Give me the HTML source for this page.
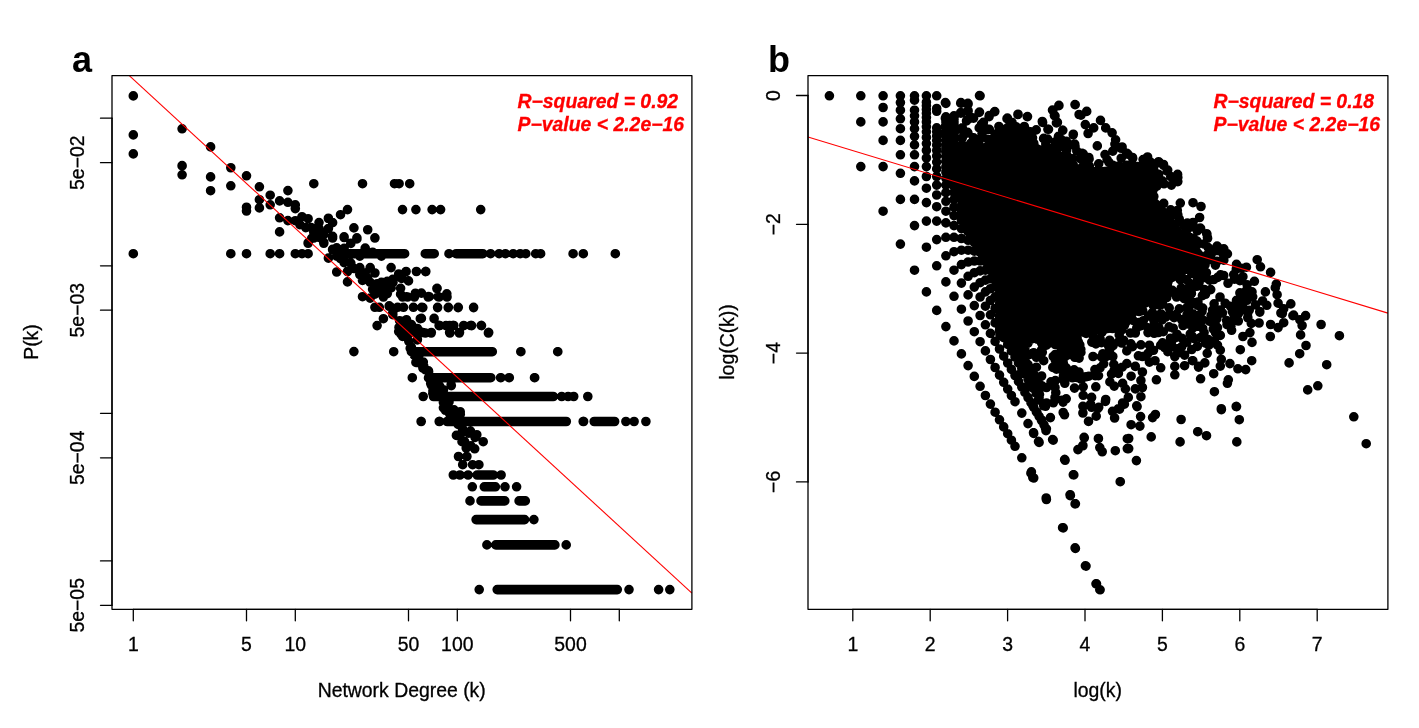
<!DOCTYPE html>
<html lang="en"><head><meta charset="utf-8"><title>Figure</title>
<style>
html,body{margin:0;padding:0;background:#fff;}
body{width:1419px;height:728px;overflow:hidden;}
svg{display:block;font-family:"Liberation Sans",sans-serif;}
.ax{stroke:#000;stroke-width:1.3;fill:none;stroke-linecap:round}
.fr{stroke:#000;stroke-width:1.3;fill:none;stroke-linejoin:round}
.lb{font-size:19.4px;fill:#000;stroke:#000;stroke-width:0.3px}
.tt{font-size:36px;font-weight:bold;fill:#000}
.st{font-size:19.4px;font-weight:bold;font-style:italic;fill:#f00;stroke:#f00;stroke-width:0.3px}
.pt{stroke:#000;stroke-width:9.6;stroke-linecap:round;fill:none}
.rl{stroke:#f00;stroke-width:1.1;fill:none}
</style></head><body>
<svg width="1419" height="728" viewBox="0 0 1419 728">
<rect width="1419" height="728" fill="#fff"/>

<g id="panel-a">
<path class="pt" d="M133.3 95.9h.01M133.3 134.9h.01M133.3 153.9h.01M182.1 128.8h.01M210.6 146.9h.01M182.1 165.6h.01M230.8 167.7h.01M182.1 165.9h.01M182.1 174.8h.01M210.6 176.9h.01M210.6 190.7h.01M230.8 167.8h.01M230.8 185.8h.01M246.5 175.8h.01M246.5 207.2h.01M246.5 211.0h.01M259.4 186.8h.01M259.4 199.7h.01M259.4 207.9h.01M270.2 195.2h.01M270.2 204.8h.01M279.6 200.9h.01M279.6 217.8h.01M279.6 231.9h.01M287.9 190.6h.01M287.9 202.3h.01M287.9 220.6h.01M295.3 208.6h.01M133.3 253.7h.01M230.8 253.7h.01M246.5 253.7h.01M270.2 253.7h.01M279.6 253.7h.01M295.3 253.7h.01M302.0 253.7h.01M308.1 253.7h.01M313.8 183.7h.01M362.5 183.7h.01M394.5 183.7h.01M399.1 183.7h.01M409.7 183.7h.01M402.5 209.6h.01M415.9 209.6h.01M432.1 209.6h.01M440.6 209.6h.01M347.5 209.6h.01M340.5 214.7h.01M328.4 218.5h.01M332.6 222.7h.01M353.9 227.9h.01M367.7 229.8h.01M374.9 237.8h.01M344.1 236.8h.01M356.9 237.8h.01M350.8 243.2h.01M365.2 248.1h.01M308.1 243.2h.01M323.8 242.5h.01M295.3 204.9h.01M302.0 216.7h.01M308.1 218.7h.01M295.3 220.7h.01M299.9 224.6h.01M305.8 227.6h.01M311.2 227.6h.01M319.0 222.6h.01M328.4 218.2h.01M332.6 222.6h.01M319.0 228.5h.01M313.8 232.5h.01M323.8 234.5h.01M328.4 228.5h.01M332.6 236.4h.01M319.0 237.4h.01M323.8 243.3h.01M308.1 243.3h.01M311.7 238.4h.01M347.5 209.6h.01M340.5 214.7h.01M353.9 227.8h.01M367.7 229.7h.01M374.9 237.9h.01M344.1 236.9h.01M356.9 237.9h.01M350.8 243.3h.01M332.6 249.3h.01M336.7 248.3h.01M340.5 250.3h.01M344.1 248.3h.01M365.2 248.3h.01M359.8 256.2h.01M381.4 256.2h.01M372.6 252.2h.01M336.7 256.2h.01M344.1 260.1h.01M350.8 263.1h.01M328.4 258.1h.01M308.1 242.9h.01M323.8 242.9h.01M313.8 238.0h.01M332.6 238.0h.01M344.1 237.5h.01M356.9 238.9h.01M350.8 243.4h.01M374.9 238.0h.01M365.2 248.8h.01M381.4 255.7h.01M359.8 255.7h.01M332.6 249.8h.01M336.7 247.8h.01M344.1 250.8h.01M338.5 254.7h.01M328.4 258.2h.01M340.5 258.7h.01M344.1 262.6h.01M350.8 263.6h.01M336.7 272.0h.01M347.5 271.5h.01M353.9 268.5h.01M359.8 267.6h.01M370.2 267.6h.01M374.9 273.0h.01M359.8 274.5h.01M347.5 281.9h.01M362.5 280.4h.01M370.2 282.4h.01M374.9 284.3h.01M381.4 282.4h.01M387.3 281.4h.01M392.8 279.4h.01M381.4 288.3h.01M387.3 290.3h.01M383.4 295.2h.01M374.9 294.2h.01M362.5 296.7h.01M370.2 298.1h.01M391.1 267.6h.01M398.7 274.0h.01M406.1 271.5h.01M416.4 271.5h.01M425.8 271.5h.01M408.5 280.9h.01M401.6 278.4h.01M400.6 288.3h.01M400.6 294.2h.01M406.6 296.7h.01M415.4 293.2h.01M421.4 293.2h.01M429.2 296.7h.01M437.1 288.3h.01M438.1 296.7h.01M302.0 253.7h.01M308.1 253.7h.01M374.9 307.3h.01M379.3 307.3h.01M391.1 307.3h.01M397.6 307.3h.01M403.5 307.3h.01M413.4 307.3h.01M421.8 307.3h.01M437.6 307.3h.01M448.4 307.3h.01M458.3 307.3h.01M473.6 307.3h.01M377.1 325.6h.01M439.1 325.6h.01M446.0 325.6h.01M452.9 325.6h.01M463.7 325.6h.01M471.6 325.6h.01M481.5 325.6h.01M420.3 318.7h.01M434.1 318.7h.01M383.4 318.7h.01M449.9 333.0h.01M459.3 333.0h.01M488.4 333.0h.01M425.3 333.0h.01M431.2 333.0h.01M393.7 351.7h.01M383.4 297.0h.01M402.6 297.0h.01M407.5 297.0h.01M414.4 297.0h.01M428.2 297.0h.01M439.1 297.0h.01M447.0 297.0h.01M389.2 305.9h.01M383.4 318.7h.01M392.8 314.7h.01M399.6 320.7h.01M406.5 319.7h.01M411.4 324.6h.01M399.6 327.6h.01M404.5 332.5h.01M409.5 332.5h.01M417.4 328.5h.01M417.4 334.5h.01M402.6 336.4h.01M417.4 339.4h.01M425.3 333.0h.01M431.2 333.0h.01M411.4 347.3h.01M417.4 362.1h.01M423.3 362.1h.01M412.3 377.7h.01M500.6 377.7h.01M509.0 377.7h.01M534.7 377.7h.01M423.2 396.5h.01M421.2 421.5h.01M439.5 421.5h.01M417.8 361.9h.01M423.7 365.9h.01M428.6 371.8h.01M429.6 377.7h.01M433.5 384.6h.01M437.5 389.5h.01M451.3 385.6h.01M439.5 396.4h.01M443.4 402.4h.01M446.4 408.3h.01M451.3 414.2h.01M460.2 412.2h.01M455.3 420.1h.01M432.1 209.6h.01M440.6 209.6h.01M480.7 209.6h.01M434.2 253.7h.01M449.0 253.7h.01M490.6 253.7h.01M499.1 253.7h.01M505.4 253.7h.01M513.2 253.7h.01M520.2 253.7h.01M525.8 253.7h.01M535.7 253.7h.01M540.6 253.7h.01M573.1 253.7h.01M583.3 253.7h.01M615.3 253.7h.01M488.7 332.6h.01M520.9 351.7h.01M557.8 351.7h.01M500.9 377.7h.01M509.3 377.7h.01M534.5 377.7h.01M561.7 396.5h.01M568.1 396.5h.01M573.7 396.5h.01M587.8 396.5h.01M583.6 421.5h.01M625.9 421.5h.01M634.1 421.5h.01M645.9 421.5h.01M421.1 421.5h.01M439.2 421.5h.01M583.2 421.5h.01M453.6 414.2h.01M459.2 424.1h.01M456.4 435.4h.01M462.0 432.6h.01M470.5 431.1h.01M476.8 434.7h.01M462.0 441.7h.01M483.2 441.7h.01M466.2 448.1h.01M474.7 448.8h.01M458.5 456.5h.01M466.9 456.5h.01M462.7 464.7h.01M472.6 464.7h.01M478.9 464.7h.01M453.3 475.0h.01M459.9 475.0h.01M468.1 475.0h.01M501.1 475.0h.01M472.3 486.8h.01M505.0 486.8h.01M516.6 486.8h.01M470.0 500.9h.01M533.9 519.6h.01M486.9 544.9h.01M566.2 544.9h.01M479.2 589.6h.01M629.0 589.6h.01M658.6 589.6h.01M669.8 589.6h.01M425.6 271.6h.01M436.9 288.5h.01M446.8 293.8h.01M428.5 296.6h.01M438.3 296.9h.01M421.4 293.1h.01M434.1 318.4h.01M421.4 318.4h.01M422.8 307.6h.01M437.6 307.6h.01M448.2 307.6h.01M458.1 307.6h.01M473.6 307.6h.01M439.7 325.5h.01M449.6 325.5h.01M453.8 325.5h.01M463.7 325.5h.01M470.7 325.5h.01M481.3 325.5h.01M422.8 332.5h.01M431.3 332.5h.01M449.6 332.5h.01M459.5 332.5h.01M488.6 332.5h.01M520.8 351.7h.01M557.7 351.7h.01M353.9 351.6h.01M401.0 334.2h.01M410.2 348.3h.01M417.3 362.4h.01M428.5 377.9h.01M432.8 393.4h.01M445.4 410.3h.01M453.9 420.2h.01M417.3 339.9h.01M418.7 356.8h.01M428.5 370.9h.01M451.1 385.0h.01M449.0 401.9h.01M460.2 411.7h.01M458.1 424.4h.01M408.8 341.3h.01M414.4 355.4h.01M422.9 368.1h.01M431.3 385.0h.01M439.8 386.4h.01M441.2 397.7h.01M446.8 406.1h.01M452.5 414.6h.01M365.2 273.0h.01M367.7 278.4h.01M415.9 362.4h.01M422.3 365.5h.01M425.5 369.8h.01M430.7 383.5h.01M437.1 386.7h.01M443.4 389.9h.01M432.9 390.9h.01M447.7 405.7h.01M454.0 409.9h.01M460.3 414.2h.01M449.8 414.2h.01M443.4 407.8h.01M462.5 429.0h.01M468.8 433.2h.01M475.1 437.4h.01M458.2 435.3h.01M464.6 441.6h.01M470.9 445.9h.01M403.3 331.7h.01M399.0 327.5h.01M407.5 335.9h.01M401.1 321.1h.01M392.8 312.7h.01M389.2 306.3h.01M411.7 325.4h.01M418.1 329.6h.01M377.1 283.7h.01M381.4 286.5h.01M379.3 290.7h.01M385.4 282.3h.01M372.6 289.3h.01M387.3 293.6h.01M393.0 282.3h.01M391.1 287.9h.01M401.5 324.6h.01M407.1 327.4h.01M398.7 331.6h.01M404.3 335.8h.01M409.9 333.0h.01M415.6 330.2h.01M391.1 282.3h.01M370.2 282.3h.01M348.3 253.7H404.6M425.3 253.7H433.7M411.4 351.7H492.3M428.6 377.7H490.8M433.5 396.5H540.0M450.3 421.5H540.0M456.1 253.7H482.9M480.0 351.7H492.0M480.0 377.7H490.6M480.0 396.5H553.3M480.0 421.5H566.3M594.2 421.5H614.6M447.2 421.5H566.3M477.2 475.0H493.3M484.3 486.8H495.4M481.0 500.9H504.8M519.1 500.9H525.3M476.1 519.6H524.6M495.8 544.9H554.9M497.2 589.6H617.3M500.0 589.6H616.6"/>
<path class="rl" d="M129.3 75.6L691.9 593.1"/>
<rect class="fr" x="112.0" y="75.6" width="579.9" height="533.7"/>
<path class="ax" d="M133.3 609.3H619.3"/>
<path class="ax" d="M133.3 609.3v11.5"/>
<path class="ax" d="M246.5 609.3v11.5"/>
<path class="ax" d="M295.3 609.3v11.5"/>
<path class="ax" d="M408.5 609.3v11.5"/>
<path class="ax" d="M457.3 609.3v11.5"/>
<path class="ax" d="M570.5 609.3v11.5"/>
<path class="ax" d="M619.3 609.3v11.5"/>
<text class="lb" x="133.3" y="650.9" text-anchor="middle">1</text>
<text class="lb" x="246.5" y="650.9" text-anchor="middle">5</text>
<text class="lb" x="295.3" y="650.9" text-anchor="middle">10</text>
<text class="lb" x="408.5" y="650.9" text-anchor="middle">50</text>
<text class="lb" x="457.3" y="650.9" text-anchor="middle">100</text>
<text class="lb" x="570.5" y="650.9" text-anchor="middle">500</text>
<path class="ax" d="M112.0 118.2V605.3"/>
<path class="ax" d="M112.0 118.2h-11.5"/>
<path class="ax" d="M112.0 162.7h-11.5"/>
<path class="ax" d="M112.0 265.8h-11.5"/>
<path class="ax" d="M112.0 310.2h-11.5"/>
<path class="ax" d="M112.0 413.3h-11.5"/>
<path class="ax" d="M112.0 457.8h-11.5"/>
<path class="ax" d="M112.0 560.9h-11.5"/>
<path class="ax" d="M112.0 605.3h-11.5"/>
<text class="lb" transform="translate(83.8 162.7) rotate(-90)" text-anchor="middle">5e−02</text>
<text class="lb" transform="translate(83.8 310.2) rotate(-90)" text-anchor="middle">5e−03</text>
<text class="lb" transform="translate(83.8 457.8) rotate(-90)" text-anchor="middle">5e−04</text>
<text class="lb" transform="translate(83.8 605.3) rotate(-90)" text-anchor="middle">5e−05</text>
<text class="lb" x="401.7" y="696.5" text-anchor="middle">Network Degree (k)</text>
<text class="lb" transform="translate(37.9 342) rotate(-90)" text-anchor="middle">P(k)</text>
<text class="tt" x="72" y="71.7">a</text>
<text class="st" x="517.5" y="108">R−squared = 0.92</text>
<text class="st" x="517.5" y="131">P−value &lt; 2.2e−16</text>
</g>
<g id="panel-b">
<path class="pt" d="M829.4 95.8h.01M860.8 166.6h.01M860.8 121.9h.01M860.8 95.8h.01M883.1 211.2h.01M883.1 166.6h.01M883.1 140.4h.01M883.1 121.9h.01M883.1 107.5h.01M883.1 95.8h.01M900.4 244.1h.01M900.4 199.4h.01M900.4 173.3h.01M900.4 154.8h.01M900.4 140.4h.01M900.4 128.7h.01M900.4 118.8h.01M900.4 110.2h.01M900.4 102.6h.01M900.4 95.8h.01M914.5 270.2h.01M914.5 225.6h.01M914.5 199.4h.01M914.5 180.9h.01M914.5 166.6h.01M914.5 154.8h.01M914.5 144.9h.01M914.5 136.3h.01M914.5 128.7h.01M914.5 121.9h.01M914.5 115.8h.01M914.5 110.2h.01M914.5 100.2h.01M914.5 95.8h.01M926.4 291.9h.01M926.4 247.2h.01M926.4 221.1h.01M926.4 202.6h.01M926.4 188.2h.01M926.4 176.5h.01M926.4 166.6h.01M926.4 158.0h.01M926.4 150.4h.01M926.4 143.6h.01M926.4 137.4h.01M926.4 131.8h.01M926.4 126.7h.01M926.4 121.9h.01M926.4 117.5h.01M926.4 113.3h.01M926.4 109.4h.01M926.4 105.7h.01M926.4 102.2h.01M926.4 95.8h.01M936.7 310.4h.01M936.7 265.8h.01M936.7 239.6h.01M936.7 221.1h.01M936.7 206.7h.01M936.7 195.0h.01M936.7 185.1h.01M936.7 176.5h.01M936.7 168.9h.01M936.7 162.1h.01M936.7 156.0h.01M936.7 150.4h.01M936.7 145.2h.01M936.7 140.4h.01M936.7 136.0h.01M936.7 131.8h.01M936.7 127.9h.01M945.9 326.6h.01M945.9 281.9h.01M945.9 255.8h.01M945.9 237.3h.01M945.9 222.9h.01M945.9 211.2h.01M945.9 201.3h.01M945.9 192.7h.01M945.9 185.1h.01M945.9 178.3h.01M945.9 172.2h.01M945.9 166.6h.01M945.9 161.4h.01M945.9 156.6h.01M945.9 152.2h.01M945.9 148.0h.01M945.9 144.1h.01M945.9 140.4h.01M945.9 137.0h.01M945.9 133.7h.01M945.9 130.5h.01M945.9 127.5h.01M945.9 124.7h.01M945.9 121.9h.01M945.9 119.3h.01M945.9 116.8h.01M954.0 340.9h.01M954.0 296.3h.01M954.0 270.2h.01M954.0 251.7h.01M954.0 237.3h.01M954.0 225.6h.01M954.0 215.6h.01M954.0 207.0h.01M954.0 199.4h.01M954.0 192.7h.01M954.0 186.5h.01M954.0 180.9h.01M954.0 175.8h.01M954.0 171.0h.01M954.0 166.6h.01M954.0 162.4h.01M954.0 158.5h.01M954.0 154.8h.01M954.0 151.3h.01M954.0 148.0h.01M954.0 144.9h.01M954.0 141.9h.01M954.0 139.0h.01M954.0 136.3h.01M954.0 133.7h.01M954.0 131.1h.01M954.0 128.7h.01M954.0 126.4h.01M954.0 124.1h.01M954.0 121.9h.01M954.0 119.8h.01M954.0 117.8h.01M954.0 115.8h.01M961.4 353.9h.01M961.4 309.2h.01M961.4 283.1h.01M961.4 264.6h.01M961.4 250.2h.01M961.4 238.5h.01M961.4 228.6h.01M961.4 220.0h.01M961.4 212.4h.01M961.4 205.6h.01M961.4 199.4h.01M961.4 193.8h.01M961.4 188.7h.01M961.4 183.9h.01M961.4 179.5h.01M961.4 175.3h.01M961.4 171.4h.01M961.4 167.7h.01M961.4 164.3h.01M961.4 160.9h.01M961.4 157.8h.01M961.4 154.8h.01M961.4 151.9h.01M961.4 149.2h.01M961.4 146.6h.01M968.1 365.6h.01M968.1 321.0h.01M968.1 294.9h.01M968.1 276.3h.01M968.1 262.0h.01M968.1 250.2h.01M968.1 240.3h.01M968.1 231.7h.01M968.1 224.1h.01M968.1 217.3h.01M968.1 211.2h.01M968.1 205.6h.01M968.1 200.4h.01M968.1 195.7h.01M968.1 191.2h.01M968.1 187.1h.01M968.1 183.2h.01M968.1 179.5h.01M968.1 176.0h.01M968.1 172.7h.01M968.1 169.5h.01M968.1 166.6h.01M968.1 163.7h.01M968.1 160.9h.01M968.1 158.3h.01M968.1 155.8h.01M968.1 153.4h.01M968.1 151.0h.01M968.1 148.8h.01M974.3 376.4h.01M974.3 331.7h.01M974.3 305.6h.01M974.3 287.1h.01M974.3 272.7h.01M974.3 261.0h.01M974.3 251.1h.01M974.3 242.5h.01M974.3 234.9h.01M974.3 228.1h.01M974.3 221.9h.01M974.3 216.3h.01M974.3 211.2h.01M974.3 206.4h.01M974.3 202.0h.01M974.3 197.8h.01M974.3 193.9h.01M974.3 190.2h.01M974.3 186.8h.01M974.3 183.4h.01M974.3 180.3h.01M974.3 177.3h.01M974.3 174.4h.01M974.3 171.7h.01M974.3 169.1h.01M974.3 166.6h.01M974.3 164.1h.01M974.3 161.8h.01M974.3 159.5h.01M974.3 157.3h.01M974.3 155.2h.01M974.3 153.2h.01M974.3 151.2h.01M974.3 149.3h.01M974.3 147.4h.01M980.1 386.3h.01M980.1 341.7h.01M980.1 315.5h.01M980.1 297.0h.01M980.1 282.7h.01M980.1 270.9h.01M980.1 261.0h.01M980.1 252.4h.01M980.1 244.8h.01M980.1 238.0h.01M980.1 231.9h.01M980.1 226.3h.01M980.1 221.1h.01M980.1 216.3h.01M980.1 211.9h.01M980.1 207.7h.01M980.1 203.8h.01M980.1 200.2h.01M980.1 196.7h.01M980.1 193.4h.01M980.1 190.2h.01M980.1 187.2h.01M980.1 184.4h.01M980.1 181.6h.01M980.1 179.0h.01M980.1 176.5h.01M980.1 174.0h.01M980.1 171.7h.01M980.1 169.4h.01M980.1 167.3h.01M980.1 165.2h.01M980.1 163.1h.01M980.1 161.1h.01M980.1 159.2h.01M980.1 157.3h.01M980.1 155.5h.01M980.1 153.8h.01M980.1 152.0h.01M980.1 150.4h.01M980.1 148.7h.01M980.1 147.1h.01M985.4 395.5h.01M985.4 350.9h.01M985.4 324.8h.01M985.4 306.2h.01M985.4 291.9h.01M985.4 280.1h.01M985.4 270.2h.01M985.4 261.6h.01M985.4 254.0h.01M985.4 247.2h.01M985.4 241.1h.01M985.4 235.5h.01M985.4 230.3h.01M985.4 225.6h.01M985.4 221.1h.01M985.4 217.0h.01M985.4 213.1h.01M985.4 209.4h.01M985.4 205.9h.01M985.4 202.6h.01M985.4 199.4h.01M985.4 196.5h.01M985.4 193.6h.01M985.4 190.8h.01M985.4 188.2h.01M985.4 185.7h.01M985.4 183.3h.01M985.4 180.9h.01M985.4 178.7h.01M985.4 176.5h.01M985.4 174.4h.01M985.4 172.3h.01M985.4 170.3h.01M985.4 168.4h.01M985.4 166.6h.01M985.4 164.7h.01M985.4 163.0h.01M985.4 161.3h.01M985.4 159.6h.01M985.4 158.0h.01M985.4 156.4h.01M985.4 154.8h.01M985.4 153.3h.01M985.4 151.8h.01M985.4 150.4h.01M985.4 149.0h.01M985.4 147.6h.01M990.4 404.1h.01M990.4 359.5h.01M990.4 333.4h.01M990.4 314.8h.01M990.4 300.5h.01M990.4 288.7h.01M990.4 278.8h.01M990.4 270.2h.01M990.4 262.6h.01M990.4 255.8h.01M990.4 249.7h.01M990.4 244.1h.01M990.4 238.9h.01M990.4 234.2h.01M990.4 229.7h.01M990.4 225.6h.01M990.4 221.7h.01M990.4 218.0h.01M990.4 214.5h.01M990.4 211.2h.01M990.4 208.0h.01M990.4 205.1h.01M990.4 202.2h.01M990.4 199.4h.01M990.4 196.8h.01M990.4 194.3h.01M990.4 191.9h.01M990.4 189.5h.01M990.4 187.3h.01M990.4 185.1h.01M990.4 183.0h.01M990.4 180.9h.01M990.4 178.9h.01M990.4 177.0h.01M990.4 175.2h.01M990.4 173.3h.01M990.4 171.6h.01M990.4 169.9h.01M990.4 168.2h.01M990.4 166.6h.01M990.4 165.0h.01M990.4 163.4h.01M990.4 161.9h.01M990.4 160.4h.01M990.4 159.0h.01M990.4 157.5h.01M990.4 156.2h.01M990.4 154.8h.01M990.4 153.5h.01M990.4 152.2h.01M990.4 150.9h.01M990.4 149.7h.01M990.4 148.4h.01M990.4 147.2h.01M990.4 146.0h.01M990.4 144.9h.01M990.4 143.7h.01M995.1 412.2h.01M995.1 367.5h.01M995.1 341.4h.01M995.1 322.9h.01M995.1 308.5h.01M995.1 296.8h.01M995.1 286.9h.01M995.1 278.3h.01M995.1 270.7h.01M995.1 263.9h.01M995.1 257.8h.01M995.1 252.1h.01M995.1 247.0h.01M995.1 242.2h.01M995.1 237.8h.01M995.1 233.6h.01M995.1 229.7h.01M995.1 226.0h.01M995.1 222.6h.01M995.1 219.2h.01M995.1 216.1h.01M995.1 213.1h.01M995.1 210.2h.01M995.1 207.5h.01M995.1 204.9h.01M995.1 202.4h.01M995.1 199.9h.01M995.1 197.6h.01M995.1 195.3h.01M995.1 193.1h.01M995.1 191.0h.01M995.1 189.0h.01M995.1 187.0h.01M995.1 185.1h.01M995.1 183.2h.01M995.1 181.4h.01M995.1 179.6h.01M995.1 177.9h.01M995.1 176.2h.01M995.1 174.6h.01M995.1 173.0h.01M995.1 171.5h.01M995.1 170.0h.01M995.1 168.5h.01M995.1 167.0h.01M995.1 165.6h.01M995.1 164.2h.01M995.1 162.9h.01M995.1 161.5h.01M995.1 160.2h.01M995.1 159.0h.01M995.1 157.7h.01M995.1 156.5h.01M995.1 155.3h.01M995.1 154.1h.01M995.1 152.9h.01M995.1 151.8h.01M995.1 150.7h.01M995.1 149.6h.01M995.1 148.5h.01M995.1 147.4h.01M995.1 146.4h.01M995.1 145.4h.01M995.1 144.3h.01M995.1 143.3h.01M995.1 142.4h.01M995.1 141.4h.01M995.1 140.4h.01M995.1 139.5h.01M995.1 138.6h.01M995.1 137.7h.01M995.1 136.8h.01M995.1 135.9h.01M995.1 135.0h.01M995.1 134.1h.01M999.5 419.8h.01M999.5 375.1h.01M999.5 349.0h.01M999.5 330.5h.01M999.5 316.1h.01M999.5 304.4h.01M999.5 294.4h.01M999.5 285.8h.01M999.5 278.3h.01M999.5 271.5h.01M999.5 265.3h.01M999.5 259.7h.01M999.5 254.6h.01M999.5 249.8h.01M999.5 245.4h.01M999.5 241.2h.01M999.5 237.3h.01M999.5 233.6h.01M999.5 230.1h.01M999.5 226.8h.01M999.5 223.7h.01M999.5 220.7h.01M999.5 217.8h.01M999.5 215.1h.01M999.5 212.5h.01M999.5 209.9h.01M999.5 207.5h.01M999.5 205.2h.01M999.5 202.9h.01M999.5 200.7h.01M999.5 198.6h.01M999.5 196.6h.01M999.5 194.6h.01M999.5 192.7h.01M999.5 190.8h.01M999.5 189.0h.01M999.5 187.2h.01M999.5 185.5h.01M999.5 183.8h.01M999.5 182.2h.01M999.5 180.6h.01M999.5 179.1h.01M999.5 177.5h.01M999.5 176.1h.01M999.5 174.6h.01M999.5 173.2h.01M999.5 171.8h.01M999.5 170.5h.01M999.5 169.1h.01M999.5 167.8h.01M999.5 166.6h.01M999.5 165.3h.01M999.5 164.1h.01M999.5 162.9h.01M999.5 161.7h.01M999.5 160.5h.01M999.5 159.4h.01M999.5 158.3h.01M999.5 157.2h.01M999.5 156.1h.01M999.5 155.0h.01M999.5 154.0h.01M999.5 152.9h.01M999.5 151.9h.01M999.5 150.9h.01M999.5 149.9h.01M999.5 149.0h.01M999.5 148.0h.01M999.5 147.1h.01M999.5 146.2h.01M999.5 145.2h.01M999.5 144.3h.01M999.5 143.5h.01M999.5 142.6h.01M999.5 141.7h.01M999.5 140.9h.01M999.5 140.0h.01M999.5 139.2h.01M999.5 138.4h.01M999.5 137.6h.01M999.5 136.8h.01M999.5 136.0h.01M999.5 135.2h.01M999.5 134.4h.01M999.5 133.7h.01M999.5 132.9h.01M1003.7 426.9h.01M1003.7 382.3h.01M1003.7 356.2h.01M1003.7 337.6h.01M1003.7 323.3h.01M1003.7 311.5h.01M1003.7 301.6h.01M1003.7 293.0h.01M1003.7 285.4h.01M1003.7 278.6h.01M1003.7 272.5h.01M1003.7 266.9h.01M1003.7 261.7h.01M1003.7 257.0h.01M1003.7 252.5h.01M1003.7 248.4h.01M1003.7 244.5h.01M1003.7 240.8h.01M1003.7 237.3h.01M1003.7 234.0h.01M1003.7 230.9h.01M1003.7 227.9h.01M1003.7 225.0h.01M1003.7 222.3h.01M1003.7 219.6h.01M1003.7 217.1h.01M1003.7 214.7h.01M1003.7 212.3h.01M1003.7 210.1h.01M1003.7 207.9h.01M1003.7 205.8h.01M1003.7 203.7h.01M1003.7 201.7h.01M1003.7 199.8h.01M1003.7 198.0h.01M1003.7 196.1h.01M1003.7 194.4h.01M1003.7 192.7h.01M1003.7 191.0h.01M1003.7 189.4h.01M1003.7 187.8h.01M1003.7 186.2h.01M1003.7 184.7h.01M1003.7 183.2h.01M1003.7 181.8h.01M1003.7 180.4h.01M1003.7 179.0h.01M1003.7 177.6h.01M1003.7 176.3h.01M1003.7 175.0h.01M1003.7 173.7h.01M1003.7 172.5h.01M1003.7 171.2h.01M1003.7 170.0h.01M1003.7 168.9h.01M1003.7 167.7h.01M1003.7 166.6h.01M1003.7 165.4h.01M1003.7 164.3h.01M1003.7 163.2h.01M1003.7 162.2h.01M1003.7 161.1h.01M1003.7 160.1h.01M1003.7 159.1h.01M1003.7 158.1h.01M1003.7 157.1h.01M1003.7 156.1h.01M1003.7 155.2h.01M1003.7 154.2h.01M1003.7 153.3h.01M1003.7 152.4h.01M1003.7 151.5h.01M1003.7 150.6h.01M1003.7 149.7h.01M1003.7 148.9h.01M1003.7 148.0h.01M1003.7 147.2h.01M1003.7 146.4h.01M1003.7 145.5h.01M1003.7 144.7h.01M1003.7 143.9h.01M1003.7 143.1h.01M1003.7 142.3h.01M1003.7 141.6h.01M1003.7 140.8h.01M1003.7 140.1h.01M1003.7 139.3h.01M1003.7 138.6h.01M1003.7 137.9h.01M1003.7 137.1h.01M1003.7 136.4h.01M1003.7 135.7h.01M1003.7 135.0h.01M1003.7 134.3h.01M1003.7 133.7h.01M1003.7 133.0h.01M1007.7 433.7h.01M1007.7 389.1h.01M1007.7 363.0h.01M1007.7 344.4h.01M1007.7 330.1h.01M1007.7 318.3h.01M1007.7 308.4h.01M1007.7 299.8h.01M1007.7 292.2h.01M1007.7 285.4h.01M1007.7 279.3h.01M1007.7 273.7h.01M1007.7 268.5h.01M1007.7 263.8h.01M1007.7 259.3h.01M1007.7 255.2h.01M1007.7 251.2h.01M1007.7 247.6h.01M1007.7 244.1h.01M1007.7 240.8h.01M1007.7 237.6h.01M1007.7 234.6h.01M1007.7 231.8h.01M1007.7 229.0h.01M1007.7 226.4h.01M1007.7 223.9h.01M1007.7 221.5h.01M1007.7 219.1h.01M1007.7 216.9h.01M1007.7 214.7h.01M1007.7 212.6h.01M1007.7 210.5h.01M1007.7 208.5h.01M1007.7 206.6h.01M1007.7 204.7h.01M1007.7 202.9h.01M1007.7 201.2h.01M1007.7 199.4h.01M1007.7 197.8h.01M1007.7 196.1h.01M1007.7 194.6h.01M1007.7 193.0h.01M1007.7 191.5h.01M1007.7 190.0h.01M1007.7 188.6h.01M1007.7 187.1h.01M1007.7 185.8h.01M1007.7 184.4h.01M1007.7 183.1h.01M1007.7 181.8h.01M1007.7 180.5h.01M1007.7 179.2h.01M1007.7 178.0h.01M1007.7 176.8h.01M1007.7 175.6h.01M1007.7 174.5h.01M1007.7 173.3h.01M1007.7 172.2h.01M1007.7 171.1h.01M1007.7 170.0h.01M1007.7 169.0h.01M1007.7 167.9h.01M1007.7 166.9h.01M1007.7 165.9h.01M1007.7 164.9h.01M1007.7 163.9h.01M1007.7 162.9h.01M1007.7 162.0h.01M1007.7 161.0h.01M1007.7 160.1h.01M1007.7 159.2h.01M1007.7 158.3h.01M1007.7 157.4h.01M1007.7 156.5h.01M1007.7 155.7h.01M1007.7 154.8h.01M1007.7 154.0h.01M1007.7 153.1h.01M1007.7 152.3h.01M1007.7 151.5h.01M1007.7 150.7h.01M1007.7 149.9h.01M1007.7 149.1h.01M1007.7 148.4h.01M1007.7 147.6h.01M1007.7 146.8h.01M1007.7 146.1h.01M1007.7 145.4h.01M1007.7 144.6h.01M1007.7 143.9h.01M1007.7 143.2h.01M1007.7 142.5h.01M1007.7 141.8h.01M1007.7 141.1h.01M1007.7 140.4h.01M1007.7 139.8h.01M1007.7 139.1h.01M1007.7 138.4h.01M1007.7 137.8h.01M1007.7 137.1h.01M1007.7 136.5h.01M1007.7 135.9h.01M1007.7 135.2h.01M1007.7 134.6h.01M1007.7 134.0h.01M1007.7 133.4h.01M1007.7 132.8h.01M1011.4 440.2h.01M1011.4 395.5h.01M1011.4 369.4h.01M1011.4 350.9h.01M1011.4 336.5h.01M1011.4 324.8h.01M1011.4 314.8h.01M1011.4 306.2h.01M1011.4 298.7h.01M1011.4 291.9h.01M1011.4 285.7h.01M1011.4 280.1h.01M1011.4 275.0h.01M1011.4 270.2h.01M1011.4 265.8h.01M1011.4 261.6h.01M1011.4 257.7h.01M1011.4 254.0h.01M1011.4 250.5h.01M1011.4 247.2h.01M1011.4 244.1h.01M1011.4 241.1h.01M1011.4 238.2h.01M1011.4 235.5h.01M1011.4 232.9h.01M1011.4 230.3h.01M1011.4 227.9h.01M1011.4 225.6h.01M1011.4 223.3h.01M1011.4 221.1h.01M1011.4 219.0h.01M1011.4 217.0h.01M1011.4 215.0h.01M1011.4 213.1h.01M1011.4 211.2h.01M1011.4 209.4h.01M1011.4 207.6h.01M1011.4 205.9h.01M1011.4 204.2h.01M1011.4 202.6h.01M1011.4 201.0h.01M1011.4 199.4h.01M1011.4 197.9h.01M1011.4 196.5h.01M1011.4 195.0h.01M1011.4 193.6h.01M1011.4 192.2h.01M1011.4 190.8h.01M1011.4 189.5h.01M1011.4 188.2h.01M1011.4 186.9h.01M1011.4 185.7h.01M1011.4 184.5h.01M1011.4 183.3h.01M1011.4 182.1h.01M1011.4 180.9h.01M1011.4 179.8h.01M1011.4 178.7h.01M1011.4 177.6h.01M1011.4 176.5h.01M1011.4 175.4h.01M1011.4 174.4h.01M1011.4 173.3h.01M1011.4 172.3h.01M1011.4 171.3h.01M1011.4 170.3h.01M1011.4 169.4h.01M1011.4 168.4h.01M1011.4 167.5h.01M1011.4 166.6h.01M1011.4 165.6h.01M1011.4 164.7h.01M1011.4 163.8h.01M1011.4 163.0h.01M1011.4 162.1h.01M1011.4 161.3h.01M1011.4 160.4h.01M1011.4 159.6h.01M1011.4 158.8h.01M1011.4 158.0h.01M1011.4 157.2h.01M1011.4 156.4h.01M1011.4 155.6h.01M1011.4 154.8h.01M1011.4 154.0h.01M1011.4 153.3h.01M1011.4 152.5h.01M1011.4 151.8h.01M1011.4 151.1h.01M1011.4 150.4h.01M1011.4 149.7h.01M1011.4 149.0h.01M1011.4 148.3h.01M1011.4 147.6h.01M1011.4 146.9h.01M1011.4 146.2h.01M1011.4 145.5h.01M1011.4 144.9h.01M1011.4 144.2h.01M1011.4 143.6h.01M1011.4 142.9h.01M1011.4 142.3h.01M1011.4 141.7h.01M1011.4 141.1h.01M1011.4 140.4h.01M1011.4 139.8h.01M1011.4 139.2h.01M1011.4 138.6h.01M1011.4 138.0h.01M1011.4 137.4h.01M1011.4 136.9h.01M1011.4 136.3h.01M1011.4 135.7h.01M1011.4 135.1h.01M1011.4 134.6h.01M1011.4 134.0h.01M1011.4 133.5h.01M1011.4 132.9h.01M1015.0 446.3h.01M1015.0 401.7h.01M1015.0 375.5h.01M1015.0 357.0h.01M1015.0 342.6h.01M1015.0 330.9h.01M1015.0 321.0h.01M1015.0 312.4h.01M1015.0 304.8h.01M1015.0 298.0h.01M1015.0 291.9h.01M1015.0 286.3h.01M1015.0 281.1h.01M1015.0 276.3h.01M1015.0 271.9h.01M1015.0 267.7h.01M1015.0 263.8h.01M1015.0 260.2h.01M1015.0 256.7h.01M1015.0 253.4h.01M1015.0 250.2h.01M1015.0 247.2h.01M1015.0 244.4h.01M1015.0 241.6h.01M1015.0 239.0h.01M1015.0 236.5h.01M1015.0 234.0h.01M1015.0 231.7h.01M1015.0 229.4h.01M1015.0 227.3h.01M1015.0 225.1h.01M1015.0 223.1h.01M1015.0 221.1h.01M1015.0 219.2h.01M1015.0 217.3h.01M1015.0 215.5h.01M1015.0 213.7h.01M1015.0 212.0h.01M1015.0 210.4h.01M1015.0 208.7h.01M1015.0 207.1h.01M1015.0 205.6h.01M1015.0 204.1h.01M1015.0 202.6h.01M1015.0 201.1h.01M1015.0 199.7h.01M1015.0 198.3h.01M1015.0 197.0h.01M1015.0 195.7h.01M1015.0 194.4h.01M1015.0 193.1h.01M1015.0 191.8h.01M1015.0 190.6h.01M1015.0 189.4h.01M1015.0 188.2h.01M1015.0 187.1h.01M1015.0 185.9h.01M1015.0 184.8h.01M1015.0 183.7h.01M1015.0 182.6h.01M1015.0 181.6h.01M1015.0 180.5h.01M1015.0 179.5h.01M1015.0 178.5h.01M1015.0 177.5h.01M1015.0 176.5h.01M1015.0 175.5h.01M1015.0 174.6h.01M1015.0 173.6h.01M1015.0 172.7h.01M1015.0 171.8h.01M1015.0 170.9h.01M1015.0 170.0h.01M1015.0 169.1h.01M1015.0 168.2h.01M1015.0 167.4h.01M1015.0 166.6h.01M1015.0 165.7h.01M1015.0 164.9h.01M1015.0 164.1h.01M1015.0 163.3h.01M1015.0 162.5h.01M1015.0 161.7h.01M1015.0 160.9h.01M1015.0 160.2h.01M1015.0 159.4h.01M1015.0 158.7h.01M1015.0 158.0h.01M1015.0 157.2h.01M1015.0 156.5h.01M1015.0 155.8h.01M1015.0 155.1h.01M1015.0 154.4h.01M1015.0 153.7h.01M1015.0 153.0h.01M1015.0 152.3h.01M1015.0 151.7h.01M1015.0 151.0h.01M1015.0 150.4h.01M1015.0 149.7h.01M1015.0 149.1h.01M1015.0 148.4h.01M1015.0 147.8h.01M1015.0 147.2h.01M1015.0 146.6h.01M1015.0 146.0h.01M1015.0 145.4h.01M1015.0 144.8h.01M1015.0 144.2h.01M1015.0 143.6h.01M1015.0 143.0h.01M1015.0 142.4h.01M1015.0 141.8h.01M1015.0 141.3h.01M1015.0 140.7h.01M1015.0 140.2h.01M1015.0 139.6h.01M1015.0 139.1h.01M1015.0 138.5h.01M1015.0 138.0h.01M1015.0 137.4h.01M1015.0 136.9h.01M1015.0 136.4h.01M1015.0 135.9h.01M1015.0 135.3h.01M1015.0 134.8h.01M1015.0 134.3h.01M1015.0 133.8h.01M936.7 95.8h.01M936.7 111.3h.01M936.7 108.5h.01M945.9 103.4h.01M961.4 103.2h.01M968.1 104.1h.01M968.1 111.2h.01M980.1 95.8h.01M1021.8 457.8h.01M1030.9 473.2h.01M1033.7 478.0h.01M1046.4 499.5h.01M1063.2 527.9h.01M1075.4 548.4h.01M1086.0 566.1h.01M1096.5 583.8h.01M1100.1 589.8h.01M1021.8 413.1h.01M1028.0 423.6h.01M1033.7 433.4h.01M1039.1 442.4h.01M1070.4 495.4h.01M1075.4 503.8h.01M1018.5 381.4h.01M1021.8 387.0h.01M1024.9 392.4h.01M1028.0 397.5h.01M1030.9 402.5h.01M1033.7 407.3h.01M1036.4 411.9h.01M1039.1 416.3h.01M1041.6 420.6h.01M1044.0 424.8h.01M1046.4 428.8h.01M1053.2 440.2h.01M1065.1 460.3h.01M1073.8 474.9h.01M1018.5 362.9h.01M1018.5 348.5h.01M1018.5 336.8h.01M1018.5 326.8h.01M1018.5 318.2h.01M1018.5 310.6h.01M1018.5 303.9h.01M1018.5 297.7h.01M1018.5 292.1h.01M1018.5 287.0h.01M1018.5 282.2h.01M1018.5 277.8h.01M1018.5 273.6h.01M1018.5 269.7h.01M1018.5 266.0h.01M1018.5 262.5h.01M1018.5 259.2h.01M1018.5 256.1h.01M1018.5 253.1h.01M1018.5 250.2h.01M1018.5 247.5h.01M1018.5 244.9h.01M1018.5 242.3h.01M1018.5 239.9h.01M1018.5 237.6h.01M1018.5 235.3h.01M1018.5 233.1h.01M1018.5 231.0h.01M1018.5 229.0h.01M1018.5 227.0h.01M1018.5 225.1h.01M1018.5 223.2h.01M1018.5 221.4h.01M1018.5 219.6h.01M1018.5 217.9h.01M1018.5 216.2h.01M1018.5 214.6h.01M1018.5 213.0h.01M1018.5 211.4h.01M1018.5 209.9h.01M1018.5 208.4h.01M1018.5 207.0h.01M1018.5 205.6h.01M1018.5 204.2h.01M1018.5 202.8h.01M1018.5 201.5h.01M1018.5 200.2h.01M1018.5 198.9h.01M1018.5 197.7h.01M1018.5 196.5h.01M1018.5 195.3h.01M1018.5 194.1h.01M1018.5 192.9h.01M1018.5 191.8h.01M1018.5 190.7h.01M1018.5 189.6h.01M1018.5 188.5h.01M1018.5 187.4h.01M1018.5 186.4h.01M1018.5 185.3h.01M1018.5 184.3h.01M1018.5 183.3h.01M1018.5 182.3h.01M1018.5 181.4h.01M1018.5 180.4h.01M1018.5 179.5h.01M1018.5 178.5h.01M1018.5 177.6h.01M1018.5 176.7h.01M1018.5 175.8h.01M1018.5 175.0h.01M1018.5 174.1h.01M1018.5 173.3h.01M1018.5 172.4h.01M1018.5 171.6h.01M1018.5 170.8h.01M1018.5 169.9h.01M1018.5 169.1h.01M1018.5 168.4h.01M1018.5 167.6h.01M1018.5 166.8h.01M1018.5 166.0h.01M1018.5 165.3h.01M1018.5 164.5h.01M1018.5 163.8h.01M1018.5 163.1h.01M1018.5 162.4h.01M1018.5 161.7h.01M1018.5 160.9h.01M1018.5 160.3h.01M1018.5 159.6h.01M1018.5 158.9h.01M1018.5 158.2h.01M1018.5 157.5h.01M1018.5 156.9h.01M1018.5 156.2h.01M1018.5 155.6h.01M1018.5 154.9h.01M1018.5 154.3h.01M1018.5 153.7h.01M1018.5 153.1h.01M1018.5 152.4h.01M1018.5 151.8h.01M1018.5 151.2h.01M1018.5 150.6h.01M1018.5 150.0h.01M1018.5 149.4h.01M1018.5 148.9h.01M1018.5 148.3h.01M1018.5 147.7h.01M1018.5 147.1h.01M1018.5 146.6h.01M1018.5 146.0h.01M1018.5 145.5h.01M1018.5 144.9h.01M1018.5 144.4h.01M1018.5 143.8h.01M1018.5 143.3h.01M1018.5 142.8h.01M1018.5 142.2h.01M1018.5 141.7h.01M1018.5 141.2h.01M1018.5 140.7h.01M1018.5 140.2h.01M1018.5 139.7h.01M1018.5 139.2h.01M1018.5 138.7h.01M1018.5 138.2h.01M1021.8 368.5h.01M1021.8 354.1h.01M1021.8 342.4h.01M1021.8 332.4h.01M1021.8 323.8h.01M1021.8 316.3h.01M1021.8 309.5h.01M1021.8 303.3h.01M1021.8 297.7h.01M1021.8 292.6h.01M1021.8 287.8h.01M1021.8 283.4h.01M1021.8 279.2h.01M1021.8 275.3h.01M1021.8 271.6h.01M1021.8 268.1h.01M1021.8 264.8h.01M1021.8 261.7h.01M1021.8 258.7h.01M1021.8 255.8h.01M1021.8 253.1h.01M1021.8 250.5h.01M1021.8 247.9h.01M1021.8 245.5h.01M1021.8 243.2h.01M1021.8 240.9h.01M1021.8 238.7h.01M1021.8 236.6h.01M1021.8 234.6h.01M1021.8 232.6h.01M1021.8 230.7h.01M1021.8 228.8h.01M1021.8 227.0h.01M1021.8 225.2h.01M1021.8 223.5h.01M1021.8 221.8h.01M1021.8 220.2h.01M1021.8 218.6h.01M1021.8 217.0h.01M1021.8 215.5h.01M1021.8 214.1h.01M1021.8 212.6h.01M1021.8 211.2h.01M1021.8 209.8h.01M1021.8 208.4h.01M1021.8 207.1h.01M1021.8 205.8h.01M1021.8 204.5h.01M1021.8 203.3h.01M1021.8 202.1h.01M1021.8 200.9h.01M1021.8 199.7h.01M1021.8 198.5h.01M1021.8 197.4h.01M1021.8 196.3h.01M1021.8 195.2h.01M1021.8 194.1h.01M1021.8 193.0h.01M1021.8 192.0h.01M1021.8 190.9h.01M1021.8 189.9h.01M1021.8 188.9h.01M1021.8 187.9h.01M1021.8 187.0h.01M1021.8 186.0h.01M1021.8 185.1h.01M1021.8 184.2h.01M1021.8 183.2h.01M1021.8 182.3h.01M1021.8 181.4h.01M1021.8 180.6h.01M1021.8 179.7h.01M1021.8 178.9h.01M1021.8 178.0h.01M1021.8 177.2h.01M1021.8 176.4h.01M1021.8 175.6h.01M1021.8 174.8h.01M1021.8 174.0h.01M1021.8 173.2h.01M1021.8 172.4h.01M1021.8 171.6h.01M1021.8 170.9h.01M1021.8 170.1h.01M1021.8 169.4h.01M1021.8 168.7h.01M1021.8 168.0h.01M1021.8 167.3h.01M1021.8 166.6h.01M1021.8 165.9h.01M1021.8 165.2h.01M1021.8 164.5h.01M1021.8 163.8h.01M1021.8 163.1h.01M1021.8 162.5h.01M1021.8 161.8h.01M1021.8 161.2h.01M1021.8 160.5h.01M1021.8 159.9h.01M1021.8 159.3h.01M1021.8 158.7h.01M1021.8 158.0h.01M1021.8 157.4h.01M1021.8 156.8h.01M1021.8 156.2h.01M1021.8 155.6h.01M1021.8 155.0h.01M1021.8 154.5h.01M1021.8 153.9h.01M1021.8 153.3h.01M1021.8 152.7h.01M1021.8 152.2h.01M1021.8 151.6h.01M1021.8 151.1h.01M1021.8 150.5h.01M1021.8 150.0h.01M1021.8 149.4h.01M1021.8 148.9h.01M1021.8 148.4h.01M1021.8 147.8h.01M1021.8 147.3h.01M1021.8 146.8h.01M1021.8 146.3h.01M1021.8 145.8h.01M1021.8 145.3h.01M1021.8 144.8h.01M1021.8 144.3h.01M1021.8 143.8h.01M1021.8 143.3h.01M1021.8 142.8h.01M1021.8 142.3h.01M1021.8 141.9h.01M1021.8 141.4h.01M1021.8 140.9h.01M1021.8 140.4h.01M1024.9 373.8h.01M1024.9 359.5h.01M1024.9 347.7h.01M1024.9 337.8h.01M1024.9 329.2h.01M1024.9 321.6h.01M1024.9 314.8h.01M1024.9 308.7h.01M1024.9 303.1h.01M1024.9 297.9h.01M1024.9 293.2h.01M1024.9 288.7h.01M1024.9 284.6h.01M1024.9 280.7h.01M1024.9 277.0h.01M1024.9 273.5h.01M1024.9 270.2h.01M1024.9 267.1h.01M1024.9 264.1h.01M1024.9 261.2h.01M1024.9 258.5h.01M1024.9 255.8h.01M1024.9 253.3h.01M1024.9 250.9h.01M1024.9 248.5h.01M1024.9 246.3h.01M1024.9 244.1h.01M1024.9 242.0h.01M1024.9 239.9h.01M1024.9 237.9h.01M1024.9 236.0h.01M1024.9 234.2h.01M1024.9 232.3h.01M1024.9 230.6h.01M1024.9 228.9h.01M1024.9 227.2h.01M1024.9 225.6h.01M1024.9 224.0h.01M1024.9 222.4h.01M1024.9 220.9h.01M1024.9 219.4h.01M1024.9 218.0h.01M1024.9 216.6h.01M1024.9 215.2h.01M1024.9 213.8h.01M1024.9 212.5h.01M1024.9 211.2h.01M1024.9 209.9h.01M1024.9 208.7h.01M1024.9 207.4h.01M1024.9 206.2h.01M1024.9 205.1h.01M1024.9 203.9h.01M1024.9 202.8h.01M1024.9 201.6h.01M1024.9 200.5h.01M1024.9 199.4h.01M1024.9 198.4h.01M1024.9 197.3h.01M1024.9 196.3h.01M1024.9 195.3h.01M1024.9 194.3h.01M1024.9 193.3h.01M1024.9 192.3h.01M1024.9 191.4h.01M1024.9 190.4h.01M1024.9 189.5h.01M1024.9 188.6h.01M1024.9 187.7h.01M1024.9 186.8h.01M1024.9 185.9h.01M1024.9 185.1h.01M1024.9 184.2h.01M1024.9 183.4h.01M1024.9 182.6h.01M1024.9 181.7h.01M1024.9 180.9h.01M1024.9 180.1h.01M1024.9 179.3h.01M1024.9 178.6h.01M1024.9 177.8h.01M1024.9 177.0h.01M1024.9 176.3h.01M1024.9 175.5h.01M1024.9 174.8h.01M1024.9 174.1h.01M1024.9 173.3h.01M1024.9 172.6h.01M1024.9 171.9h.01M1024.9 171.2h.01M1024.9 170.5h.01M1024.9 169.9h.01M1024.9 169.2h.01M1024.9 168.5h.01M1024.9 167.9h.01M1024.9 167.2h.01M1024.9 166.6h.01M1024.9 165.9h.01M1024.9 165.3h.01M1024.9 164.6h.01M1024.9 164.0h.01M1024.9 163.4h.01M1024.9 162.8h.01M1024.9 162.2h.01M1024.9 161.6h.01M1024.9 161.0h.01M1024.9 160.4h.01M1024.9 159.8h.01M1024.9 159.3h.01M1024.9 158.7h.01M1024.9 158.1h.01M1024.9 157.5h.01M1024.9 157.0h.01M1024.9 156.4h.01M1024.9 155.9h.01M1024.9 155.3h.01M1024.9 154.8h.01M1024.9 154.3h.01M1024.9 153.7h.01M1024.9 153.2h.01M1024.9 152.7h.01M1024.9 152.2h.01M1024.9 151.7h.01M1024.9 151.2h.01M1024.9 150.7h.01M1024.9 150.2h.01M1024.9 149.7h.01M1024.9 149.2h.01M1024.9 148.7h.01M1024.9 148.2h.01M1024.9 147.7h.01M1024.9 147.2h.01M1024.9 146.7h.01M1024.9 146.3h.01M1024.9 145.8h.01M1024.9 145.3h.01M1024.9 144.9h.01M1024.9 144.4h.01M1024.9 144.0h.01M1024.9 143.5h.01M1024.9 143.1h.01M1024.9 142.6h.01M1024.9 142.2h.01M1028.0 379.0h.01M1028.0 364.6h.01M1028.0 343.0h.01M1028.0 334.4h.01M1028.0 326.8h.01M1028.0 320.0h.01M1028.0 313.9h.01M1028.0 308.3h.01M1028.0 303.1h.01M1028.0 298.3h.01M1028.0 293.9h.01M1028.0 289.7h.01M1028.0 285.8h.01M1028.0 282.1h.01M1028.0 278.7h.01M1028.0 275.4h.01M1028.0 272.2h.01M1028.0 269.2h.01M1028.0 266.4h.01M1028.0 263.6h.01M1028.0 261.0h.01M1028.0 258.5h.01M1028.0 256.0h.01M1028.0 253.7h.01M1028.0 251.4h.01M1028.0 249.2h.01M1028.0 247.1h.01M1028.0 245.1h.01M1028.0 243.1h.01M1028.0 241.2h.01M1028.0 239.3h.01M1028.0 237.5h.01M1028.0 235.7h.01M1028.0 234.0h.01M1028.0 232.3h.01M1028.0 230.7h.01M1028.0 229.1h.01M1028.0 227.6h.01M1028.0 226.1h.01M1028.0 224.6h.01M1028.0 223.1h.01M1028.0 221.7h.01M1028.0 220.3h.01M1028.0 219.0h.01M1028.0 217.6h.01M1028.0 216.3h.01M1028.0 215.1h.01M1028.0 213.8h.01M1028.0 212.6h.01M1028.0 211.4h.01M1028.0 210.2h.01M1028.0 209.0h.01M1028.0 207.9h.01M1028.0 206.8h.01M1028.0 205.7h.01M1028.0 204.6h.01M1028.0 203.5h.01M1028.0 202.5h.01M1028.0 201.5h.01M1028.0 200.4h.01M1028.0 199.4h.01M1028.0 198.5h.01M1028.0 197.5h.01M1028.0 196.5h.01M1028.0 195.6h.01M1028.0 194.7h.01M1028.0 193.8h.01M1028.0 192.9h.01M1028.0 192.0h.01M1028.0 191.1h.01M1028.0 190.2h.01M1028.0 189.4h.01M1028.0 188.5h.01M1028.0 187.7h.01M1028.0 186.9h.01M1028.0 186.1h.01M1028.0 185.3h.01M1028.0 184.5h.01M1028.0 183.7h.01M1028.0 182.9h.01M1028.0 182.2h.01M1028.0 181.4h.01M1028.0 180.7h.01M1028.0 179.9h.01M1028.0 179.2h.01M1028.0 178.5h.01M1028.0 177.8h.01M1028.0 177.1h.01M1028.0 176.4h.01M1028.0 175.7h.01M1028.0 175.0h.01M1028.0 174.3h.01M1028.0 173.7h.01M1028.0 173.0h.01M1028.0 172.4h.01M1028.0 171.7h.01M1028.0 171.1h.01M1028.0 170.4h.01M1028.0 169.8h.01M1028.0 169.2h.01M1028.0 168.6h.01M1028.0 168.0h.01M1028.0 167.3h.01M1028.0 166.7h.01M1028.0 166.2h.01M1028.0 165.6h.01M1028.0 165.0h.01M1028.0 164.4h.01M1028.0 163.8h.01M1028.0 163.3h.01M1028.0 162.7h.01M1028.0 162.1h.01M1028.0 161.6h.01M1028.0 161.0h.01M1028.0 160.5h.01M1028.0 160.0h.01M1028.0 159.4h.01M1028.0 158.9h.01M1028.0 158.4h.01M1028.0 157.9h.01M1028.0 157.3h.01M1028.0 156.8h.01M1028.0 156.3h.01M1028.0 155.8h.01M1028.0 155.3h.01M1028.0 154.8h.01M1028.0 154.3h.01M1028.0 153.8h.01M1028.0 153.3h.01M1028.0 152.9h.01M1028.0 152.4h.01M1028.0 151.9h.01M1028.0 151.4h.01M1028.0 151.0h.01M1028.0 150.5h.01M1028.0 150.0h.01M1028.0 149.6h.01M1028.0 149.1h.01M1028.0 148.7h.01M1028.0 148.2h.01M1028.0 147.8h.01M1028.0 147.3h.01M1028.0 146.9h.01M1028.0 146.5h.01M1028.0 146.0h.01M1028.0 145.6h.01M1028.0 145.2h.01M1028.0 144.7h.01M1028.0 144.3h.01M1030.9 384.0h.01M1030.9 369.6h.01M1030.9 339.3h.01M1030.9 331.7h.01M1030.9 324.9h.01M1030.9 318.8h.01M1030.9 313.2h.01M1030.9 308.1h.01M1030.9 303.3h.01M1030.9 298.8h.01M1030.9 294.7h.01M1030.9 290.8h.01M1030.9 287.1h.01M1030.9 283.6h.01M1030.9 280.3h.01M1030.9 277.2h.01M1030.9 274.2h.01M1030.9 271.3h.01M1030.9 268.6h.01M1030.9 265.9h.01M1030.9 263.4h.01M1030.9 261.0h.01M1030.9 258.6h.01M1030.9 256.4h.01M1030.9 254.2h.01M1030.9 252.1h.01M1030.9 250.0h.01M1030.9 248.1h.01M1030.9 246.1h.01M1030.9 244.3h.01M1030.9 242.5h.01M1030.9 240.7h.01M1030.9 239.0h.01M1030.9 237.3h.01M1030.9 235.7h.01M1030.9 234.1h.01M1030.9 232.5h.01M1030.9 231.0h.01M1030.9 229.5h.01M1030.9 228.1h.01M1030.9 226.7h.01M1030.9 225.3h.01M1030.9 223.9h.01M1030.9 222.6h.01M1030.9 221.3h.01M1030.9 220.0h.01M1030.9 218.8h.01M1030.9 217.5h.01M1030.9 216.3h.01M1030.9 215.2h.01M1030.9 214.0h.01M1030.9 212.9h.01M1030.9 211.7h.01M1030.9 210.6h.01M1030.9 209.6h.01M1030.9 208.5h.01M1030.9 207.4h.01M1030.9 206.4h.01M1030.9 205.4h.01M1030.9 204.4h.01M1030.9 203.4h.01M1030.9 202.5h.01M1030.9 201.5h.01M1030.9 200.6h.01M1030.9 199.6h.01M1030.9 198.7h.01M1030.9 197.8h.01M1030.9 196.9h.01M1030.9 196.1h.01M1030.9 195.2h.01M1030.9 194.3h.01M1030.9 193.5h.01M1030.9 192.7h.01M1030.9 191.8h.01M1030.9 191.0h.01M1030.9 190.2h.01M1030.9 189.4h.01M1030.9 188.7h.01M1030.9 187.9h.01M1030.9 187.1h.01M1030.9 186.4h.01M1030.9 185.6h.01M1030.9 184.9h.01M1030.9 184.2h.01M1030.9 183.4h.01M1030.9 182.7h.01M1030.9 182.0h.01M1030.9 181.3h.01M1030.9 180.6h.01M1030.9 180.0h.01M1030.9 179.3h.01M1030.9 178.6h.01M1030.9 178.0h.01M1030.9 177.3h.01M1030.9 176.7h.01M1030.9 176.0h.01M1030.9 175.4h.01M1030.9 174.8h.01M1030.9 174.1h.01M1030.9 173.5h.01M1030.9 172.9h.01M1030.9 172.3h.01M1030.9 171.7h.01M1030.9 171.1h.01M1030.9 170.5h.01M1030.9 169.9h.01M1030.9 169.4h.01M1030.9 168.8h.01M1030.9 168.2h.01M1030.9 167.7h.01M1030.9 167.1h.01M1030.9 166.6h.01M1030.9 166.0h.01M1030.9 165.5h.01M1030.9 164.9h.01M1030.9 164.4h.01M1030.9 163.9h.01M1030.9 163.3h.01M1030.9 162.8h.01M1030.9 162.3h.01M1030.9 161.8h.01M1030.9 161.3h.01M1030.9 160.8h.01M1030.9 160.3h.01M1030.9 159.8h.01M1030.9 159.3h.01M1030.9 158.8h.01M1030.9 158.3h.01M1030.9 157.8h.01M1030.9 157.3h.01M1030.9 156.9h.01M1030.9 156.4h.01M1030.9 155.9h.01M1030.9 155.5h.01M1030.9 155.0h.01M1030.9 154.5h.01M1030.9 154.1h.01M1030.9 153.6h.01M1030.9 153.2h.01M1030.9 152.7h.01M1030.9 152.3h.01M1030.9 151.9h.01M1030.9 151.4h.01M1030.9 151.0h.01M1030.9 150.5h.01M1030.9 150.1h.01M1030.9 149.7h.01M1030.9 149.3h.01M1030.9 148.9h.01M1030.9 148.4h.01M1030.9 148.0h.01M1030.9 147.6h.01M1030.9 147.2h.01M1030.9 146.8h.01M1030.9 146.4h.01M1030.9 146.0h.01M1030.9 145.6h.01M1033.7 388.7h.01M1033.7 374.4h.01M1033.7 352.7h.01M1033.7 336.5h.01M1033.7 329.7h.01M1033.7 323.6h.01M1033.7 318.0h.01M1033.7 312.8h.01M1033.7 308.1h.01M1033.7 303.6h.01M1033.7 299.5h.01M1033.7 295.5h.01M1033.7 291.9h.01M1033.7 288.4h.01M1033.7 285.1h.01M1033.7 281.9h.01M1033.7 278.9h.01M1033.7 276.1h.01M1033.7 273.3h.01M1033.7 270.7h.01M1033.7 268.2h.01M1033.7 265.8h.01M1033.7 263.4h.01M1033.7 261.2h.01M1033.7 259.0h.01M1033.7 256.9h.01M1033.7 254.8h.01M1033.7 252.8h.01M1033.7 250.9h.01M1033.7 249.0h.01M1033.7 247.2h.01M1033.7 245.5h.01M1033.7 243.7h.01M1033.7 242.1h.01M1033.7 240.4h.01M1033.7 238.9h.01M1033.7 237.3h.01M1033.7 235.8h.01M1033.7 234.3h.01M1033.7 232.9h.01M1033.7 231.4h.01M1033.7 230.1h.01M1033.7 228.7h.01M1033.7 227.4h.01M1033.7 226.1h.01M1033.7 224.8h.01M1033.7 223.5h.01M1033.7 222.3h.01M1033.7 221.1h.01M1033.7 219.9h.01M1033.7 218.8h.01M1033.7 217.6h.01M1033.7 216.5h.01M1033.7 215.4h.01M1033.7 214.3h.01M1033.7 213.3h.01M1033.7 212.2h.01M1033.7 211.2h.01M1033.7 210.2h.01M1033.7 209.2h.01M1033.7 208.2h.01M1033.7 207.2h.01M1033.7 206.3h.01M1033.7 205.3h.01M1033.7 204.4h.01M1033.7 203.5h.01M1033.7 202.6h.01M1033.7 201.7h.01M1033.7 200.8h.01M1033.7 200.0h.01M1033.7 199.1h.01M1033.7 198.3h.01M1033.7 197.4h.01M1033.7 196.6h.01M1033.7 195.8h.01M1033.7 195.0h.01M1033.7 194.2h.01M1033.7 193.4h.01M1033.7 192.7h.01M1033.7 191.9h.01M1033.7 191.1h.01M1033.7 190.4h.01M1033.7 189.7h.01M1033.7 188.9h.01M1033.7 188.2h.01M1033.7 187.5h.01M1033.7 186.8h.01M1033.7 186.1h.01M1033.7 185.4h.01M1033.7 184.7h.01M1033.7 184.1h.01M1033.7 183.4h.01M1033.7 182.7h.01M1033.7 182.1h.01M1033.7 181.4h.01M1033.7 180.8h.01M1033.7 180.2h.01M1033.7 179.5h.01M1033.7 178.9h.01M1033.7 178.3h.01M1033.7 177.7h.01M1033.7 177.1h.01M1033.7 176.5h.01M1033.7 175.9h.01M1033.7 175.3h.01M1033.7 174.7h.01M1033.7 174.1h.01M1033.7 173.6h.01M1033.7 173.0h.01M1033.7 172.4h.01M1033.7 171.9h.01M1033.7 171.3h.01M1033.7 170.8h.01M1033.7 170.2h.01M1033.7 169.7h.01M1033.7 169.2h.01M1033.7 168.6h.01M1033.7 168.1h.01M1033.7 167.6h.01M1033.7 167.1h.01M1033.7 166.6h.01M1033.7 166.0h.01M1033.7 165.5h.01M1033.7 165.0h.01M1033.7 164.5h.01M1033.7 164.0h.01M1033.7 163.6h.01M1033.7 163.1h.01M1033.7 162.6h.01M1033.7 162.1h.01M1033.7 161.6h.01M1033.7 161.2h.01M1033.7 160.7h.01M1033.7 160.2h.01M1033.7 159.8h.01M1033.7 159.3h.01M1033.7 158.9h.01M1033.7 158.4h.01M1033.7 158.0h.01M1033.7 157.5h.01M1033.7 157.1h.01M1033.7 156.6h.01M1033.7 156.2h.01M1033.7 155.8h.01M1033.7 155.3h.01M1033.7 154.9h.01M1033.7 154.5h.01M1033.7 154.0h.01M1033.7 153.6h.01M1033.7 153.2h.01M1033.7 152.8h.01M1033.7 152.4h.01M1033.7 152.0h.01M1033.7 151.6h.01M1033.7 151.2h.01M1033.7 150.8h.01M1033.7 150.4h.01M1033.7 150.0h.01M1033.7 149.6h.01M1033.7 149.2h.01M1033.7 148.8h.01M1033.7 148.4h.01M1033.7 148.0h.01M1033.7 147.6h.01M1033.7 147.3h.01M1033.7 146.9h.01M1036.4 393.3h.01M1036.4 379.0h.01M1036.4 367.2h.01M1036.4 357.3h.01M1036.4 334.3h.01M1036.4 328.2h.01M1036.4 322.6h.01M1036.4 317.4h.01M1036.4 312.7h.01M1036.4 308.2h.01M1036.4 304.1h.01M1036.4 300.2h.01M1036.4 296.5h.01M1036.4 293.0h.01M1036.4 289.7h.01M1036.4 286.5h.01M1036.4 283.5h.01M1036.4 280.7h.01M1036.4 277.9h.01M1036.4 275.3h.01M1036.4 272.8h.01M1036.4 270.4h.01M1036.4 268.0h.01M1036.4 265.8h.01M1036.4 263.6h.01M1036.4 261.5h.01M1036.4 259.4h.01M1036.4 257.4h.01M1036.4 255.5h.01M1036.4 253.6h.01M1036.4 251.8h.01M1036.4 250.1h.01M1036.4 248.3h.01M1036.4 246.7h.01M1036.4 245.0h.01M1036.4 243.5h.01M1036.4 241.9h.01M1036.4 240.4h.01M1036.4 238.9h.01M1036.4 237.5h.01M1036.4 236.0h.01M1036.4 234.7h.01M1036.4 233.3h.01M1036.4 232.0h.01M1036.4 230.7h.01M1036.4 229.4h.01M1036.4 228.1h.01M1036.4 226.9h.01M1036.4 225.7h.01M1036.4 224.5h.01M1036.4 223.4h.01M1036.4 222.2h.01M1036.4 221.1h.01M1036.4 220.0h.01M1036.4 218.9h.01M1036.4 217.9h.01M1036.4 216.8h.01M1036.4 215.8h.01M1036.4 214.8h.01M1036.4 213.8h.01M1036.4 212.8h.01M1036.4 211.8h.01M1036.4 210.9h.01M1036.4 209.9h.01M1036.4 209.0h.01M1036.4 208.1h.01M1036.4 207.2h.01M1036.4 206.3h.01M1036.4 205.4h.01M1036.4 204.6h.01M1036.4 203.7h.01M1036.4 202.9h.01M1036.4 202.0h.01M1036.4 201.2h.01M1036.4 200.4h.01M1036.4 199.6h.01M1036.4 198.8h.01M1036.4 198.0h.01M1036.4 197.3h.01M1036.4 196.5h.01M1036.4 195.7h.01M1036.4 195.0h.01M1036.4 194.3h.01M1036.4 193.5h.01M1036.4 192.8h.01M1036.4 192.1h.01M1036.4 191.4h.01M1036.4 190.7h.01M1036.4 190.0h.01M1036.4 189.3h.01M1036.4 188.7h.01M1036.4 188.0h.01M1036.4 187.3h.01M1036.4 186.7h.01M1036.4 186.0h.01M1036.4 185.4h.01M1036.4 184.8h.01M1036.4 184.1h.01M1036.4 183.5h.01M1036.4 182.9h.01M1036.4 182.3h.01M1036.4 181.7h.01M1036.4 181.1h.01M1036.4 180.5h.01M1036.4 179.9h.01M1036.4 179.3h.01M1036.4 178.7h.01M1036.4 178.2h.01M1036.4 177.6h.01M1036.4 177.0h.01M1036.4 176.5h.01M1036.4 175.9h.01M1036.4 175.4h.01M1036.4 174.8h.01M1036.4 174.3h.01M1036.4 173.8h.01M1036.4 173.2h.01M1036.4 172.7h.01M1036.4 172.2h.01M1036.4 171.7h.01M1036.4 171.2h.01M1036.4 170.6h.01M1036.4 170.1h.01M1036.4 169.6h.01M1036.4 169.1h.01M1036.4 168.6h.01M1036.4 168.2h.01M1036.4 167.7h.01M1036.4 167.2h.01M1036.4 166.7h.01M1036.4 166.2h.01M1036.4 165.8h.01M1036.4 165.3h.01M1036.4 164.8h.01M1036.4 164.4h.01M1036.4 163.9h.01M1036.4 163.5h.01M1036.4 163.0h.01M1036.4 162.6h.01M1036.4 162.1h.01M1036.4 161.7h.01M1036.4 161.2h.01M1036.4 160.8h.01M1036.4 160.4h.01M1036.4 159.9h.01M1036.4 159.5h.01M1036.4 159.1h.01M1036.4 158.6h.01M1036.4 158.2h.01M1036.4 157.8h.01M1036.4 157.4h.01M1036.4 157.0h.01M1036.4 156.6h.01M1036.4 156.2h.01M1036.4 155.8h.01M1036.4 155.4h.01M1036.4 155.0h.01M1036.4 154.6h.01M1036.4 154.2h.01M1036.4 153.8h.01M1036.4 153.4h.01M1036.4 153.0h.01M1036.4 152.6h.01M1036.4 152.2h.01M1036.4 151.9h.01M1036.4 151.5h.01M1036.4 151.1h.01M1036.4 150.7h.01M1036.4 150.4h.01M1036.4 150.0h.01M1036.4 149.6h.01M1036.4 149.3h.01M1036.4 148.9h.01M1036.4 148.5h.01M1039.1 397.8h.01M1039.1 383.4h.01M1039.1 332.6h.01M1039.1 327.0h.01M1039.1 321.9h.01M1039.1 317.1h.01M1039.1 312.7h.01M1039.1 308.5h.01M1039.1 304.6h.01M1039.1 300.9h.01M1039.1 297.4h.01M1039.1 294.1h.01M1039.1 291.0h.01M1039.1 288.0h.01M1039.1 285.1h.01M1039.1 282.4h.01M1039.1 279.8h.01M1039.1 277.2h.01M1039.1 274.8h.01M1039.1 272.5h.01M1039.1 270.2h.01M1039.1 268.0h.01M1039.1 265.9h.01M1039.1 263.9h.01M1039.1 261.9h.01M1039.1 260.0h.01M1039.1 258.1h.01M1039.1 256.3h.01M1039.1 254.5h.01M1039.1 252.8h.01M1039.1 251.1h.01M1039.1 249.5h.01M1039.1 247.9h.01M1039.1 246.3h.01M1039.1 244.8h.01M1039.1 243.4h.01M1039.1 241.9h.01M1039.1 240.5h.01M1039.1 239.1h.01M1039.1 237.7h.01M1039.1 236.4h.01M1039.1 235.1h.01M1039.1 233.8h.01M1039.1 232.6h.01M1039.1 231.4h.01M1039.1 230.2h.01M1039.1 229.0h.01M1039.1 227.8h.01M1039.1 226.7h.01M1039.1 225.6h.01M1039.1 224.5h.01M1039.1 223.4h.01M1039.1 222.3h.01M1039.1 221.3h.01M1039.1 220.2h.01M1039.1 219.2h.01M1039.1 218.2h.01M1039.1 217.2h.01M1039.1 216.3h.01M1039.1 215.3h.01M1039.1 214.4h.01M1039.1 213.4h.01M1039.1 212.5h.01M1039.1 211.6h.01M1039.1 210.7h.01M1039.1 209.9h.01M1039.1 209.0h.01M1039.1 208.2h.01M1039.1 207.3h.01M1039.1 206.5h.01M1039.1 205.7h.01M1039.1 204.8h.01M1039.1 204.0h.01M1039.1 203.3h.01M1039.1 202.5h.01M1039.1 201.7h.01M1039.1 200.9h.01M1039.1 200.2h.01M1039.1 199.4h.01M1039.1 198.7h.01M1039.1 198.0h.01M1039.1 197.3h.01M1039.1 196.6h.01M1039.1 195.8h.01M1039.1 195.2h.01M1039.1 194.5h.01M1039.1 193.8h.01M1039.1 193.1h.01M1039.1 192.4h.01M1039.1 191.8h.01M1039.1 191.1h.01M1039.1 190.5h.01M1039.1 189.8h.01M1039.1 189.2h.01M1039.1 188.6h.01M1039.1 188.0h.01M1039.1 187.3h.01M1039.1 186.7h.01M1039.1 186.1h.01M1039.1 185.5h.01M1039.1 184.9h.01M1039.1 184.3h.01M1039.1 183.8h.01M1039.1 183.2h.01M1039.1 182.6h.01M1039.1 182.0h.01M1039.1 181.5h.01M1039.1 180.9h.01M1039.1 180.4h.01M1039.1 179.8h.01M1039.1 179.3h.01M1039.1 178.7h.01M1039.1 178.2h.01M1039.1 177.7h.01M1039.1 177.1h.01M1039.1 176.6h.01M1039.1 176.1h.01M1039.1 175.6h.01M1039.1 175.1h.01M1039.1 174.6h.01M1039.1 174.1h.01M1039.1 173.6h.01M1039.1 173.1h.01M1039.1 172.6h.01M1039.1 172.1h.01M1039.1 171.6h.01M1039.1 171.2h.01M1039.1 170.7h.01M1039.1 170.2h.01M1039.1 169.7h.01M1039.1 169.3h.01M1039.1 168.8h.01M1039.1 168.4h.01M1039.1 167.9h.01M1039.1 167.4h.01M1039.1 167.0h.01M1039.1 166.6h.01M1039.1 166.1h.01M1039.1 165.7h.01M1039.1 165.2h.01M1039.1 164.8h.01M1039.1 164.4h.01M1039.1 163.9h.01M1039.1 163.5h.01M1039.1 163.1h.01M1039.1 162.7h.01M1039.1 162.3h.01M1039.1 161.8h.01M1039.1 161.4h.01M1039.1 161.0h.01M1039.1 160.6h.01M1039.1 160.2h.01M1039.1 159.8h.01M1039.1 159.4h.01M1039.1 159.0h.01M1039.1 158.6h.01M1039.1 158.2h.01M1039.1 157.8h.01M1039.1 157.5h.01M1039.1 157.1h.01M1039.1 156.7h.01M1039.1 156.3h.01M1039.1 155.9h.01M1039.1 155.6h.01M1039.1 155.2h.01M1039.1 154.8h.01M1039.1 154.4h.01M1039.1 154.1h.01M1039.1 153.7h.01M1039.1 153.3h.01M1039.1 153.0h.01M1039.1 152.6h.01M1039.1 152.3h.01M1039.1 151.9h.01M1039.1 151.6h.01M1039.1 151.2h.01M1039.1 150.9h.01M1039.1 150.5h.01M1039.1 150.2h.01M1039.1 149.8h.01M1041.6 376.0h.01M1041.6 349.8h.01M1041.6 343.1h.01M1041.6 336.9h.01M1041.6 331.3h.01M1041.6 326.2h.01M1041.6 321.4h.01M1041.6 316.9h.01M1041.6 312.8h.01M1041.6 308.9h.01M1041.6 305.2h.01M1041.6 301.7h.01M1041.6 298.4h.01M1041.6 295.3h.01M1041.6 292.3h.01M1041.6 289.4h.01M1041.6 286.7h.01M1041.6 284.1h.01M1041.6 281.5h.01M1041.6 279.1h.01M1041.6 276.8h.01M1041.6 274.5h.01M1041.6 272.3h.01M1041.6 270.2h.01M1041.6 268.2h.01M1041.6 266.2h.01M1041.6 264.2h.01M1041.6 262.4h.01M1041.6 260.6h.01M1041.6 258.8h.01M1041.6 257.1h.01M1041.6 255.4h.01M1041.6 253.8h.01M1041.6 252.2h.01M1041.6 250.6h.01M1041.6 249.1h.01M1041.6 247.6h.01M1041.6 246.2h.01M1041.6 244.8h.01M1041.6 243.4h.01M1041.6 242.0h.01M1041.6 240.7h.01M1041.6 239.4h.01M1041.6 238.1h.01M1041.6 236.9h.01M1041.6 235.7h.01M1041.6 234.5h.01M1041.6 233.3h.01M1041.6 232.1h.01M1041.6 231.0h.01M1041.6 229.9h.01M1041.6 228.8h.01M1041.6 227.7h.01M1041.6 226.6h.01M1041.6 225.6h.01M1041.6 224.5h.01M1041.6 223.5h.01M1041.6 222.5h.01M1041.6 221.5h.01M1041.6 220.6h.01M1041.6 219.6h.01M1041.6 218.7h.01M1041.6 217.7h.01M1041.6 216.8h.01M1041.6 215.9h.01M1041.6 215.0h.01M1041.6 214.2h.01M1041.6 213.3h.01M1041.6 212.4h.01M1041.6 211.6h.01M1041.6 210.8h.01M1041.6 210.0h.01M1041.6 209.1h.01M1041.6 208.3h.01M1041.6 207.6h.01M1041.6 206.8h.01M1041.6 206.0h.01M1041.6 205.2h.01M1041.6 204.5h.01M1041.6 203.7h.01M1041.6 203.0h.01M1041.6 202.3h.01M1041.6 201.6h.01M1041.6 200.8h.01M1041.6 200.1h.01M1041.6 199.4h.01M1041.6 198.8h.01M1041.6 198.1h.01M1041.6 197.4h.01M1041.6 196.7h.01M1041.6 196.1h.01M1041.6 195.4h.01M1041.6 194.8h.01M1041.6 194.1h.01M1041.6 193.5h.01M1041.6 192.9h.01M1041.6 192.2h.01M1041.6 191.6h.01M1041.6 191.0h.01M1041.6 190.4h.01M1041.6 189.8h.01M1041.6 189.2h.01M1041.6 188.6h.01M1041.6 188.1h.01M1041.6 187.5h.01M1041.6 186.9h.01M1041.6 186.3h.01M1041.6 185.8h.01M1041.6 185.2h.01M1041.6 184.7h.01M1041.6 184.1h.01M1041.6 183.6h.01M1041.6 183.0h.01M1041.6 182.5h.01M1041.6 182.0h.01M1041.6 181.4h.01M1041.6 180.9h.01M1041.6 180.4h.01M1041.6 179.9h.01M1041.6 179.4h.01M1041.6 178.9h.01M1041.6 178.4h.01M1041.6 177.9h.01M1041.6 177.4h.01M1041.6 176.9h.01M1041.6 176.4h.01M1041.6 175.9h.01M1041.6 175.4h.01M1041.6 175.0h.01M1041.6 174.5h.01M1041.6 174.0h.01M1041.6 173.6h.01M1041.6 173.1h.01M1041.6 172.6h.01M1041.6 172.2h.01M1041.6 171.7h.01M1041.6 171.3h.01M1041.6 170.8h.01M1041.6 170.4h.01M1041.6 170.0h.01M1041.6 169.5h.01M1041.6 169.1h.01M1041.6 168.7h.01M1041.6 168.2h.01M1041.6 167.8h.01M1041.6 167.4h.01M1041.6 167.0h.01M1041.6 166.6h.01M1041.6 166.1h.01M1041.6 165.7h.01M1041.6 165.3h.01M1041.6 164.9h.01M1041.6 164.5h.01M1041.6 164.1h.01M1041.6 163.7h.01M1041.6 163.3h.01M1041.6 162.9h.01M1041.6 162.5h.01M1041.6 162.1h.01M1041.6 161.7h.01M1041.6 161.4h.01M1041.6 161.0h.01M1041.6 160.6h.01M1041.6 160.2h.01M1041.6 159.8h.01M1041.6 159.5h.01M1041.6 159.1h.01M1041.6 158.7h.01M1041.6 158.4h.01M1041.6 158.0h.01M1041.6 157.6h.01M1041.6 157.3h.01M1041.6 156.9h.01M1041.6 156.6h.01M1041.6 156.2h.01M1041.6 155.9h.01M1041.6 155.5h.01M1041.6 155.2h.01M1041.6 154.8h.01M1041.6 154.5h.01M1041.6 154.1h.01M1041.6 153.8h.01M1041.6 153.4h.01M1041.6 153.1h.01M1041.6 152.8h.01M1041.6 152.4h.01M1041.6 152.1h.01M1041.6 151.8h.01M1041.6 151.4h.01M1041.6 151.1h.01M1044.0 341.1h.01M1044.0 335.5h.01M1044.0 330.3h.01M1044.0 325.5h.01M1044.0 321.1h.01M1044.0 316.9h.01M1044.0 313.0h.01M1044.0 309.4h.01M1044.0 305.9h.01M1044.0 302.6h.01M1044.0 299.4h.01M1044.0 296.4h.01M1044.0 293.6h.01M1044.0 290.8h.01M1044.0 288.2h.01M1044.0 285.7h.01M1044.0 283.3h.01M1044.0 280.9h.01M1044.0 278.6h.01M1044.0 276.5h.01M1044.0 274.4h.01M1044.0 272.3h.01M1044.0 270.3h.01M1044.0 268.4h.01M1044.0 266.5h.01M1044.0 264.7h.01M1044.0 263.0h.01M1044.0 261.2h.01M1044.0 259.6h.01M1044.0 257.9h.01M1044.0 256.3h.01M1044.0 254.8h.01M1044.0 253.3h.01M1044.0 251.8h.01M1044.0 250.4h.01M1044.0 248.9h.01M1044.0 247.6h.01M1044.0 246.2h.01M1044.0 244.9h.01M1044.0 243.6h.01M1044.0 242.3h.01M1044.0 241.0h.01M1044.0 239.8h.01M1044.0 238.6h.01M1044.0 237.4h.01M1044.0 236.3h.01M1044.0 235.1h.01M1044.0 234.0h.01M1044.0 232.9h.01M1044.0 231.8h.01M1044.0 230.8h.01M1044.0 229.7h.01M1044.0 228.7h.01M1044.0 227.7h.01M1044.0 226.7h.01M1044.0 225.7h.01M1044.0 224.7h.01M1044.0 223.8h.01M1044.0 222.8h.01M1044.0 221.9h.01M1044.0 221.0h.01M1044.0 220.1h.01M1044.0 219.2h.01M1044.0 218.3h.01M1044.0 217.5h.01M1044.0 216.6h.01M1044.0 215.8h.01M1044.0 214.9h.01M1044.0 214.1h.01M1044.0 213.3h.01M1044.0 212.5h.01M1044.0 211.7h.01M1044.0 210.9h.01M1044.0 210.2h.01M1044.0 209.4h.01M1044.0 208.6h.01M1044.0 207.9h.01M1044.0 207.2h.01M1044.0 206.4h.01M1044.0 205.7h.01M1044.0 205.0h.01M1044.0 204.3h.01M1044.0 203.6h.01M1044.0 202.9h.01M1044.0 202.2h.01M1044.0 201.6h.01M1044.0 200.9h.01M1044.0 200.2h.01M1044.0 199.6h.01M1044.0 198.9h.01M1044.0 198.3h.01M1044.0 197.7h.01M1044.0 197.0h.01M1044.0 196.4h.01M1044.0 195.8h.01M1044.0 195.2h.01M1044.0 194.6h.01M1044.0 194.0h.01M1044.0 193.4h.01M1044.0 192.8h.01M1044.0 192.2h.01M1044.0 191.6h.01M1044.0 191.1h.01M1044.0 190.5h.01M1044.0 189.9h.01M1044.0 189.4h.01M1044.0 188.8h.01M1044.0 188.3h.01M1044.0 187.7h.01M1044.0 187.2h.01M1044.0 186.7h.01M1044.0 186.1h.01M1044.0 185.6h.01M1044.0 185.1h.01M1044.0 184.6h.01M1044.0 184.0h.01M1044.0 183.5h.01M1044.0 183.0h.01M1044.0 182.5h.01M1044.0 182.0h.01M1044.0 181.5h.01M1044.0 181.1h.01M1044.0 180.6h.01M1044.0 180.1h.01M1044.0 179.6h.01M1044.0 179.1h.01M1044.0 178.7h.01M1044.0 178.2h.01M1044.0 177.7h.01M1044.0 177.3h.01M1044.0 176.8h.01M1044.0 176.3h.01M1044.0 175.9h.01M1044.0 175.4h.01M1044.0 175.0h.01M1044.0 174.6h.01M1044.0 174.1h.01M1044.0 173.7h.01M1044.0 173.2h.01M1044.0 172.8h.01M1044.0 172.4h.01M1044.0 172.0h.01M1044.0 171.5h.01M1044.0 171.1h.01M1044.0 170.7h.01M1044.0 170.3h.01M1044.0 169.9h.01M1044.0 169.5h.01M1044.0 169.1h.01M1044.0 168.7h.01M1044.0 168.3h.01M1044.0 167.9h.01M1044.0 167.5h.01M1044.0 167.1h.01M1044.0 166.7h.01M1044.0 166.3h.01M1044.0 165.9h.01M1044.0 165.5h.01M1044.0 165.1h.01M1044.0 164.8h.01M1044.0 164.4h.01M1044.0 164.0h.01M1044.0 163.6h.01M1044.0 163.3h.01M1044.0 162.9h.01M1044.0 162.5h.01M1044.0 162.2h.01M1044.0 161.8h.01M1044.0 161.4h.01M1044.0 161.1h.01M1044.0 160.7h.01M1044.0 160.4h.01M1044.0 160.0h.01M1044.0 159.7h.01M1044.0 159.3h.01M1044.0 159.0h.01M1044.0 158.6h.01M1044.0 158.3h.01M1044.0 157.9h.01M1044.0 157.6h.01M1044.0 157.3h.01M1044.0 156.9h.01M1044.0 156.6h.01M1044.0 156.3h.01M1044.0 155.9h.01M1044.0 155.6h.01M1044.0 155.3h.01M1044.0 154.9h.01M1044.0 154.6h.01M1044.0 154.3h.01M1044.0 154.0h.01M1044.0 153.7h.01M1044.0 153.3h.01M1044.0 153.0h.01M1044.0 152.7h.01M1044.0 152.4h.01M1046.4 345.1h.01M1046.4 334.3h.01M1046.4 329.6h.01M1046.4 325.1h.01M1046.4 321.0h.01M1046.4 317.1h.01M1046.4 313.4h.01M1046.4 309.9h.01M1046.4 306.6h.01M1046.4 303.5h.01M1046.4 300.5h.01M1046.4 297.6h.01M1046.4 294.9h.01M1046.4 292.2h.01M1046.4 289.7h.01M1046.4 287.3h.01M1046.4 284.9h.01M1046.4 282.7h.01M1046.4 280.5h.01M1046.4 278.4h.01M1046.4 276.3h.01M1046.4 274.4h.01M1046.4 272.4h.01M1046.4 270.6h.01M1046.4 268.8h.01M1046.4 267.0h.01M1046.4 265.3h.01M1046.4 263.6h.01M1046.4 262.0h.01M1046.4 260.4h.01M1046.4 258.8h.01M1046.4 257.3h.01M1046.4 255.8h.01M1046.4 254.4h.01M1046.4 253.0h.01M1046.4 251.6h.01M1046.4 250.2h.01M1046.4 248.9h.01M1046.4 247.6h.01M1046.4 246.3h.01M1046.4 245.1h.01M1046.4 243.8h.01M1046.4 242.6h.01M1046.4 241.5h.01M1046.4 240.3h.01M1046.4 239.2h.01M1046.4 238.0h.01M1046.4 236.9h.01M1046.4 235.9h.01M1046.4 234.8h.01M1046.4 233.7h.01M1046.4 232.7h.01M1046.4 231.7h.01M1046.4 230.7h.01M1046.4 229.7h.01M1046.4 228.7h.01M1046.4 227.8h.01M1046.4 226.9h.01M1046.4 225.9h.01M1046.4 225.0h.01M1046.4 224.1h.01M1046.4 223.2h.01M1046.4 222.3h.01M1046.4 221.5h.01M1046.4 220.6h.01M1046.4 219.8h.01M1046.4 219.0h.01M1046.4 218.1h.01M1046.4 217.3h.01M1046.4 216.5h.01M1046.4 215.7h.01M1046.4 215.0h.01M1046.4 214.2h.01M1046.4 213.4h.01M1046.4 212.7h.01M1046.4 211.9h.01M1046.4 211.2h.01M1046.4 210.5h.01M1046.4 209.7h.01M1046.4 209.0h.01M1046.4 208.3h.01M1046.4 207.6h.01M1046.4 206.9h.01M1046.4 206.3h.01M1046.4 205.6h.01M1046.4 204.9h.01M1046.4 204.3h.01M1046.4 203.6h.01M1046.4 203.0h.01M1046.4 202.3h.01M1046.4 201.7h.01M1046.4 201.1h.01M1046.4 200.4h.01M1046.4 199.8h.01M1046.4 199.2h.01M1046.4 198.6h.01M1046.4 198.0h.01M1046.4 197.4h.01M1046.4 196.8h.01M1046.4 196.2h.01M1046.4 195.7h.01M1046.4 195.1h.01M1046.4 194.5h.01M1046.4 194.0h.01M1046.4 193.4h.01M1046.4 192.8h.01M1046.4 192.3h.01M1046.4 191.8h.01M1046.4 191.2h.01M1046.4 190.7h.01M1046.4 190.2h.01M1046.4 189.6h.01M1046.4 189.1h.01M1046.4 188.6h.01M1046.4 188.1h.01M1046.4 187.6h.01M1046.4 187.1h.01M1046.4 186.6h.01M1046.4 186.1h.01M1046.4 185.6h.01M1046.4 185.1h.01M1046.4 184.6h.01M1046.4 184.1h.01M1046.4 183.6h.01M1046.4 183.2h.01M1046.4 182.7h.01M1046.4 182.2h.01M1046.4 181.7h.01M1046.4 181.3h.01M1046.4 180.8h.01M1046.4 180.4h.01M1046.4 179.9h.01M1046.4 179.5h.01M1046.4 179.0h.01M1046.4 178.6h.01M1046.4 178.1h.01M1046.4 177.7h.01M1046.4 177.3h.01M1046.4 176.8h.01M1046.4 176.4h.01M1046.4 176.0h.01M1046.4 175.6h.01M1046.4 175.2h.01M1046.4 174.7h.01M1046.4 174.3h.01M1046.4 173.9h.01M1046.4 173.5h.01M1046.4 173.1h.01M1046.4 172.7h.01M1046.4 172.3h.01M1046.4 171.9h.01M1046.4 171.5h.01M1046.4 171.1h.01M1046.4 170.7h.01M1046.4 170.3h.01M1046.4 169.9h.01M1046.4 169.5h.01M1046.4 169.2h.01M1046.4 168.8h.01M1046.4 168.4h.01M1046.4 168.0h.01M1046.4 167.7h.01M1046.4 167.3h.01M1046.4 166.9h.01M1046.4 166.6h.01M1046.4 166.2h.01M1046.4 165.8h.01M1046.4 165.5h.01M1046.4 165.1h.01M1046.4 164.7h.01M1046.4 164.4h.01M1046.4 164.0h.01M1046.4 163.7h.01M1046.4 163.3h.01M1046.4 163.0h.01M1046.4 162.6h.01M1046.4 162.3h.01M1046.4 162.0h.01M1046.4 161.6h.01M1046.4 161.3h.01M1046.4 160.9h.01M1046.4 160.6h.01M1046.4 160.3h.01M1046.4 159.9h.01M1046.4 159.6h.01M1046.4 159.3h.01M1046.4 159.0h.01M1046.4 158.6h.01M1046.4 158.3h.01M1046.4 158.0h.01M1046.4 157.7h.01M1046.4 157.4h.01M1046.4 157.0h.01M1046.4 156.7h.01M1046.4 156.4h.01M1046.4 156.1h.01M1046.4 155.8h.01M1046.4 155.5h.01M1046.4 155.2h.01M1046.4 154.9h.01M1046.4 154.6h.01M1046.4 154.3h.01M1046.4 154.0h.01M1048.7 343.4h.01M1048.7 333.5h.01M1048.7 329.0h.01M1048.7 324.9h.01M1048.7 321.0h.01M1048.7 317.3h.01M1048.7 313.8h.01M1048.7 310.5h.01M1048.7 307.4h.01M1048.7 304.4h.01M1048.7 301.5h.01M1048.7 298.8h.01M1048.7 296.1h.01M1048.7 293.6h.01M1048.7 291.2h.01M1048.7 288.8h.01M1048.7 286.6h.01M1048.7 284.4h.01M1048.7 282.3h.01M1048.7 280.2h.01M1048.7 278.3h.01M1048.7 276.3h.01M1048.7 274.5h.01M1048.7 272.7h.01M1048.7 270.9h.01M1048.7 269.2h.01M1048.7 267.5h.01M1048.7 265.9h.01M1048.7 264.3h.01M1048.7 262.7h.01M1048.7 261.2h.01M1048.7 259.7h.01M1048.7 258.3h.01M1048.7 256.9h.01M1048.7 255.5h.01M1048.7 254.1h.01M1048.7 252.8h.01M1048.7 251.5h.01M1048.7 250.2h.01M1048.7 249.0h.01M1048.7 247.7h.01M1048.7 246.5h.01M1048.7 245.4h.01M1048.7 244.2h.01M1048.7 243.1h.01M1048.7 241.9h.01M1048.7 240.8h.01M1048.7 239.8h.01M1048.7 238.7h.01M1048.7 237.6h.01M1048.7 236.6h.01M1048.7 235.6h.01M1048.7 234.6h.01M1048.7 233.6h.01M1048.7 232.7h.01M1048.7 231.7h.01M1048.7 230.8h.01M1048.7 229.8h.01M1048.7 228.9h.01M1048.7 228.0h.01M1048.7 227.1h.01M1048.7 226.3h.01M1048.7 225.4h.01M1048.7 224.5h.01M1048.7 223.7h.01M1048.7 222.9h.01M1048.7 222.0h.01M1048.7 221.2h.01M1048.7 220.4h.01M1048.7 219.6h.01M1048.7 218.9h.01M1048.7 218.1h.01M1048.7 217.3h.01M1048.7 216.6h.01M1048.7 215.8h.01M1048.7 215.1h.01M1048.7 214.4h.01M1048.7 213.6h.01M1048.7 212.9h.01M1048.7 212.2h.01M1048.7 211.5h.01M1048.7 210.8h.01M1048.7 210.2h.01M1048.7 209.5h.01M1048.7 208.8h.01M1048.7 208.2h.01M1048.7 207.5h.01M1048.7 206.9h.01M1048.7 206.2h.01M1048.7 205.6h.01M1048.7 205.0h.01M1048.7 204.3h.01M1048.7 203.7h.01M1048.7 203.1h.01M1048.7 202.5h.01M1048.7 201.9h.01M1048.7 201.3h.01M1048.7 200.7h.01M1048.7 200.1h.01M1048.7 199.6h.01M1048.7 199.0h.01M1048.7 198.4h.01M1048.7 197.9h.01M1048.7 197.3h.01M1048.7 196.8h.01M1048.7 196.2h.01M1048.7 195.7h.01M1048.7 195.1h.01M1048.7 194.6h.01M1048.7 194.1h.01M1048.7 193.5h.01M1048.7 193.0h.01M1048.7 192.5h.01M1048.7 192.0h.01M1048.7 191.5h.01M1048.7 191.0h.01M1048.7 190.5h.01M1048.7 190.0h.01M1048.7 189.5h.01M1048.7 189.0h.01M1048.7 188.5h.01M1048.7 188.0h.01M1048.7 187.5h.01M1048.7 187.1h.01M1048.7 186.6h.01M1048.7 186.1h.01M1048.7 185.7h.01M1048.7 185.2h.01M1048.7 184.7h.01M1048.7 184.3h.01M1048.7 183.8h.01M1048.7 183.4h.01M1048.7 182.9h.01M1048.7 182.5h.01M1048.7 182.1h.01M1048.7 181.6h.01M1048.7 181.2h.01M1048.7 180.7h.01M1048.7 180.3h.01M1048.7 179.9h.01M1048.7 179.5h.01M1048.7 179.1h.01M1048.7 178.6h.01M1048.7 178.2h.01M1048.7 177.8h.01M1048.7 177.4h.01M1048.7 177.0h.01M1048.7 176.6h.01M1048.7 176.2h.01M1048.7 175.8h.01M1048.7 175.4h.01M1048.7 175.0h.01M1048.7 174.6h.01M1048.7 174.2h.01M1048.7 173.8h.01M1048.7 173.5h.01M1048.7 173.1h.01M1048.7 172.7h.01M1048.7 172.3h.01M1048.7 171.9h.01M1048.7 171.6h.01M1048.7 171.2h.01M1048.7 170.8h.01M1048.7 170.5h.01M1048.7 170.1h.01M1048.7 169.7h.01M1048.7 169.4h.01M1048.7 169.0h.01M1048.7 168.7h.01M1048.7 168.3h.01M1048.7 167.9h.01M1048.7 167.6h.01M1048.7 167.2h.01M1048.7 166.9h.01M1048.7 166.6h.01M1048.7 166.2h.01M1048.7 165.9h.01M1048.7 165.5h.01M1048.7 165.2h.01M1048.7 164.9h.01M1048.7 164.5h.01M1048.7 164.2h.01M1048.7 163.9h.01M1048.7 163.5h.01M1048.7 163.2h.01M1048.7 162.9h.01M1048.7 162.5h.01M1048.7 162.2h.01M1048.7 161.9h.01M1048.7 161.6h.01M1048.7 161.3h.01M1048.7 160.9h.01M1048.7 160.6h.01M1048.7 160.3h.01M1048.7 160.0h.01M1048.7 159.7h.01M1048.7 159.4h.01M1048.7 159.1h.01M1048.7 158.8h.01M1048.7 158.5h.01M1048.7 158.2h.01M1048.7 157.9h.01M1048.7 157.6h.01M1048.7 157.3h.01M1048.7 157.0h.01M1048.7 156.7h.01M1048.7 156.4h.01M1048.7 156.1h.01M1048.7 155.8h.01M1048.7 155.5h.01M1048.7 155.2h.01M1051.0 381.9h.01M1051.0 337.3h.01M1051.0 332.8h.01M1051.0 328.7h.01M1051.0 324.8h.01M1051.0 321.1h.01M1051.0 317.6h.01M1051.0 314.3h.01M1051.0 311.2h.01M1051.0 308.2h.01M1051.0 305.3h.01M1051.0 302.6h.01M1051.0 299.9h.01M1051.0 297.4h.01M1051.0 295.0h.01M1051.0 292.6h.01M1051.0 290.4h.01M1051.0 288.2h.01M1051.0 286.1h.01M1051.0 284.0h.01M1051.0 282.0h.01M1051.0 280.1h.01M1051.0 278.3h.01M1051.0 276.4h.01M1051.0 274.7h.01M1051.0 273.0h.01M1051.0 271.3h.01M1051.0 269.7h.01M1051.0 268.1h.01M1051.0 266.5h.01M1051.0 265.0h.01M1051.0 263.5h.01M1051.0 262.1h.01M1051.0 260.7h.01M1051.0 259.3h.01M1051.0 257.9h.01M1051.0 256.6h.01M1051.0 255.3h.01M1051.0 254.0h.01M1051.0 252.8h.01M1051.0 251.5h.01M1051.0 250.3h.01M1051.0 249.2h.01M1051.0 248.0h.01M1051.0 246.9h.01M1051.0 245.7h.01M1051.0 244.6h.01M1051.0 243.5h.01M1051.0 242.5h.01M1051.0 241.4h.01M1051.0 240.4h.01M1051.0 239.4h.01M1051.0 238.4h.01M1051.0 237.4h.01M1051.0 236.4h.01M1051.0 235.5h.01M1051.0 234.5h.01M1051.0 233.6h.01M1051.0 232.7h.01M1051.0 231.8h.01M1051.0 230.9h.01M1051.0 230.0h.01M1051.0 229.2h.01M1051.0 228.3h.01M1051.0 227.5h.01M1051.0 226.7h.01M1051.0 225.8h.01M1051.0 225.0h.01M1051.0 224.2h.01M1051.0 223.4h.01M1051.0 222.7h.01M1051.0 221.9h.01M1051.0 221.1h.01M1051.0 220.4h.01M1051.0 219.6h.01M1051.0 218.9h.01M1051.0 218.2h.01M1051.0 217.4h.01M1051.0 216.7h.01M1051.0 216.0h.01M1051.0 215.3h.01M1051.0 214.6h.01M1051.0 214.0h.01M1051.0 213.3h.01M1051.0 212.6h.01M1051.0 212.0h.01M1051.0 211.3h.01M1051.0 210.7h.01M1051.0 210.0h.01M1051.0 209.4h.01M1051.0 208.7h.01M1051.0 208.1h.01M1051.0 207.5h.01M1051.0 206.9h.01M1051.0 206.3h.01M1051.0 205.7h.01M1051.0 205.1h.01M1051.0 204.5h.01M1051.0 203.9h.01M1051.0 203.4h.01M1051.0 202.8h.01M1051.0 202.2h.01M1051.0 201.6h.01M1051.0 201.1h.01M1051.0 200.5h.01M1051.0 200.0h.01M1051.0 199.4h.01M1051.0 198.9h.01M1051.0 198.4h.01M1051.0 197.8h.01M1051.0 197.3h.01M1051.0 196.8h.01M1051.0 196.3h.01M1051.0 195.8h.01M1051.0 195.3h.01M1051.0 194.8h.01M1051.0 194.3h.01M1051.0 193.8h.01M1051.0 193.3h.01M1051.0 192.8h.01M1051.0 192.3h.01M1051.0 191.8h.01M1051.0 191.3h.01M1051.0 190.8h.01M1051.0 190.4h.01M1051.0 189.9h.01M1051.0 189.4h.01M1051.0 189.0h.01M1051.0 188.5h.01M1051.0 188.1h.01M1051.0 187.6h.01M1051.0 187.2h.01M1051.0 186.7h.01M1051.0 186.3h.01M1051.0 185.8h.01M1051.0 185.4h.01M1051.0 185.0h.01M1051.0 184.5h.01M1051.0 184.1h.01M1051.0 183.7h.01M1051.0 183.3h.01M1051.0 182.8h.01M1051.0 182.4h.01M1051.0 182.0h.01M1051.0 181.6h.01M1051.0 181.2h.01M1051.0 180.8h.01M1051.0 180.4h.01M1051.0 180.0h.01M1051.0 179.6h.01M1051.0 179.2h.01M1051.0 178.8h.01M1051.0 178.4h.01M1051.0 178.0h.01M1051.0 177.6h.01M1051.0 177.2h.01M1051.0 176.9h.01M1051.0 176.5h.01M1051.0 176.1h.01M1051.0 175.7h.01M1051.0 175.4h.01M1051.0 175.0h.01M1051.0 174.6h.01M1051.0 174.2h.01M1051.0 173.9h.01M1051.0 173.5h.01M1051.0 173.2h.01M1051.0 172.8h.01M1051.0 172.4h.01M1051.0 172.1h.01M1051.0 171.7h.01M1051.0 171.4h.01M1051.0 171.0h.01M1051.0 170.7h.01M1051.0 170.3h.01M1051.0 170.0h.01M1051.0 169.7h.01M1051.0 169.3h.01M1051.0 169.0h.01M1051.0 168.6h.01M1051.0 168.3h.01M1051.0 168.0h.01M1051.0 167.6h.01M1051.0 167.3h.01M1051.0 167.0h.01M1051.0 166.7h.01M1051.0 166.3h.01M1051.0 166.0h.01M1051.0 165.7h.01M1051.0 165.4h.01M1051.0 165.1h.01M1051.0 164.7h.01M1051.0 164.4h.01M1051.0 164.1h.01M1051.0 163.8h.01M1051.0 163.5h.01M1051.0 163.2h.01M1051.0 162.9h.01M1051.0 162.6h.01M1051.0 162.3h.01M1051.0 162.0h.01M1051.0 161.7h.01M1051.0 161.4h.01M1051.0 161.1h.01M1051.0 160.8h.01M1051.0 160.5h.01M1051.0 160.2h.01M1051.0 159.9h.01M1051.0 159.6h.01M1051.0 159.3h.01M1051.0 159.0h.01M1051.0 158.7h.01M1051.0 158.4h.01M1051.0 158.1h.01M1051.0 157.9h.01M1051.0 157.6h.01M1051.0 157.3h.01M1051.0 157.0h.01M1051.0 156.7h.01M1053.2 356.5h.01M1053.2 336.5h.01M1053.2 332.3h.01M1053.2 328.4h.01M1053.2 324.8h.01M1053.2 321.3h.01M1053.2 318.0h.01M1053.2 314.8h.01M1053.2 311.8h.01M1053.2 309.0h.01M1053.2 306.2h.01M1053.2 303.6h.01M1053.2 301.1h.01M1053.2 298.7h.01M1053.2 296.3h.01M1053.2 294.1h.01M1053.2 291.9h.01M1053.2 289.8h.01M1053.2 287.7h.01M1053.2 285.7h.01M1053.2 283.8h.01M1053.2 281.9h.01M1053.2 280.1h.01M1053.2 278.4h.01M1053.2 276.6h.01M1053.2 275.0h.01M1053.2 273.3h.01M1053.2 271.8h.01M1053.2 270.2h.01M1053.2 268.7h.01M1053.2 267.2h.01M1053.2 265.8h.01M1053.2 264.3h.01M1053.2 263.0h.01M1053.2 261.6h.01M1053.2 260.3h.01M1053.2 259.0h.01M1053.2 257.7h.01M1053.2 256.4h.01M1053.2 255.2h.01M1053.2 254.0h.01M1053.2 252.8h.01M1053.2 251.7h.01M1053.2 250.5h.01M1053.2 249.4h.01M1053.2 248.3h.01M1053.2 247.2h.01M1053.2 246.2h.01M1053.2 245.1h.01M1053.2 244.1h.01M1053.2 243.1h.01M1053.2 242.1h.01M1053.2 241.1h.01M1053.2 240.1h.01M1053.2 239.2h.01M1053.2 238.2h.01M1053.2 237.3h.01M1053.2 236.4h.01M1053.2 235.5h.01M1053.2 234.6h.01M1053.2 233.7h.01M1053.2 232.9h.01M1053.2 232.0h.01M1053.2 231.2h.01M1053.2 230.3h.01M1053.2 229.5h.01M1053.2 228.7h.01M1053.2 227.9h.01M1053.2 227.1h.01M1053.2 226.3h.01M1053.2 225.6h.01M1053.2 224.8h.01M1053.2 224.0h.01M1053.2 223.3h.01M1053.2 222.6h.01M1053.2 221.8h.01M1053.2 221.1h.01M1053.2 220.4h.01M1053.2 219.7h.01M1053.2 219.0h.01M1053.2 218.3h.01M1053.2 217.6h.01M1053.2 217.0h.01M1053.2 216.3h.01M1053.2 215.6h.01M1053.2 215.0h.01M1053.2 214.3h.01M1053.2 213.7h.01M1053.2 213.1h.01M1053.2 212.4h.01M1053.2 211.8h.01M1053.2 211.2h.01M1053.2 210.6h.01M1053.2 210.0h.01M1053.2 209.4h.01M1053.2 208.8h.01M1053.2 208.2h.01M1053.2 207.6h.01M1053.2 207.0h.01M1053.2 206.5h.01M1053.2 205.9h.01M1053.2 205.3h.01M1053.2 204.8h.01M1053.2 204.2h.01M1053.2 203.7h.01M1053.2 203.1h.01M1053.2 202.6h.01M1053.2 202.1h.01M1053.2 201.5h.01M1053.2 201.0h.01M1053.2 200.5h.01M1053.2 200.0h.01M1053.2 199.4h.01M1053.2 198.9h.01M1053.2 198.4h.01M1053.2 197.9h.01M1053.2 197.4h.01M1053.2 196.9h.01M1053.2 196.5h.01M1053.2 196.0h.01M1053.2 195.5h.01M1053.2 195.0h.01M1053.2 194.5h.01M1053.2 194.1h.01M1053.2 193.6h.01M1053.2 193.1h.01M1053.2 192.7h.01M1053.2 192.2h.01M1053.2 191.7h.01M1053.2 191.3h.01M1053.2 190.8h.01M1053.2 190.4h.01M1053.2 190.0h.01M1053.2 189.5h.01M1053.2 189.1h.01M1053.2 188.7h.01M1053.2 188.2h.01M1053.2 187.8h.01M1053.2 187.4h.01M1053.2 186.9h.01M1053.2 186.5h.01M1053.2 186.1h.01M1053.2 185.7h.01M1053.2 185.3h.01M1053.2 184.9h.01M1053.2 184.5h.01M1053.2 184.1h.01M1053.2 183.7h.01M1053.2 183.3h.01M1053.2 182.9h.01M1053.2 182.5h.01M1053.2 182.1h.01M1053.2 181.7h.01M1053.2 181.3h.01M1053.2 180.9h.01M1053.2 180.5h.01M1053.2 180.2h.01M1053.2 179.8h.01M1053.2 179.4h.01M1053.2 179.0h.01M1053.2 178.7h.01M1053.2 178.3h.01M1053.2 177.9h.01M1053.2 177.6h.01M1053.2 177.2h.01M1053.2 176.8h.01M1053.2 176.5h.01M1053.2 176.1h.01M1053.2 175.8h.01M1053.2 175.4h.01M1053.2 175.1h.01M1053.2 174.7h.01M1053.2 174.4h.01M1053.2 174.0h.01M1053.2 173.7h.01M1053.2 173.3h.01M1053.2 173.0h.01M1053.2 172.7h.01M1053.2 172.3h.01M1053.2 172.0h.01M1053.2 171.7h.01M1053.2 171.3h.01M1053.2 171.0h.01M1053.2 170.7h.01M1053.2 170.3h.01M1053.2 170.0h.01M1053.2 169.7h.01M1053.2 169.4h.01M1053.2 169.1h.01M1053.2 168.7h.01M1053.2 168.4h.01M1053.2 168.1h.01M1053.2 167.8h.01M1053.2 167.5h.01M1053.2 167.2h.01M1053.2 166.9h.01M1053.2 166.6h.01M1053.2 166.2h.01M1053.2 165.9h.01M1053.2 165.6h.01M1053.2 165.3h.01M1053.2 165.0h.01M1053.2 164.7h.01M1053.2 164.4h.01M1053.2 164.1h.01M1053.2 163.8h.01M1053.2 163.6h.01M1053.2 163.3h.01M1053.2 163.0h.01M1053.2 162.7h.01M1053.2 162.4h.01M1053.2 162.1h.01M1053.2 161.8h.01M1053.2 161.5h.01M1053.2 161.3h.01M1053.2 161.0h.01M1053.2 160.7h.01M1053.2 160.4h.01M1053.2 160.1h.01M1053.2 159.9h.01M1053.2 159.6h.01M1053.2 159.3h.01M1053.2 159.0h.01M1053.2 158.8h.01M1053.2 158.5h.01M1053.2 158.2h.01M1053.2 158.0h.01M1055.3 380.6h.01M1055.3 360.1h.01M1055.3 354.5h.01M1055.3 344.5h.01M1055.3 340.1h.01M1055.3 335.9h.01M1055.3 332.0h.01M1055.3 328.3h.01M1055.3 324.9h.01M1055.3 321.6h.01M1055.3 318.4h.01M1055.3 315.4h.01M1055.3 312.6h.01M1055.3 309.8h.01M1055.3 307.2h.01M1055.3 304.7h.01M1055.3 302.2h.01M1055.3 299.9h.01M1055.3 297.6h.01M1055.3 295.4h.01M1055.3 293.3h.01M1055.3 291.3h.01M1055.3 289.3h.01M1055.3 287.4h.01M1055.3 285.5h.01M1055.3 283.7h.01M1055.3 281.9h.01M1055.3 280.2h.01M1055.3 278.5h.01M1055.3 276.9h.01M1055.3 275.3h.01M1055.3 273.8h.01M1055.3 272.3h.01M1055.3 270.8h.01M1055.3 269.3h.01M1055.3 267.9h.01M1055.3 266.5h.01M1055.3 265.2h.01M1055.3 263.8h.01M1055.3 262.5h.01M1055.3 261.3h.01M1055.3 260.0h.01M1055.3 258.8h.01M1055.3 257.6h.01M1055.3 256.4h.01M1055.3 255.3h.01M1055.3 254.1h.01M1055.3 253.0h.01M1055.3 251.9h.01M1055.3 250.8h.01M1055.3 249.7h.01M1055.3 248.7h.01M1055.3 247.7h.01M1055.3 246.7h.01M1055.3 245.7h.01M1055.3 244.7h.01M1055.3 243.7h.01M1055.3 242.7h.01M1055.3 241.8h.01M1055.3 240.9h.01M1055.3 240.0h.01M1055.3 239.1h.01M1055.3 238.2h.01M1055.3 237.3h.01M1055.3 236.4h.01M1055.3 235.6h.01M1055.3 234.7h.01M1055.3 233.9h.01M1055.3 233.1h.01M1055.3 232.3h.01M1055.3 231.5h.01M1055.3 230.7h.01M1055.3 229.9h.01M1055.3 229.1h.01M1055.3 228.4h.01M1055.3 227.6h.01M1055.3 226.9h.01M1055.3 226.1h.01M1055.3 225.4h.01M1055.3 224.7h.01M1055.3 224.0h.01M1055.3 223.3h.01M1055.3 222.6h.01M1055.3 221.9h.01M1055.3 221.2h.01M1055.3 220.5h.01M1055.3 219.9h.01M1055.3 219.2h.01M1055.3 218.6h.01M1055.3 217.9h.01M1055.3 217.3h.01M1055.3 216.6h.01M1055.3 216.0h.01M1055.3 215.4h.01M1055.3 214.8h.01M1055.3 214.2h.01M1055.3 213.6h.01M1055.3 213.0h.01M1055.3 212.4h.01M1055.3 211.8h.01M1055.3 211.2h.01M1055.3 210.6h.01M1055.3 210.0h.01M1055.3 209.5h.01M1055.3 208.9h.01M1055.3 208.4h.01M1055.3 207.8h.01M1055.3 207.3h.01M1055.3 206.7h.01M1055.3 206.2h.01M1055.3 205.6h.01M1055.3 205.1h.01M1055.3 204.6h.01M1055.3 204.1h.01M1055.3 203.5h.01M1055.3 203.0h.01M1055.3 202.5h.01M1055.3 202.0h.01M1055.3 201.5h.01M1055.3 201.0h.01M1055.3 200.5h.01M1055.3 200.0h.01M1055.3 199.5h.01M1055.3 199.1h.01M1055.3 198.6h.01M1055.3 198.1h.01M1055.3 197.6h.01M1055.3 197.2h.01M1055.3 196.7h.01M1055.3 196.2h.01M1055.3 195.8h.01M1055.3 195.3h.01M1055.3 194.9h.01M1055.3 194.4h.01M1055.3 194.0h.01M1055.3 193.5h.01M1055.3 193.1h.01M1055.3 192.7h.01M1055.3 192.2h.01M1055.3 191.8h.01M1055.3 191.4h.01M1055.3 190.9h.01M1055.3 190.5h.01M1055.3 190.1h.01M1055.3 189.7h.01M1055.3 189.3h.01M1055.3 188.9h.01M1055.3 188.5h.01M1055.3 188.0h.01M1055.3 187.6h.01M1055.3 187.2h.01M1055.3 186.8h.01M1055.3 186.4h.01M1055.3 186.1h.01M1055.3 185.7h.01M1055.3 185.3h.01M1055.3 184.9h.01M1055.3 184.5h.01M1055.3 184.1h.01M1055.3 183.7h.01M1055.3 183.4h.01M1055.3 183.0h.01M1055.3 182.6h.01M1055.3 182.2h.01M1055.3 181.9h.01M1055.3 181.5h.01M1055.3 181.1h.01M1055.3 180.8h.01M1055.3 180.4h.01M1055.3 180.1h.01M1055.3 179.7h.01M1055.3 179.3h.01M1055.3 179.0h.01M1055.3 178.6h.01M1055.3 178.3h.01M1055.3 177.9h.01M1055.3 177.6h.01M1055.3 177.3h.01M1055.3 176.9h.01M1055.3 176.6h.01M1055.3 176.2h.01M1055.3 175.9h.01M1055.3 175.6h.01M1055.3 175.2h.01M1055.3 174.9h.01M1055.3 174.6h.01M1055.3 174.2h.01M1055.3 173.9h.01M1055.3 173.6h.01M1055.3 173.3h.01M1055.3 173.0h.01M1055.3 172.6h.01M1055.3 172.3h.01M1055.3 172.0h.01M1055.3 171.7h.01M1055.3 171.4h.01M1055.3 171.1h.01M1055.3 170.7h.01M1055.3 170.4h.01M1055.3 170.1h.01M1055.3 169.8h.01M1055.3 169.5h.01M1055.3 169.2h.01M1055.3 168.9h.01M1055.3 168.6h.01M1055.3 168.3h.01M1055.3 168.0h.01M1055.3 167.7h.01M1055.3 167.4h.01M1055.3 167.1h.01M1055.3 166.8h.01M1055.3 166.6h.01M1055.3 166.3h.01M1055.3 166.0h.01M1055.3 165.7h.01M1055.3 165.4h.01M1055.3 165.1h.01M1055.3 164.8h.01M1055.3 164.6h.01M1055.3 164.3h.01M1055.3 164.0h.01M1055.3 163.7h.01M1055.3 163.4h.01M1055.3 163.2h.01M1055.3 162.9h.01M1055.3 162.6h.01M1055.3 162.3h.01M1055.3 162.1h.01M1055.3 161.8h.01M1055.3 161.5h.01M1055.3 161.3h.01M1055.3 161.0h.01M1055.3 160.7h.01M1055.3 160.5h.01M1055.3 160.2h.01M1057.3 335.5h.01M1057.3 331.8h.01M1057.3 328.3h.01M1057.3 325.0h.01M1057.3 321.9h.01M1057.3 318.9h.01M1057.3 316.0h.01M1057.3 313.3h.01M1057.3 310.7h.01M1057.3 308.1h.01M1057.3 305.7h.01M1057.3 303.4h.01M1057.3 301.1h.01M1057.3 298.9h.01M1057.3 296.8h.01M1057.3 294.8h.01M1057.3 292.8h.01M1057.3 290.9h.01M1057.3 289.0h.01M1057.3 287.2h.01M1057.3 285.4h.01M1057.3 283.7h.01M1057.3 282.0h.01M1057.3 280.4h.01M1057.3 278.8h.01M1057.3 277.3h.01M1057.3 275.7h.01M1057.3 274.3h.01M1057.3 272.8h.01M1057.3 271.4h.01M1057.3 270.0h.01M1057.3 268.7h.01M1057.3 267.3h.01M1057.3 266.0h.01M1057.3 264.8h.01M1057.3 263.5h.01M1057.3 262.3h.01M1057.3 261.1h.01M1057.3 259.9h.01M1057.3 258.7h.01M1057.3 257.6h.01M1057.3 256.5h.01M1057.3 255.4h.01M1057.3 254.3h.01M1057.3 253.2h.01M1057.3 252.2h.01M1057.3 251.1h.01M1057.3 250.1h.01M1057.3 249.1h.01M1057.3 248.2h.01M1057.3 247.2h.01M1057.3 246.2h.01M1057.3 245.3h.01M1057.3 244.4h.01M1057.3 243.4h.01M1057.3 242.5h.01M1057.3 241.7h.01M1057.3 240.8h.01M1057.3 239.9h.01M1057.3 239.1h.01M1057.3 238.2h.01M1057.3 237.4h.01M1057.3 236.6h.01M1057.3 235.8h.01M1057.3 235.0h.01M1057.3 234.2h.01M1057.3 233.4h.01M1057.3 232.6h.01M1057.3 231.9h.01M1057.3 231.1h.01M1057.3 230.4h.01M1057.3 229.6h.01M1057.3 228.9h.01M1057.3 228.2h.01M1057.3 227.5h.01M1057.3 226.8h.01M1057.3 226.1h.01M1057.3 225.4h.01M1057.3 224.7h.01M1057.3 224.0h.01M1057.3 223.4h.01M1057.3 222.7h.01M1057.3 222.0h.01M1057.3 221.4h.01M1057.3 220.8h.01M1057.3 220.1h.01M1057.3 219.5h.01M1057.3 218.9h.01M1057.3 218.2h.01M1057.3 217.6h.01M1057.3 217.0h.01M1057.3 216.4h.01M1057.3 215.8h.01M1057.3 215.3h.01M1057.3 214.7h.01M1057.3 214.1h.01M1057.3 213.5h.01M1057.3 213.0h.01M1057.3 212.4h.01M1057.3 211.8h.01M1057.3 211.3h.01M1057.3 210.7h.01M1057.3 210.2h.01M1057.3 209.7h.01M1057.3 209.1h.01M1057.3 208.6h.01M1057.3 208.1h.01M1057.3 207.5h.01M1057.3 207.0h.01M1057.3 206.5h.01M1057.3 206.0h.01M1057.3 205.5h.01M1057.3 205.0h.01M1057.3 204.5h.01M1057.3 204.0h.01M1057.3 203.5h.01M1057.3 203.0h.01M1057.3 202.5h.01M1057.3 202.1h.01M1057.3 201.6h.01M1057.3 201.1h.01M1057.3 200.6h.01M1057.3 200.2h.01M1057.3 199.7h.01M1057.3 199.3h.01M1057.3 198.8h.01M1057.3 198.4h.01M1057.3 197.9h.01M1057.3 197.5h.01M1057.3 197.0h.01M1057.3 196.6h.01M1057.3 196.1h.01M1057.3 195.7h.01M1057.3 195.3h.01M1057.3 194.9h.01M1057.3 194.4h.01M1057.3 194.0h.01M1057.3 193.6h.01M1057.3 193.2h.01M1057.3 192.8h.01M1057.3 192.3h.01M1057.3 191.9h.01M1057.3 191.5h.01M1057.3 191.1h.01M1057.3 190.7h.01M1057.3 190.3h.01M1057.3 189.9h.01M1057.3 189.5h.01M1057.3 189.1h.01M1057.3 188.8h.01M1057.3 188.4h.01M1057.3 188.0h.01M1057.3 187.6h.01M1057.3 187.2h.01M1057.3 186.8h.01M1057.3 186.5h.01M1057.3 186.1h.01M1057.3 185.7h.01M1057.3 185.4h.01M1057.3 185.0h.01M1057.3 184.6h.01M1057.3 184.3h.01M1057.3 183.9h.01M1057.3 183.5h.01M1057.3 183.2h.01M1057.3 182.8h.01M1057.3 182.5h.01M1057.3 182.1h.01M1057.3 181.8h.01M1057.3 181.4h.01M1057.3 181.1h.01M1057.3 180.7h.01M1057.3 180.4h.01M1057.3 180.1h.01M1057.3 179.7h.01M1057.3 179.4h.01M1057.3 179.0h.01M1057.3 178.7h.01M1057.3 178.4h.01M1057.3 178.1h.01M1057.3 177.7h.01M1057.3 177.4h.01M1057.3 177.1h.01M1057.3 176.8h.01M1057.3 176.4h.01M1057.3 176.1h.01M1057.3 175.8h.01M1057.3 175.5h.01M1057.3 175.2h.01M1057.3 174.8h.01M1057.3 174.5h.01M1057.3 174.2h.01M1057.3 173.9h.01M1057.3 173.6h.01M1057.3 173.3h.01M1057.3 173.0h.01M1057.3 172.7h.01M1057.3 172.4h.01M1057.3 172.1h.01M1057.3 171.8h.01M1057.3 171.5h.01M1057.3 171.2h.01M1057.3 170.9h.01M1057.3 170.6h.01M1057.3 170.3h.01M1057.3 170.0h.01M1057.3 169.7h.01M1057.3 169.5h.01M1057.3 169.2h.01M1057.3 168.9h.01M1057.3 168.6h.01M1057.3 168.3h.01M1057.3 168.0h.01M1057.3 167.8h.01M1057.3 167.5h.01M1057.3 167.2h.01M1057.3 166.9h.01M1057.3 166.6h.01M1057.3 166.4h.01M1057.3 166.1h.01M1057.3 165.8h.01M1057.3 165.6h.01M1057.3 165.3h.01M1057.3 165.0h.01M1057.3 164.7h.01M1057.3 164.5h.01M1057.3 164.2h.01M1057.3 163.9h.01M1057.3 163.7h.01M1057.3 163.4h.01M1057.3 163.2h.01M1057.3 162.9h.01M1057.3 162.6h.01M1059.4 366.9h.01M1059.4 335.2h.01M1059.4 331.7h.01M1059.4 328.4h.01M1059.4 325.3h.01M1059.4 322.3h.01M1059.4 319.4h.01M1059.4 316.7h.01M1059.4 314.1h.01M1059.4 311.5h.01M1059.4 309.1h.01M1059.4 306.8h.01M1059.4 304.5h.01M1059.4 302.3h.01M1059.4 300.2h.01M1059.4 298.2h.01M1059.4 296.2h.01M1059.4 294.3h.01M1059.4 292.4h.01M1059.4 290.6h.01M1059.4 288.8h.01M1059.4 287.1h.01M1059.4 285.4h.01M1059.4 283.8h.01M1059.4 282.2h.01M1059.4 280.6h.01M1059.4 279.1h.01M1059.4 277.7h.01M1059.4 276.2h.01M1059.4 274.8h.01M1059.4 273.4h.01M1059.4 272.0h.01M1059.4 270.7h.01M1059.4 269.4h.01M1059.4 268.1h.01M1059.4 266.9h.01M1059.4 265.7h.01M1059.4 264.5h.01M1059.4 263.3h.01M1059.4 262.1h.01M1059.4 261.0h.01M1059.4 259.9h.01M1059.4 258.8h.01M1059.4 257.7h.01M1059.4 256.6h.01M1059.4 255.6h.01M1059.4 254.5h.01M1059.4 253.5h.01M1059.4 252.5h.01M1059.4 251.5h.01M1059.4 250.6h.01M1059.4 249.6h.01M1059.4 248.7h.01M1059.4 247.8h.01M1059.4 246.8h.01M1059.4 245.9h.01M1059.4 245.0h.01M1059.4 244.2h.01M1059.4 243.3h.01M1059.4 242.5h.01M1059.4 241.6h.01M1059.4 240.8h.01M1059.4 240.0h.01M1059.4 239.2h.01M1059.4 238.4h.01M1059.4 237.6h.01M1059.4 236.8h.01M1059.4 236.0h.01M1059.4 235.2h.01M1059.4 234.5h.01M1059.4 233.8h.01M1059.4 233.0h.01M1059.4 232.3h.01M1059.4 231.6h.01M1059.4 230.9h.01M1059.4 230.2h.01M1059.4 229.5h.01M1059.4 228.8h.01M1059.4 228.1h.01M1059.4 227.4h.01M1059.4 226.7h.01M1059.4 226.1h.01M1059.4 225.4h.01M1059.4 224.8h.01M1059.4 224.1h.01M1059.4 223.5h.01M1059.4 222.9h.01M1059.4 222.3h.01M1059.4 221.6h.01M1059.4 221.0h.01M1059.4 220.4h.01M1059.4 219.8h.01M1059.4 219.2h.01M1059.4 218.6h.01M1059.4 218.1h.01M1059.4 217.5h.01M1059.4 216.9h.01M1059.4 216.3h.01M1059.4 215.8h.01M1059.4 215.2h.01M1059.4 214.7h.01M1059.4 214.1h.01M1059.4 213.6h.01M1059.4 213.0h.01M1059.4 212.5h.01M1059.4 212.0h.01M1059.4 211.5h.01M1059.4 210.9h.01M1059.4 210.4h.01M1059.4 209.9h.01M1059.4 209.4h.01M1059.4 208.9h.01M1059.4 208.4h.01M1059.4 207.9h.01M1059.4 207.4h.01M1059.4 206.9h.01M1059.4 206.4h.01M1059.4 205.9h.01M1059.4 205.5h.01M1059.4 205.0h.01M1059.4 204.5h.01M1059.4 204.0h.01M1059.4 203.6h.01M1059.4 203.1h.01M1059.4 202.7h.01M1059.4 202.2h.01M1059.4 201.7h.01M1059.4 201.3h.01M1059.4 200.9h.01M1059.4 200.4h.01M1059.4 200.0h.01M1059.4 199.5h.01M1059.4 199.1h.01M1059.4 198.7h.01M1059.4 198.2h.01M1059.4 197.8h.01M1059.4 197.4h.01M1059.4 197.0h.01M1059.4 196.6h.01M1059.4 196.1h.01M1059.4 195.7h.01M1059.4 195.3h.01M1059.4 194.9h.01M1059.4 194.5h.01M1059.4 194.1h.01M1059.4 193.7h.01M1059.4 193.3h.01M1059.4 192.9h.01M1059.4 192.5h.01M1059.4 192.1h.01M1059.4 191.8h.01M1059.4 191.4h.01M1059.4 191.0h.01M1059.4 190.6h.01M1059.4 190.2h.01M1059.4 189.9h.01M1059.4 189.5h.01M1059.4 189.1h.01M1059.4 188.7h.01M1059.4 188.4h.01M1059.4 188.0h.01M1059.4 187.6h.01M1059.4 187.3h.01M1059.4 186.9h.01M1059.4 186.6h.01M1059.4 186.2h.01M1059.4 185.9h.01M1059.4 185.5h.01M1059.4 185.2h.01M1059.4 184.8h.01M1059.4 184.5h.01M1059.4 184.1h.01M1059.4 183.8h.01M1059.4 183.4h.01M1059.4 183.1h.01M1059.4 182.8h.01M1059.4 182.4h.01M1059.4 182.1h.01M1059.4 181.8h.01M1059.4 181.4h.01M1059.4 181.1h.01M1059.4 180.8h.01M1059.4 180.5h.01M1059.4 180.1h.01M1059.4 179.8h.01M1059.4 179.5h.01M1059.4 179.2h.01M1059.4 178.9h.01M1059.4 178.6h.01M1059.4 178.2h.01M1059.4 177.9h.01M1059.4 177.6h.01M1059.4 177.3h.01M1059.4 177.0h.01M1059.4 176.7h.01M1059.4 176.4h.01M1059.4 176.1h.01M1059.4 175.8h.01M1059.4 175.5h.01M1059.4 175.2h.01M1059.4 174.9h.01M1059.4 174.6h.01M1059.4 174.3h.01M1059.4 174.0h.01M1059.4 173.7h.01M1059.4 173.4h.01M1059.4 173.1h.01M1059.4 172.8h.01M1059.4 172.6h.01M1059.4 172.3h.01M1059.4 172.0h.01M1059.4 171.7h.01M1059.4 171.4h.01M1059.4 171.1h.01M1059.4 170.9h.01M1059.4 170.6h.01M1059.4 170.3h.01M1059.4 170.0h.01M1059.4 169.8h.01M1059.4 169.5h.01M1059.4 169.2h.01M1059.4 168.9h.01M1059.4 168.7h.01M1059.4 168.4h.01M1059.4 168.1h.01M1059.4 167.9h.01M1059.4 167.6h.01M1059.4 167.3h.01M1059.4 167.1h.01M1059.4 166.8h.01M1059.4 166.6h.01M1059.4 166.3h.01M1059.4 166.0h.01M1059.4 165.8h.01M1059.4 165.5h.01M1059.4 165.3h.01M1059.4 165.0h.01M1061.3 359.5h.01M1061.3 350.3h.01M1061.3 346.1h.01M1061.3 342.2h.01M1061.3 338.5h.01M1061.3 335.0h.01M1061.3 331.7h.01M1061.3 328.6h.01M1061.3 325.6h.01M1061.3 322.7h.01M1061.3 320.0h.01M1061.3 317.4h.01M1061.3 314.8h.01M1061.3 312.4h.01M1061.3 310.1h.01M1061.3 307.8h.01M1061.3 305.6h.01M1061.3 303.5h.01M1061.3 301.5h.01M1061.3 299.5h.01M1061.3 297.6h.01M1061.3 295.7h.01M1061.3 293.9h.01M1061.3 292.1h.01M1061.3 290.4h.01M1061.3 288.7h.01M1061.3 287.1h.01M1061.3 285.5h.01M1061.3 284.0h.01M1061.3 282.4h.01M1061.3 281.0h.01M1061.3 279.5h.01M1061.3 278.1h.01M1061.3 276.7h.01M1061.3 275.4h.01M1061.3 274.0h.01M1061.3 272.7h.01M1061.3 271.4h.01M1061.3 270.2h.01M1061.3 269.0h.01M1061.3 267.8h.01M1061.3 266.6h.01M1061.3 265.4h.01M1061.3 264.3h.01M1061.3 263.2h.01M1061.3 262.1h.01M1061.3 261.0h.01M1061.3 259.9h.01M1061.3 258.9h.01M1061.3 257.8h.01M1061.3 256.8h.01M1061.3 255.8h.01M1061.3 254.8h.01M1061.3 253.9h.01M1061.3 252.9h.01M1061.3 252.0h.01M1061.3 251.1h.01M1061.3 250.1h.01M1061.3 249.2h.01M1061.3 248.4h.01M1061.3 247.5h.01M1061.3 246.6h.01M1061.3 245.8h.01M1061.3 244.9h.01M1061.3 244.1h.01M1061.3 243.3h.01M1061.3 242.5h.01M1061.3 241.7h.01M1061.3 240.9h.01M1061.3 240.1h.01M1061.3 239.3h.01M1061.3 238.6h.01M1061.3 237.8h.01M1061.3 237.1h.01M1061.3 236.3h.01M1061.3 235.6h.01M1061.3 234.9h.01M1061.3 234.2h.01M1061.3 233.5h.01M1061.3 232.8h.01M1061.3 232.1h.01M1061.3 231.4h.01M1061.3 230.7h.01M1061.3 230.0h.01M1061.3 229.4h.01M1061.3 228.7h.01M1061.3 228.1h.01M1061.3 227.4h.01M1061.3 226.8h.01M1061.3 226.2h.01M1061.3 225.6h.01M1061.3 224.9h.01M1061.3 224.3h.01M1061.3 223.7h.01M1061.3 223.1h.01M1061.3 222.5h.01M1061.3 221.9h.01M1061.3 221.4h.01M1061.3 220.8h.01M1061.3 220.2h.01M1061.3 219.6h.01M1061.3 219.1h.01M1061.3 218.5h.01M1061.3 218.0h.01M1061.3 217.4h.01M1061.3 216.9h.01M1061.3 216.3h.01M1061.3 215.8h.01M1061.3 215.3h.01M1061.3 214.8h.01M1061.3 214.2h.01M1061.3 213.7h.01M1061.3 213.2h.01M1061.3 212.7h.01M1061.3 212.2h.01M1061.3 211.7h.01M1061.3 211.2h.01M1061.3 210.7h.01M1061.3 210.2h.01M1061.3 209.7h.01M1061.3 209.2h.01M1061.3 208.8h.01M1061.3 208.3h.01M1061.3 207.8h.01M1061.3 207.3h.01M1061.3 206.9h.01M1061.3 206.4h.01M1061.3 206.0h.01M1061.3 205.5h.01M1061.3 205.1h.01M1061.3 204.6h.01M1061.3 204.2h.01M1061.3 203.7h.01M1061.3 203.3h.01M1061.3 202.8h.01M1061.3 202.4h.01M1061.3 202.0h.01M1061.3 201.5h.01M1061.3 201.1h.01M1061.3 200.7h.01M1061.3 200.3h.01M1061.3 199.9h.01M1061.3 199.4h.01M1061.3 199.0h.01M1061.3 198.6h.01M1061.3 198.2h.01M1061.3 197.8h.01M1061.3 197.4h.01M1061.3 197.0h.01M1061.3 196.6h.01M1061.3 196.2h.01M1061.3 195.8h.01M1061.3 195.4h.01M1061.3 195.1h.01M1061.3 194.7h.01M1061.3 194.3h.01M1061.3 193.9h.01M1061.3 193.5h.01M1061.3 193.2h.01M1061.3 192.8h.01M1061.3 192.4h.01M1061.3 192.0h.01M1061.3 191.7h.01M1061.3 191.3h.01M1061.3 191.0h.01M1061.3 190.6h.01M1061.3 190.2h.01M1061.3 189.9h.01M1061.3 189.5h.01M1061.3 189.2h.01M1061.3 188.8h.01M1061.3 188.5h.01M1061.3 188.1h.01M1061.3 187.8h.01M1061.3 187.4h.01M1061.3 187.1h.01M1061.3 186.8h.01M1061.3 186.4h.01M1061.3 186.1h.01M1061.3 185.7h.01M1061.3 185.4h.01M1061.3 185.1h.01M1061.3 184.7h.01M1061.3 184.4h.01M1061.3 184.1h.01M1061.3 183.8h.01M1061.3 183.4h.01M1061.3 183.1h.01M1061.3 182.8h.01M1061.3 182.5h.01M1061.3 182.2h.01M1061.3 181.9h.01M1061.3 181.5h.01M1061.3 181.2h.01M1061.3 180.9h.01M1061.3 180.6h.01M1061.3 180.3h.01M1061.3 180.0h.01M1061.3 179.7h.01M1061.3 179.4h.01M1061.3 179.1h.01M1061.3 178.8h.01M1061.3 178.5h.01M1061.3 178.2h.01M1061.3 177.9h.01M1061.3 177.6h.01M1061.3 177.3h.01M1061.3 177.0h.01M1061.3 176.7h.01M1061.3 176.4h.01M1061.3 176.1h.01M1061.3 175.9h.01M1061.3 175.6h.01M1061.3 175.3h.01M1061.3 175.0h.01M1061.3 174.7h.01M1061.3 174.4h.01M1061.3 174.2h.01M1061.3 173.9h.01M1061.3 173.6h.01M1061.3 173.3h.01M1061.3 173.1h.01M1061.3 172.8h.01M1061.3 172.5h.01M1061.3 172.2h.01M1061.3 172.0h.01M1061.3 171.7h.01M1061.3 171.4h.01M1061.3 171.2h.01M1061.3 170.9h.01M1061.3 170.6h.01M1061.3 170.4h.01M1061.3 170.1h.01M1061.3 169.9h.01M1061.3 169.6h.01M1061.3 169.3h.01M1061.3 169.1h.01M1061.3 168.8h.01M1061.3 168.6h.01M1061.3 168.3h.01M1061.3 168.1h.01M1061.3 167.8h.01M1061.3 167.5h.01M1061.3 167.3h.01M1063.2 412.5h.01M1063.2 379.6h.01M1063.2 362.7h.01M1063.2 345.4h.01M1063.2 335.0h.01M1063.2 331.8h.01M1063.2 328.8h.01M1063.2 326.0h.01M1063.2 323.2h.01M1063.2 320.6h.01M1063.2 318.1h.01M1063.2 315.6h.01M1063.2 313.3h.01M1063.2 311.0h.01M1063.2 308.8h.01M1063.2 306.7h.01M1063.2 304.7h.01M1063.2 302.7h.01M1063.2 300.8h.01M1063.2 298.9h.01M1063.2 297.1h.01M1063.2 295.3h.01M1063.2 293.6h.01M1063.2 291.9h.01M1063.2 290.3h.01M1063.2 288.7h.01M1063.2 287.2h.01M1063.2 285.7h.01M1063.2 284.2h.01M1063.2 282.7h.01M1063.2 281.3h.01M1063.2 279.9h.01M1063.2 278.6h.01M1063.2 277.2h.01M1063.2 275.9h.01M1063.2 274.7h.01M1063.2 273.4h.01M1063.2 272.2h.01M1063.2 271.0h.01M1063.2 269.8h.01M1063.2 268.6h.01M1063.2 267.5h.01M1063.2 266.4h.01M1063.2 265.3h.01M1063.2 264.2h.01M1063.2 263.1h.01M1063.2 262.1h.01M1063.2 261.1h.01M1063.2 260.0h.01M1063.2 259.0h.01M1063.2 258.1h.01M1063.2 257.1h.01M1063.2 256.1h.01M1063.2 255.2h.01M1063.2 254.3h.01M1063.2 253.4h.01M1063.2 252.5h.01M1063.2 251.6h.01M1063.2 250.7h.01M1063.2 249.8h.01M1063.2 249.0h.01M1063.2 248.1h.01M1063.2 247.3h.01M1063.2 246.5h.01M1063.2 245.7h.01M1063.2 244.9h.01M1063.2 244.1h.01M1063.2 243.3h.01M1063.2 242.5h.01M1063.2 241.8h.01M1063.2 241.0h.01M1063.2 240.3h.01M1063.2 239.5h.01M1063.2 238.8h.01M1063.2 238.1h.01M1063.2 237.4h.01M1063.2 236.7h.01M1063.2 236.0h.01M1063.2 235.3h.01M1063.2 234.6h.01M1063.2 233.9h.01M1063.2 233.3h.01M1063.2 232.6h.01M1063.2 232.0h.01M1063.2 231.3h.01M1063.2 230.7h.01M1063.2 230.0h.01M1063.2 229.4h.01M1063.2 228.8h.01M1063.2 228.2h.01M1063.2 227.6h.01M1063.2 226.9h.01M1063.2 226.3h.01M1063.2 225.8h.01M1063.2 225.2h.01M1063.2 224.6h.01M1063.2 224.0h.01M1063.2 223.4h.01M1063.2 222.9h.01M1063.2 222.3h.01M1063.2 221.7h.01M1063.2 221.2h.01M1063.2 220.6h.01M1063.2 220.1h.01M1063.2 219.6h.01M1063.2 219.0h.01M1063.2 218.5h.01M1063.2 218.0h.01M1063.2 217.5h.01M1063.2 216.9h.01M1063.2 216.4h.01M1063.2 215.9h.01M1063.2 215.4h.01M1063.2 214.9h.01M1063.2 214.4h.01M1063.2 213.9h.01M1063.2 213.4h.01M1063.2 212.9h.01M1063.2 212.5h.01M1063.2 212.0h.01M1063.2 211.5h.01M1063.2 211.0h.01M1063.2 210.6h.01M1063.2 210.1h.01M1063.2 209.6h.01M1063.2 209.2h.01M1063.2 208.7h.01M1063.2 208.3h.01M1063.2 207.8h.01M1063.2 207.4h.01M1063.2 206.9h.01M1063.2 206.5h.01M1063.2 206.1h.01M1063.2 205.6h.01M1063.2 205.2h.01M1063.2 204.8h.01M1063.2 204.3h.01M1063.2 203.9h.01M1063.2 203.5h.01M1063.2 203.1h.01M1063.2 202.7h.01M1063.2 202.3h.01M1063.2 201.8h.01M1063.2 201.4h.01M1063.2 201.0h.01M1063.2 200.6h.01M1063.2 200.2h.01M1063.2 199.8h.01M1063.2 199.4h.01M1063.2 199.1h.01M1063.2 198.7h.01M1063.2 198.3h.01M1063.2 197.9h.01M1063.2 197.5h.01M1063.2 197.1h.01M1063.2 196.8h.01M1063.2 196.4h.01M1063.2 196.0h.01M1063.2 195.6h.01M1063.2 195.3h.01M1063.2 194.9h.01M1063.2 194.5h.01M1063.2 194.2h.01M1063.2 193.8h.01M1063.2 193.5h.01M1063.2 193.1h.01M1063.2 192.7h.01M1063.2 192.4h.01M1063.2 192.0h.01M1063.2 191.7h.01M1063.2 191.3h.01M1063.2 191.0h.01M1063.2 190.7h.01M1063.2 190.3h.01M1063.2 190.0h.01M1063.2 189.6h.01M1063.2 189.3h.01M1063.2 189.0h.01M1063.2 188.6h.01M1063.2 188.3h.01M1063.2 188.0h.01M1063.2 187.6h.01M1063.2 187.3h.01M1063.2 187.0h.01M1063.2 186.7h.01M1063.2 186.3h.01M1063.2 186.0h.01M1063.2 185.7h.01M1063.2 185.4h.01M1063.2 185.1h.01M1063.2 184.8h.01M1063.2 184.5h.01M1063.2 184.1h.01M1063.2 183.8h.01M1063.2 183.5h.01M1063.2 183.2h.01M1063.2 182.9h.01M1063.2 182.6h.01M1063.2 182.3h.01M1063.2 182.0h.01M1063.2 181.7h.01M1063.2 181.4h.01M1063.2 181.1h.01M1063.2 180.8h.01M1063.2 180.5h.01M1063.2 180.2h.01M1063.2 179.9h.01M1063.2 179.7h.01M1063.2 179.4h.01M1063.2 179.1h.01M1063.2 178.8h.01M1063.2 178.5h.01M1063.2 178.2h.01M1063.2 177.9h.01M1063.2 177.7h.01M1063.2 177.4h.01M1063.2 177.1h.01M1063.2 176.8h.01M1063.2 176.6h.01M1063.2 176.3h.01M1063.2 176.0h.01M1063.2 175.7h.01M1063.2 175.5h.01M1063.2 175.2h.01M1063.2 174.9h.01M1063.2 174.7h.01M1063.2 174.4h.01M1063.2 174.1h.01M1063.2 173.9h.01M1063.2 173.6h.01M1063.2 173.3h.01M1063.2 173.1h.01M1063.2 172.8h.01M1063.2 172.6h.01M1063.2 172.3h.01M1063.2 172.0h.01M1063.2 171.8h.01M1063.2 171.5h.01M1063.2 171.3h.01M1063.2 171.0h.01M1063.2 170.8h.01M1063.2 170.5h.01M1063.2 170.3h.01M1063.2 170.0h.01M1063.2 169.8h.01M1063.2 169.5h.01M1063.2 169.3h.01M1063.2 169.0h.01M1063.2 168.8h.01M1063.2 168.5h.01M1063.2 168.3h.01M1065.1 371.0h.01M1065.1 356.6h.01M1065.1 348.6h.01M1065.1 335.0h.01M1065.1 332.0h.01M1065.1 329.1h.01M1065.1 326.4h.01M1065.1 323.7h.01M1065.1 321.2h.01M1065.1 318.8h.01M1065.1 316.4h.01M1065.1 314.2h.01M1065.1 312.0h.01M1065.1 309.9h.01M1065.1 307.8h.01M1065.1 305.8h.01M1065.1 303.9h.01M1065.1 302.1h.01M1065.1 300.2h.01M1065.1 298.5h.01M1065.1 296.8h.01M1065.1 295.1h.01M1065.1 293.5h.01M1065.1 291.9h.01M1065.1 290.3h.01M1065.1 288.8h.01M1065.1 287.3h.01M1065.1 285.9h.01M1065.1 284.5h.01M1065.1 283.1h.01M1065.1 281.7h.01M1065.1 280.4h.01M1065.1 279.1h.01M1065.1 277.8h.01M1065.1 276.6h.01M1065.1 275.3h.01M1065.1 274.1h.01M1065.1 272.9h.01M1065.1 271.8h.01M1065.1 270.6h.01M1065.1 269.5h.01M1065.1 268.4h.01M1065.1 267.3h.01M1065.1 266.3h.01M1065.1 265.2h.01M1065.1 264.2h.01M1065.1 263.2h.01M1065.1 262.2h.01M1065.1 261.2h.01M1065.1 260.2h.01M1065.1 259.3h.01M1065.1 258.3h.01M1065.1 257.4h.01M1065.1 256.5h.01M1065.1 255.6h.01M1065.1 254.7h.01M1065.1 253.8h.01M1065.1 253.0h.01M1065.1 252.1h.01M1065.1 251.3h.01M1065.1 250.4h.01M1065.1 249.6h.01M1065.1 248.8h.01M1065.1 248.0h.01M1065.1 247.2h.01M1065.1 246.4h.01M1065.1 245.7h.01M1065.1 244.9h.01M1065.1 244.2h.01M1065.1 243.4h.01M1065.1 242.7h.01M1065.1 242.0h.01M1065.1 241.2h.01M1065.1 240.5h.01M1065.1 239.8h.01M1065.1 239.1h.01M1065.1 238.4h.01M1065.1 237.8h.01M1065.1 237.1h.01M1065.1 236.4h.01M1065.1 235.7h.01M1065.1 235.1h.01M1065.1 234.4h.01M1065.1 233.8h.01M1065.1 233.2h.01M1065.1 232.5h.01M1065.1 231.9h.01M1065.1 231.3h.01M1065.1 230.7h.01M1065.1 230.1h.01M1065.1 229.5h.01M1065.1 228.9h.01M1065.1 228.3h.01M1065.1 227.7h.01M1065.1 227.1h.01M1065.1 226.6h.01M1065.1 226.0h.01M1065.1 225.4h.01M1065.1 224.9h.01M1065.1 224.3h.01M1065.1 223.8h.01M1065.1 223.2h.01M1065.1 222.7h.01M1065.1 222.2h.01M1065.1 221.6h.01M1065.1 221.1h.01M1065.1 220.6h.01M1065.1 220.1h.01M1065.1 219.6h.01M1065.1 219.1h.01M1065.1 218.6h.01M1065.1 218.0h.01M1065.1 217.6h.01M1065.1 217.1h.01M1065.1 216.6h.01M1065.1 216.1h.01M1065.1 215.6h.01M1065.1 215.1h.01M1065.1 214.6h.01M1065.1 214.2h.01M1065.1 213.7h.01M1065.1 213.2h.01M1065.1 212.8h.01M1065.1 212.3h.01M1065.1 211.9h.01M1065.1 211.4h.01M1065.1 211.0h.01M1065.1 210.5h.01M1065.1 210.1h.01M1065.1 209.6h.01M1065.1 209.2h.01M1065.1 208.8h.01M1065.1 208.3h.01M1065.1 207.9h.01M1065.1 207.5h.01M1065.1 207.1h.01M1065.1 206.6h.01M1065.1 206.2h.01M1065.1 205.8h.01M1065.1 205.4h.01M1065.1 205.0h.01M1065.1 204.6h.01M1065.1 204.2h.01M1065.1 203.8h.01M1065.1 203.4h.01M1065.1 203.0h.01M1065.1 202.6h.01M1065.1 202.2h.01M1065.1 201.8h.01M1065.1 201.4h.01M1065.1 201.0h.01M1065.1 200.7h.01M1065.1 200.3h.01M1065.1 199.9h.01M1065.1 199.5h.01M1065.1 199.1h.01M1065.1 198.8h.01M1065.1 198.4h.01M1065.1 198.0h.01M1065.1 197.7h.01M1065.1 197.3h.01M1065.1 197.0h.01M1065.1 196.6h.01M1065.1 196.2h.01M1065.1 195.9h.01M1065.1 195.5h.01M1065.1 195.2h.01M1065.1 194.8h.01M1065.1 194.5h.01M1065.1 194.1h.01M1065.1 193.8h.01M1065.1 193.5h.01M1065.1 193.1h.01M1065.1 192.8h.01M1065.1 192.4h.01M1065.1 192.1h.01M1065.1 191.8h.01M1065.1 191.4h.01M1065.1 191.1h.01M1065.1 190.8h.01M1065.1 190.5h.01M1065.1 190.1h.01M1065.1 189.8h.01M1065.1 189.5h.01M1065.1 189.2h.01M1065.1 188.9h.01M1065.1 188.5h.01M1065.1 188.2h.01M1065.1 187.9h.01M1065.1 187.6h.01M1065.1 187.3h.01M1065.1 187.0h.01M1065.1 186.7h.01M1065.1 186.4h.01M1065.1 186.1h.01M1065.1 185.8h.01M1065.1 185.5h.01M1065.1 185.2h.01M1065.1 184.9h.01M1065.1 184.6h.01M1065.1 184.3h.01M1065.1 184.0h.01M1065.1 183.7h.01M1065.1 183.4h.01M1065.1 183.1h.01M1065.1 182.8h.01M1065.1 182.5h.01M1065.1 182.2h.01M1065.1 181.9h.01M1065.1 181.7h.01M1065.1 181.4h.01M1065.1 181.1h.01M1065.1 180.8h.01M1065.1 180.5h.01M1065.1 180.3h.01M1065.1 180.0h.01M1065.1 179.7h.01M1065.1 179.4h.01M1065.1 179.2h.01M1065.1 178.9h.01M1065.1 178.6h.01M1065.1 178.3h.01M1065.1 178.1h.01M1065.1 177.8h.01M1065.1 177.5h.01M1065.1 177.3h.01M1065.1 177.0h.01M1065.1 176.7h.01M1065.1 176.5h.01M1065.1 176.2h.01M1065.1 176.0h.01M1065.1 175.7h.01M1065.1 175.4h.01M1065.1 175.2h.01M1065.1 174.9h.01M1065.1 174.7h.01M1065.1 174.4h.01M1065.1 174.2h.01M1065.1 173.9h.01M1065.1 173.7h.01M1065.1 173.4h.01M1065.1 173.2h.01M1065.1 172.9h.01M1065.1 172.7h.01M1065.1 172.4h.01M1065.1 172.2h.01M1065.1 171.9h.01M1065.1 171.7h.01M1065.1 171.4h.01M1065.1 171.2h.01M1065.1 171.0h.01M1065.1 170.7h.01M1065.1 170.5h.01M1065.1 170.2h.01M1065.1 170.0h.01M1065.1 169.8h.01M1065.1 169.5h.01M1065.1 169.3h.01M1065.1 169.1h.01M1065.1 168.8h.01M1065.1 168.6h.01M1065.1 168.4h.01M1066.9 344.5h.01M1066.9 338.0h.01M1066.9 335.0h.01M1066.9 332.2h.01M1066.9 329.4h.01M1066.9 326.8h.01M1066.9 324.3h.01M1066.9 321.8h.01M1066.9 319.5h.01M1066.9 317.2h.01M1066.9 315.1h.01M1066.9 312.9h.01M1066.9 310.9h.01M1066.9 308.9h.01M1066.9 307.0h.01M1066.9 305.1h.01M1066.9 303.3h.01M1066.9 301.5h.01M1066.9 299.8h.01M1066.9 298.2h.01M1066.9 296.5h.01M1066.9 294.9h.01M1066.9 293.4h.01M1066.9 291.9h.01M1066.9 290.4h.01M1066.9 288.9h.01M1066.9 287.5h.01M1066.9 286.1h.01M1066.9 284.8h.01M1066.9 283.5h.01M1066.9 282.2h.01M1066.9 280.9h.01M1066.9 279.6h.01M1066.9 278.4h.01M1066.9 277.2h.01M1066.9 276.0h.01M1066.9 274.9h.01M1066.9 273.7h.01M1066.9 272.6h.01M1066.9 271.5h.01M1066.9 270.4h.01M1066.9 269.3h.01M1066.9 268.3h.01M1066.9 267.3h.01M1066.9 266.3h.01M1066.9 265.3h.01M1066.9 264.3h.01M1066.9 263.3h.01M1066.9 262.4h.01M1066.9 261.4h.01M1066.9 260.5h.01M1066.9 259.6h.01M1066.9 258.7h.01M1066.9 257.8h.01M1066.9 256.9h.01M1066.9 256.0h.01M1066.9 255.2h.01M1066.9 254.3h.01M1066.9 253.5h.01M1066.9 252.7h.01M1066.9 251.9h.01M1066.9 251.1h.01M1066.9 250.3h.01M1066.9 249.5h.01M1066.9 248.7h.01M1066.9 248.0h.01M1066.9 247.2h.01M1066.9 246.5h.01M1066.9 245.7h.01M1066.9 245.0h.01M1066.9 244.3h.01M1066.9 243.6h.01M1066.9 242.9h.01M1066.9 242.2h.01M1066.9 241.5h.01M1066.9 240.8h.01M1066.9 240.1h.01M1066.9 239.5h.01M1066.9 238.8h.01M1066.9 238.2h.01M1066.9 237.5h.01M1066.9 236.9h.01M1066.9 236.2h.01M1066.9 235.6h.01M1066.9 235.0h.01M1066.9 234.4h.01M1066.9 233.8h.01M1066.9 233.2h.01M1066.9 232.6h.01M1066.9 232.0h.01M1066.9 231.4h.01M1066.9 230.8h.01M1066.9 230.2h.01M1066.9 229.6h.01M1066.9 229.1h.01M1066.9 228.5h.01M1066.9 228.0h.01M1066.9 227.4h.01M1066.9 226.9h.01M1066.9 226.3h.01M1066.9 225.8h.01M1066.9 225.2h.01M1066.9 224.7h.01M1066.9 224.2h.01M1066.9 223.7h.01M1066.9 223.1h.01M1066.9 222.6h.01M1066.9 222.1h.01M1066.9 221.6h.01M1066.9 221.1h.01M1066.9 220.6h.01M1066.9 220.1h.01M1066.9 219.6h.01M1066.9 219.2h.01M1066.9 218.7h.01M1066.9 218.2h.01M1066.9 217.7h.01M1066.9 217.2h.01M1066.9 216.8h.01M1066.9 216.3h.01M1066.9 215.8h.01M1066.9 215.4h.01M1066.9 214.9h.01M1066.9 214.5h.01M1066.9 214.0h.01M1066.9 213.6h.01M1066.9 213.1h.01M1066.9 212.7h.01M1066.9 212.3h.01M1066.9 211.8h.01M1066.9 211.4h.01M1066.9 211.0h.01M1066.9 210.6h.01M1066.9 210.1h.01M1066.9 209.7h.01M1066.9 209.3h.01M1066.9 208.9h.01M1066.9 208.5h.01M1066.9 208.1h.01M1066.9 207.7h.01M1066.9 207.2h.01M1066.9 206.8h.01M1066.9 206.4h.01M1066.9 206.1h.01M1066.9 205.7h.01M1066.9 205.3h.01M1066.9 204.9h.01M1066.9 204.5h.01M1066.9 204.1h.01M1066.9 203.7h.01M1066.9 203.3h.01M1066.9 203.0h.01M1066.9 202.6h.01M1066.9 202.2h.01M1066.9 201.8h.01M1066.9 201.5h.01M1066.9 201.1h.01M1066.9 200.7h.01M1066.9 200.4h.01M1066.9 200.0h.01M1066.9 199.7h.01M1066.9 199.3h.01M1066.9 199.0h.01M1066.9 198.6h.01M1066.9 198.2h.01M1066.9 197.9h.01M1066.9 197.6h.01M1066.9 197.2h.01M1066.9 196.9h.01M1066.9 196.5h.01M1066.9 196.2h.01M1066.9 195.8h.01M1066.9 195.5h.01M1066.9 195.2h.01M1066.9 194.8h.01M1066.9 194.5h.01M1066.9 194.2h.01M1066.9 193.9h.01M1066.9 193.5h.01M1066.9 193.2h.01M1066.9 192.9h.01M1066.9 192.6h.01M1066.9 192.2h.01M1066.9 191.9h.01M1066.9 191.6h.01M1066.9 191.3h.01M1066.9 191.0h.01M1066.9 190.7h.01M1066.9 190.4h.01M1066.9 190.0h.01M1066.9 189.7h.01M1066.9 189.4h.01M1066.9 189.1h.01M1066.9 188.8h.01M1066.9 188.5h.01M1066.9 188.2h.01M1066.9 187.9h.01M1066.9 187.6h.01M1066.9 187.3h.01M1066.9 187.0h.01M1066.9 186.7h.01M1066.9 186.4h.01M1066.9 186.2h.01M1066.9 185.9h.01M1066.9 185.6h.01M1066.9 185.3h.01M1066.9 185.0h.01M1066.9 184.7h.01M1066.9 184.4h.01M1066.9 184.2h.01M1066.9 183.9h.01M1066.9 183.6h.01M1066.9 183.3h.01M1066.9 183.0h.01M1066.9 182.8h.01M1066.9 182.5h.01M1066.9 182.2h.01M1066.9 181.9h.01M1066.9 181.7h.01M1066.9 181.4h.01M1066.9 181.1h.01M1066.9 180.9h.01M1066.9 180.6h.01M1066.9 180.3h.01M1066.9 180.1h.01M1066.9 179.8h.01M1066.9 179.5h.01M1066.9 179.3h.01M1066.9 179.0h.01M1066.9 178.8h.01M1066.9 178.5h.01M1066.9 178.2h.01M1066.9 178.0h.01M1066.9 177.7h.01M1066.9 177.5h.01M1066.9 177.2h.01M1066.9 177.0h.01M1066.9 176.7h.01M1066.9 176.5h.01M1066.9 176.2h.01M1066.9 176.0h.01M1066.9 175.7h.01M1066.9 175.5h.01M1066.9 175.2h.01M1066.9 175.0h.01M1066.9 174.8h.01M1066.9 174.5h.01M1066.9 174.3h.01M1066.9 174.0h.01M1066.9 173.8h.01M1066.9 173.6h.01M1066.9 173.3h.01M1066.9 173.1h.01M1066.9 172.8h.01M1066.9 172.6h.01M1066.9 172.4h.01M1066.9 172.1h.01M1066.9 171.9h.01M1066.9 171.7h.01M1066.9 171.4h.01M1066.9 171.2h.01M1066.9 171.0h.01M1066.9 170.7h.01M1066.9 170.5h.01M1066.9 170.3h.01M1066.9 170.1h.01M1066.9 169.8h.01M1066.9 169.6h.01M1066.9 169.4h.01M1066.9 169.2h.01M1066.9 168.9h.01M1066.9 168.7h.01M1066.9 168.5h.01M1066.9 168.3h.01M1068.7 354.6h.01M1068.7 350.9h.01M1068.7 335.2h.01M1068.7 332.4h.01M1068.7 329.8h.01M1068.7 327.3h.01M1068.7 324.8h.01M1068.7 322.5h.01M1068.7 320.2h.01M1068.7 318.0h.01M1068.7 315.9h.01M1068.7 313.9h.01M1068.7 311.9h.01M1068.7 310.0h.01M1068.7 308.1h.01M1068.7 306.3h.01M1068.7 304.5h.01M1068.7 302.8h.01M1068.7 301.2h.01M1068.7 299.5h.01M1068.7 297.9h.01M1068.7 296.4h.01M1068.7 294.9h.01M1068.7 293.4h.01M1068.7 291.9h.01M1068.7 290.5h.01M1068.7 289.1h.01M1068.7 287.8h.01M1068.7 286.5h.01M1068.7 285.2h.01M1068.7 283.9h.01M1068.7 282.6h.01M1068.7 281.4h.01M1068.7 280.2h.01M1068.7 279.0h.01M1068.7 277.9h.01M1068.7 276.7h.01M1068.7 275.6h.01M1068.7 274.5h.01M1068.7 273.4h.01M1068.7 272.3h.01M1068.7 271.3h.01M1068.7 270.3h.01M1068.7 269.3h.01M1068.7 268.3h.01M1068.7 267.3h.01M1068.7 266.3h.01M1068.7 265.3h.01M1068.7 264.4h.01M1068.7 263.5h.01M1068.7 262.6h.01M1068.7 261.7h.01M1068.7 260.8h.01M1068.7 259.9h.01M1068.7 259.0h.01M1068.7 258.2h.01M1068.7 257.3h.01M1068.7 256.5h.01M1068.7 255.7h.01M1068.7 254.9h.01M1068.7 254.1h.01M1068.7 253.3h.01M1068.7 252.5h.01M1068.7 251.7h.01M1068.7 251.0h.01M1068.7 250.2h.01M1068.7 249.5h.01M1068.7 248.7h.01M1068.7 248.0h.01M1068.7 247.3h.01M1068.7 246.6h.01M1068.7 245.9h.01M1068.7 245.2h.01M1068.7 244.5h.01M1068.7 243.8h.01M1068.7 243.1h.01M1068.7 242.5h.01M1068.7 241.8h.01M1068.7 241.2h.01M1068.7 240.5h.01M1068.7 239.9h.01M1068.7 239.2h.01M1068.7 238.6h.01M1068.7 238.0h.01M1068.7 237.4h.01M1068.7 236.8h.01M1068.7 236.2h.01M1068.7 235.6h.01M1068.7 235.0h.01M1068.7 234.4h.01M1068.7 233.8h.01M1068.7 233.2h.01M1068.7 232.6h.01M1068.7 232.1h.01M1068.7 231.5h.01M1068.7 231.0h.01M1068.7 230.4h.01M1068.7 229.9h.01M1068.7 229.3h.01M1068.7 228.8h.01M1068.7 228.2h.01M1068.7 227.7h.01M1068.7 227.2h.01M1068.7 226.7h.01M1068.7 226.1h.01M1068.7 225.6h.01M1068.7 225.1h.01M1068.7 224.6h.01M1068.7 224.1h.01M1068.7 223.6h.01M1068.7 223.1h.01M1068.7 222.6h.01M1068.7 222.1h.01M1068.7 221.7h.01M1068.7 221.2h.01M1068.7 220.7h.01M1068.7 220.2h.01M1068.7 219.8h.01M1068.7 219.3h.01M1068.7 218.8h.01M1068.7 218.4h.01M1068.7 217.9h.01M1068.7 217.5h.01M1068.7 217.0h.01M1068.7 216.6h.01M1068.7 216.1h.01M1068.7 215.7h.01M1068.7 215.3h.01M1068.7 214.8h.01M1068.7 214.4h.01M1068.7 214.0h.01M1068.7 213.5h.01M1068.7 213.1h.01M1068.7 212.7h.01M1068.7 212.3h.01M1068.7 211.9h.01M1068.7 211.5h.01M1068.7 211.1h.01M1068.7 210.6h.01M1068.7 210.2h.01M1068.7 209.8h.01M1068.7 209.4h.01M1068.7 209.0h.01M1068.7 208.7h.01M1068.7 208.3h.01M1068.7 207.9h.01M1068.7 207.5h.01M1068.7 207.1h.01M1068.7 206.7h.01M1068.7 206.3h.01M1068.7 206.0h.01M1068.7 205.6h.01M1068.7 205.2h.01M1068.7 204.8h.01M1068.7 204.5h.01M1068.7 204.1h.01M1068.7 203.7h.01M1068.7 203.4h.01M1068.7 203.0h.01M1068.7 202.7h.01M1068.7 202.3h.01M1068.7 201.9h.01M1068.7 201.6h.01M1068.7 201.2h.01M1068.7 200.9h.01M1068.7 200.5h.01M1068.7 200.2h.01M1068.7 199.9h.01M1068.7 199.5h.01M1068.7 199.2h.01M1068.7 198.8h.01M1068.7 198.5h.01M1068.7 198.2h.01M1068.7 197.8h.01M1068.7 197.5h.01M1068.7 197.2h.01M1068.7 196.8h.01M1068.7 196.5h.01M1068.7 196.2h.01M1068.7 195.9h.01M1068.7 195.6h.01M1068.7 195.2h.01M1068.7 194.9h.01M1068.7 194.6h.01M1068.7 194.3h.01M1068.7 194.0h.01M1068.7 193.7h.01M1068.7 193.3h.01M1068.7 193.0h.01M1068.7 192.7h.01M1068.7 192.4h.01M1068.7 192.1h.01M1068.7 191.8h.01M1068.7 191.5h.01M1068.7 191.2h.01M1068.7 190.9h.01M1068.7 190.6h.01M1068.7 190.3h.01M1068.7 190.0h.01M1068.7 189.7h.01M1068.7 189.4h.01M1068.7 189.2h.01M1068.7 188.9h.01M1068.7 188.6h.01M1068.7 188.3h.01M1068.7 188.0h.01M1068.7 187.7h.01M1068.7 187.4h.01M1068.7 187.2h.01M1068.7 186.9h.01M1068.7 186.6h.01M1068.7 186.3h.01M1068.7 186.0h.01M1068.7 185.8h.01M1068.7 185.5h.01M1068.7 185.2h.01M1068.7 184.9h.01M1068.7 184.7h.01M1068.7 184.4h.01M1068.7 184.1h.01M1068.7 183.9h.01M1068.7 183.6h.01M1068.7 183.3h.01M1068.7 183.1h.01M1068.7 182.8h.01M1068.7 182.5h.01M1068.7 182.3h.01M1068.7 182.0h.01M1068.7 181.8h.01M1068.7 181.5h.01M1068.7 181.2h.01M1068.7 181.0h.01M1068.7 180.7h.01M1068.7 180.5h.01M1068.7 180.2h.01M1068.7 180.0h.01M1068.7 179.7h.01M1068.7 179.5h.01M1068.7 179.2h.01M1068.7 179.0h.01M1068.7 178.7h.01M1068.7 178.5h.01M1068.7 178.2h.01M1068.7 178.0h.01M1068.7 177.7h.01M1068.7 177.5h.01M1068.7 177.3h.01M1068.7 177.0h.01M1068.7 176.8h.01M1068.7 176.5h.01M1068.7 176.3h.01M1068.7 176.1h.01M1068.7 175.8h.01M1068.7 175.6h.01M1068.7 175.4h.01M1068.7 175.1h.01M1068.7 174.9h.01M1068.7 174.7h.01M1068.7 174.4h.01M1068.7 174.2h.01M1068.7 174.0h.01M1068.7 173.7h.01M1068.7 173.5h.01M1068.7 173.3h.01M1068.7 173.1h.01M1068.7 172.8h.01M1068.7 172.6h.01M1068.7 172.4h.01M1068.7 172.2h.01M1068.7 171.9h.01M1068.7 171.7h.01M1068.7 171.5h.01M1068.7 171.3h.01M1068.7 171.1h.01M1068.7 170.8h.01M1068.7 170.6h.01M1068.7 170.4h.01M1068.7 170.2h.01M1068.7 170.0h.01M1068.7 169.8h.01M1068.7 169.5h.01M1068.7 169.3h.01M1068.7 169.1h.01M1068.7 168.9h.01M1068.7 168.7h.01M1068.7 168.5h.01M1070.4 343.9h.01M1070.4 340.9h.01M1070.4 338.1h.01M1070.4 335.3h.01M1070.4 332.7h.01M1070.4 330.2h.01M1070.4 327.8h.01M1070.4 325.4h.01M1070.4 323.2h.01M1070.4 321.0h.01M1070.4 318.9h.01M1070.4 316.8h.01M1070.4 314.8h.01M1070.4 312.9h.01M1070.4 311.0h.01M1070.4 309.2h.01M1070.4 307.5h.01M1070.4 305.8h.01M1070.4 304.1h.01M1070.4 302.4h.01M1070.4 300.9h.01M1070.4 299.3h.01M1070.4 297.8h.01M1070.4 296.3h.01M1070.4 294.9h.01M1070.4 293.4h.01M1070.4 292.1h.01M1070.4 290.7h.01M1070.4 289.4h.01M1070.4 288.1h.01M1070.4 286.8h.01M1070.4 285.6h.01M1070.4 284.3h.01M1070.4 283.1h.01M1070.4 281.9h.01M1070.4 280.8h.01M1070.4 279.6h.01M1070.4 278.5h.01M1070.4 277.4h.01M1070.4 276.3h.01M1070.4 275.3h.01M1070.4 274.2h.01M1070.4 273.2h.01M1070.4 272.2h.01M1070.4 271.2h.01M1070.4 270.2h.01M1070.4 269.2h.01M1070.4 268.3h.01M1070.4 267.3h.01M1070.4 266.4h.01M1070.4 265.5h.01M1070.4 264.6h.01M1070.4 263.7h.01M1070.4 262.8h.01M1070.4 262.0h.01M1070.4 261.1h.01M1070.4 260.3h.01M1070.4 259.4h.01M1070.4 258.6h.01M1070.4 257.8h.01M1070.4 257.0h.01M1070.4 256.2h.01M1070.4 255.4h.01M1070.4 254.7h.01M1070.4 253.9h.01M1070.4 253.2h.01M1070.4 252.4h.01M1070.4 251.7h.01M1070.4 250.9h.01M1070.4 250.2h.01M1070.4 249.5h.01M1070.4 248.8h.01M1070.4 248.1h.01M1070.4 247.4h.01M1070.4 246.7h.01M1070.4 246.1h.01M1070.4 245.4h.01M1070.4 244.7h.01M1070.4 244.1h.01M1070.4 243.4h.01M1070.4 242.8h.01M1070.4 242.2h.01M1070.4 241.5h.01M1070.4 240.9h.01M1070.4 240.3h.01M1070.4 239.7h.01M1070.4 239.1h.01M1070.4 238.5h.01M1070.4 237.9h.01M1070.4 237.3h.01M1070.4 236.7h.01M1070.4 236.1h.01M1070.4 235.6h.01M1070.4 235.0h.01M1070.4 234.4h.01M1070.4 233.9h.01M1070.4 233.3h.01M1070.4 232.8h.01M1070.4 232.2h.01M1070.4 231.7h.01M1070.4 231.2h.01M1070.4 230.6h.01M1070.4 230.1h.01M1070.4 229.6h.01M1070.4 229.1h.01M1070.4 228.6h.01M1070.4 228.0h.01M1070.4 227.5h.01M1070.4 227.0h.01M1070.4 226.5h.01M1070.4 226.0h.01M1070.4 225.6h.01M1070.4 225.1h.01M1070.4 224.6h.01M1070.4 224.1h.01M1070.4 223.6h.01M1070.4 223.2h.01M1070.4 222.7h.01M1070.4 222.2h.01M1070.4 221.8h.01M1070.4 221.3h.01M1070.4 220.9h.01M1070.4 220.4h.01M1070.4 220.0h.01M1070.4 219.5h.01M1070.4 219.1h.01M1070.4 218.6h.01M1070.4 218.2h.01M1070.4 217.8h.01M1070.4 217.3h.01M1070.4 216.9h.01M1070.4 216.5h.01M1070.4 216.1h.01M1070.4 215.6h.01M1070.4 215.2h.01M1070.4 214.8h.01M1070.4 214.4h.01M1070.4 214.0h.01M1070.4 213.6h.01M1070.4 213.2h.01M1070.4 212.8h.01M1070.4 212.4h.01M1070.4 212.0h.01M1070.4 211.6h.01M1070.4 211.2h.01M1070.4 210.8h.01M1070.4 210.4h.01M1070.4 210.0h.01M1070.4 209.6h.01M1070.4 209.3h.01M1070.4 208.9h.01M1070.4 208.5h.01M1070.4 208.1h.01M1070.4 207.8h.01M1070.4 207.4h.01M1070.4 207.0h.01M1070.4 206.7h.01M1070.4 206.3h.01M1070.4 205.9h.01M1070.4 205.6h.01M1070.4 205.2h.01M1070.4 204.9h.01M1070.4 204.5h.01M1070.4 204.2h.01M1070.4 203.8h.01M1070.4 203.5h.01M1070.4 203.1h.01M1070.4 202.8h.01M1070.4 202.4h.01M1070.4 202.1h.01M1070.4 201.8h.01M1070.4 201.4h.01M1070.4 201.1h.01M1070.4 200.8h.01M1070.4 200.4h.01M1070.4 200.1h.01M1070.4 199.8h.01M1070.4 199.4h.01M1070.4 199.1h.01M1070.4 198.8h.01M1070.4 198.5h.01M1070.4 198.2h.01M1070.4 197.8h.01M1070.4 197.5h.01M1070.4 197.2h.01M1070.4 196.9h.01M1070.4 196.6h.01M1070.4 196.3h.01M1070.4 196.0h.01M1070.4 195.7h.01M1070.4 195.4h.01M1070.4 195.0h.01M1070.4 194.7h.01M1070.4 194.4h.01M1070.4 194.1h.01M1070.4 193.8h.01M1070.4 193.5h.01M1070.4 193.3h.01M1070.4 193.0h.01M1070.4 192.7h.01M1070.4 192.4h.01M1070.4 192.1h.01M1070.4 191.8h.01M1070.4 191.5h.01M1070.4 191.2h.01M1070.4 190.9h.01M1070.4 190.6h.01M1070.4 190.4h.01M1070.4 190.1h.01M1070.4 189.8h.01M1070.4 189.5h.01M1070.4 189.2h.01M1070.4 189.0h.01M1070.4 188.7h.01M1070.4 188.4h.01M1070.4 188.1h.01M1070.4 187.9h.01M1070.4 187.6h.01M1070.4 187.3h.01M1070.4 187.1h.01M1070.4 186.8h.01M1070.4 186.5h.01M1070.4 186.3h.01M1070.4 186.0h.01M1070.4 185.7h.01M1070.4 185.5h.01M1070.4 185.2h.01M1070.4 184.9h.01M1070.4 184.7h.01M1070.4 184.4h.01M1070.4 184.2h.01M1070.4 183.9h.01M1070.4 183.7h.01M1070.4 183.4h.01M1070.4 183.2h.01M1070.4 182.9h.01M1070.4 182.7h.01M1070.4 182.4h.01M1070.4 182.2h.01M1070.4 181.9h.01M1070.4 181.7h.01M1070.4 181.4h.01M1070.4 181.2h.01M1070.4 180.9h.01M1070.4 180.7h.01M1070.4 180.4h.01M1070.4 180.2h.01M1070.4 180.0h.01M1070.4 179.7h.01M1070.4 179.5h.01M1070.4 179.2h.01M1070.4 179.0h.01M1070.4 178.8h.01M1070.4 178.5h.01M1070.4 178.3h.01M1070.4 178.1h.01M1070.4 177.8h.01M1070.4 177.6h.01M1070.4 177.4h.01M1070.4 177.1h.01M1070.4 176.9h.01M1070.4 176.7h.01M1070.4 176.4h.01M1070.4 176.2h.01M1070.4 176.0h.01M1070.4 175.8h.01M1070.4 175.5h.01M1070.4 175.3h.01M1070.4 175.1h.01M1070.4 174.9h.01M1070.4 174.7h.01M1070.4 174.4h.01M1070.4 174.2h.01M1070.4 174.0h.01M1070.4 173.8h.01M1070.4 173.6h.01M1070.4 173.3h.01M1070.4 173.1h.01M1070.4 172.9h.01M1070.4 172.7h.01M1070.4 172.5h.01M1070.4 172.3h.01M1070.4 172.0h.01M1070.4 171.8h.01M1070.4 171.6h.01M1070.4 171.4h.01M1070.4 171.2h.01M1070.4 171.0h.01M1070.4 170.8h.01M1070.4 170.6h.01M1070.4 170.4h.01M1070.4 170.2h.01M1070.4 170.0h.01M1070.4 169.8h.01M1070.4 169.5h.01M1070.4 169.3h.01M1070.4 169.1h.01M1070.4 168.9h.01M1070.4 168.7h.01M1070.4 168.5h.01M945.4 102.7h.01M960.7 103.2h.01M968.1 103.7h.01M979.5 95.6h.01M968.1 110.6h.01M960.7 112.6h.01M979.5 112.1h.01M994.8 111.6h.01M989.3 115.5h.01M953.8 117.5h.01M945.4 118.5h.01M972.6 118.0h.01M967.6 119.5h.01M1007.1 118.5h.01M1017.9 114.5h.01M1027.3 116.7h.01M1012.0 122.4h.01M1024.4 127.4h.01M999.2 127.4h.01M1042.6 122.4h.01M1052.5 110.1h.01M1058.9 105.7h.01M1054.4 115.5h.01M1057.4 122.4h.01M1048.5 129.3h.01M1062.8 130.3h.01M1075.2 104.7h.01M1079.1 114.5h.01M1043.6 138.7h.01M1058.4 136.7h.01M1073.2 134.8h.01M1028.8 134.8h.01M1033.7 143.1h.01M989.3 129.3h.01M981.4 124.4h.01M967.6 132.3h.01M960.7 129.3h.01M1007.0 118.7h.01M1018.0 114.2h.01M1027.5 116.6h.01M1024.7 127.9h.01M1013.4 127.1h.01M1028.2 134.9h.01M1033.8 143.4h.01M1042.3 121.5h.01M1047.9 129.3h.01M1052.9 110.2h.01M1058.9 105.3h.01M1055.0 115.9h.01M1056.4 122.9h.01M1043.7 138.4h.01M1062.7 130.4h.01M1058.5 136.3h.01M1056.4 146.9h.01M1066.2 141.2h.01M1073.3 134.2h.01M1074.7 144.1h.01M1075.0 104.6h.01M1081.0 115.2h.01M1086.7 111.4h.01M1085.3 124.6h.01M1100.5 120.4h.01M1093.7 127.9h.01M1088.1 133.5h.01M1105.7 127.9h.01M1112.1 132.8h.01M1115.6 139.8h.01M1114.9 144.1h.01M1097.3 145.9h.01M1112.8 151.1h.01M1105.0 154.6h.01M1121.2 148.3h.01M1126.8 153.2h.01M1132.5 157.5h.01M1121.2 158.2h.01M1076.8 151.1h.01M1083.2 153.9h.01M1088.8 157.5h.01M1067.7 156.7h.01M1066.2 162.4h.01M1073.3 165.2h.01M1084.6 165.2h.01M1098.7 163.8h.01M1107.1 159.6h.01M1112.8 165.2h.01M1126.8 165.2h.01M1131.1 165.2h.01M1143.1 159.6h.01M1150.8 162.4h.01M1158.6 161.7h.01M1163.5 164.5h.01M1167.7 170.1h.01M1142.4 166.6h.01M1153.6 169.4h.01M1125.4 172.3h.01M1177.6 174.4h.01M1122.1 147.0h.01M1127.8 154.1h.01M1132.7 158.3h.01M1143.3 159.7h.01M1151.0 162.6h.01M1158.8 162.6h.01M1163.7 165.4h.01M1167.2 171.0h.01M1126.3 171.7h.01M1138.3 170.3h.01M1148.2 171.0h.01M1177.8 177.4h.01M1177.8 181.6h.01M1170.7 176.6h.01M1171.4 185.1h.01M1162.3 180.9h.01M1153.8 179.5h.01M1132.7 180.2h.01M1141.1 182.3h.01M1153.8 188.6h.01M1124.2 182.3h.01M1153.8 196.4h.01M1146.8 195.0h.01M1134.1 192.1h.01M1163.7 203.4h.01M1170.7 209.8h.01M1180.3 203.1h.01M1193.0 202.7h.01M1201.0 206.5h.01M1177.8 214.7h.01M1179.2 218.9h.01M1199.6 217.5h.01M1193.0 222.5h.01M1184.1 226.0h.01M1186.9 230.2h.01M1200.3 228.1h.01M1206.7 233.7h.01M1207.4 237.3h.01M1193.3 238.0h.01M1193.5 227.0h.01M1200.6 228.5h.01M1206.9 234.1h.01M1207.6 238.3h.01M1204.1 244.0h.01M1197.0 241.1h.01M1213.3 251.7h.01M1223.8 248.9h.01M1227.4 253.8h.01M1223.8 260.2h.01M1206.9 255.2h.01M1215.4 265.1h.01M1236.5 264.4h.01M1246.4 267.2h.01M1257.2 259.7h.01M1260.5 266.8h.01M1270.6 272.4h.01M1242.9 276.7h.01M1254.4 281.3h.01M1247.1 284.8h.01M1246.4 290.5h.01M1252.0 291.9h.01M1276.3 284.1h.01M1275.3 287.7h.01M1265.4 291.9h.01M1277.1 294.7h.01M1252.7 296.8h.01M1247.1 300.3h.01M1236.5 300.3h.01M1225.2 303.2h.01M1262.6 301.0h.01M1266.8 305.3h.01M1259.8 311.6h.01M1278.1 303.2h.01M1290.8 303.9h.01M1283.7 308.8h.01M1280.9 313.0h.01M1293.6 315.1h.01M1305.6 315.8h.01M1249.2 310.2h.01M1242.1 309.5h.01M1232.3 311.6h.01M1222.4 313.0h.01M1212.6 310.2h.01M1202.7 308.1h.01M1247.8 317.3h.01M1192.8 313.7h.01M1194.2 315.6h.01M1202.0 311.4h.01M1211.1 315.6h.01M1222.4 312.8h.01M1233.7 314.2h.01M1247.8 312.8h.01M1259.8 312.1h.01M1282.3 313.5h.01M1292.9 315.6h.01M1305.6 315.6h.01M1299.9 319.9h.01M1302.1 325.5h.01M1283.7 322.7h.01M1278.1 327.6h.01M1270.6 324.5h.01M1259.1 323.0h.01M1251.3 323.4h.01M1247.8 317.8h.01M1232.3 321.3h.01M1230.9 326.2h.01M1226.6 320.6h.01M1217.5 327.6h.01M1213.3 329.0h.01M1202.7 328.3h.01M1204.1 332.6h.01M1220.3 335.4h.01M1215.4 332.6h.01M1200.6 337.5h.01M1208.3 339.6h.01M1192.1 336.1h.01M1205.5 343.1h.01M1194.2 321.3h.01M1202.7 319.9h.01M1209.7 321.3h.01M1242.9 336.5h.01M1249.9 332.6h.01M1252.0 342.4h.01M1270.3 336.5h.01M1300.6 334.9h.01M1321.1 324.5h.01M1339.4 335.7h.01M1306.0 345.5h.01M1299.7 353.7h.01M1289.1 362.9h.01M1326.7 364.7h.01M1317.8 385.8h.01M1307.7 389.9h.01M1240.3 349.7h.01M1217.5 345.2h.01M1220.3 350.2h.01M1207.2 353.3h.01M1221.3 359.3h.01M1204.8 362.9h.01M1192.8 360.7h.01M1198.5 367.1h.01M1220.3 366.1h.01M1229.9 363.6h.01M1237.9 368.8h.01M1245.7 369.6h.01M1251.7 360.7h.01M1213.7 373.7h.01M1200.6 378.8h.01M1228.3 379.8h.01M1227.4 383.3h.01M1214.4 391.7h.01M1236.2 406.5h.01M1221.3 408.7h.01M1221.3 409.6h.01M1236.5 406.6h.01M1239.3 419.7h.01M1197.8 431.7h.01M1206.5 435.7h.01M1236.8 441.9h.01M1353.8 416.8h.01M1366.2 443.7h.01M1038.5 400.0h.01M1045.5 406.3h.01M1053.3 402.8h.01M1063.1 402.1h.01M1032.8 405.6h.01M1037.0 412.7h.01M1041.3 419.7h.01M1045.5 428.2h.01M1050.4 417.6h.01M1064.5 414.8h.01M1082.9 406.3h.01M1082.9 413.0h.01M1090.6 404.2h.01M1097.7 408.5h.01M1096.2 416.2h.01M1088.5 421.4h.01M1105.4 401.4h.01M1112.5 411.3h.01M1114.6 418.0h.01M1119.5 409.2h.01M1124.4 404.2h.01M1137.1 406.6h.01M1140.6 416.6h.01M1139.9 426.1h.01M1131.1 424.7h.01M1152.6 417.6h.01M1155.4 414.5h.01M1033.5 432.7h.01M1038.7 441.6h.01M1052.8 439.7h.01M1084.3 437.8h.01M1098.4 438.5h.01M1082.9 445.8h.01M1077.9 449.6h.01M1099.8 447.6h.01M1102.2 451.7h.01M1115.3 450.7h.01M1128.7 438.5h.01M1128.7 448.6h.01M1151.2 436.9h.01M1136.4 460.6h.01M1064.8 459.6h.01M1073.4 474.7h.01M1120.2 481.7h.01M1032.8 477.5h.01M1031.4 471.9h.01M1070.2 494.7h.01M1046.2 498.0h.01M1181.1 419.5h.01M1180.1 441.9h.01M1197.7 431.7h.01M1206.5 435.7h.01M1221.4 409.6h.01M1046.2 498.8h.01M1070.2 495.7h.01M1075.1 503.9h.01M1062.6 527.7h.01M1075.1 547.9h.01M1085.4 565.8h.01M1096.0 583.8h.01M1099.8 589.7h.01M1046.0 430.7h.01M1052.6 439.6h.01M1038.5 441.6h.01M1033.6 432.8h.01M1064.6 459.6h.01M1073.3 474.8h.01M1070.0 494.8h.01M1075.2 503.7h.01M1084.1 437.3h.01M1082.9 445.5h.01M1078.0 449.7h.01M1098.4 438.7h.01M1099.8 447.6h.01M1102.2 451.8h.01M1115.3 450.7h.01M1127.3 438.7h.01M1127.3 448.6h.01M1120.3 481.7h.01M1100.1 367.8h.01M1117.0 369.2h.01M1126.8 363.6h.01M1135.3 366.4h.01M1149.4 362.1h.01M1155.0 360.7h.01M1160.7 367.8h.01M1174.8 366.4h.01M1184.6 365.7h.01M1192.4 360.7h.01M1198.7 366.4h.01M1118.4 373.4h.01M1131.1 376.2h.01M1142.4 372.0h.01M1174.8 374.8h.01M1156.4 379.8h.01M1088.8 376.2h.01M1063.4 376.2h.01M1078.9 372.0h.01M1056.4 369.2h.01M1066.2 367.8h.01M1064.8 383.3h.01M1083.2 386.8h.01M1095.8 386.8h.01M1109.9 381.9h.01M1114.2 386.1h.01M1122.6 383.3h.01M1125.4 388.9h.01M1135.3 388.9h.01M1142.4 387.5h.01M1140.9 380.5h.01M1033.8 380.5h.01M1042.3 386.1h.01M1055.0 387.5h.01M1035.2 388.9h.01M1083.2 395.3h.01M1091.6 397.4h.01M1105.7 399.5h.01M1140.9 396.7h.01M1128.3 397.4h.01M1122.6 403.0h.01M1066.2 398.8h.01M1055.0 397.4h.01M1046.5 403.0h.01M1039.5 394.6h.01M1062.0 400.2h.01M1083.2 406.5h.01M1091.6 407.3h.01M1098.7 407.3h.01M1136.7 405.8h.01M1118.4 408.7h.01M1043.7 405.8h.01M1043.7 360.7h.01M1028.2 367.8h.01M1019.7 356.5h.01M1042.3 352.3h.01M1063.4 348.1h.01M1059.2 356.5h.01M1078.9 355.1h.01M1093.0 356.5h.01M1102.9 353.7h.01M1112.8 356.5h.01M1126.8 350.9h.01M1132.5 346.6h.01M1142.4 356.5h.01M1149.4 345.2h.01M1160.7 345.2h.01M1167.7 351.6h.01M1174.8 356.5h.01M1184.6 355.1h.01M1181.8 346.6h.01M1191.7 349.5h.01M1148.0 332.6h.01M1153.6 326.9h.01M1169.1 326.9h.01M1170.5 338.2h.01M1181.8 338.2h.01M1190.3 334.0h.01M1181.8 319.9h.01M1188.9 324.1h.01M1195.9 315.6h.01M1155.0 315.6h.01M1162.1 319.9h.01M945.4 102.6h.01M960.9 102.6h.01M967.9 103.3h.01M967.9 110.3h.01M960.9 113.1h.01M953.8 116.6h.01M945.4 118.1h.01M979.2 112.4h.01M994.7 111.7h.01M989.1 116.6h.01M973.6 118.1h.01M966.5 120.9h.01M983.4 122.3h.01M979.2 127.9h.01M987.7 129.3h.01M982.0 133.6h.01M962.3 127.9h.01M967.9 132.9h.01M953.8 125.1h.01M945.4 126.5h.01M945.4 135.0h.01M953.8 136.4h.01M953.8 143.4h.01M962.3 137.8h.01M973.6 137.8h.01M998.9 126.5h.01M998.9 132.1h.01M1007.4 118.1h.01M1011.6 122.3h.01M1015.8 126.5h.01M1007.4 127.9h.01M1024.3 126.5h.01M1027.1 134.3h.01M1018.7 133.6h.01M1032.8 142.0h.01M1024.3 140.6h.01M1013.0 136.4h.01M1004.6 136.4h.01M996.1 137.8h.01M987.7 139.2h.01M979.2 140.6h.01M962.3 144.8h.01M970.7 143.4h.01M1060.9 139.2h.01M1068.0 143.4h.01M1075.0 146.2h.01M1058.1 147.7h.01M1066.6 150.5h.01M1060.9 156.1h.01M1055.3 142.0h.01M1082.1 153.3h.01M1089.1 158.9h.01M1072.2 158.9h.01M1162.5 342.8h.01M1168.7 293.0h.01M1216.8 318.9h.01M1075.7 169.3h.01M1072.3 377.8h.01M1147.6 157.0h.01M1169.5 314.2h.01M1036.2 129.9h.01M1124.4 325.3h.01M1227.0 324.6h.01M1189.6 283.2h.01M1114.0 370.6h.01M1061.3 159.6h.01M1162.5 304.1h.01M1158.5 332.5h.01M1188.0 299.5h.01M1217.7 277.4h.01M1206.7 278.2h.01M1177.3 210.5h.01M1162.9 299.4h.01M1081.3 379.3h.01M1025.0 353.8h.01M1130.5 333.0h.01M1119.2 334.9h.01M1117.1 327.8h.01M1171.9 214.9h.01M1165.7 317.1h.01M1158.8 327.6h.01M1233.7 274.6h.01M1164.6 347.5h.01M1154.2 333.3h.01M1121.7 167.5h.01M1231.6 330.3h.01M1019.0 374.5h.01M1210.7 289.6h.01M1202.4 295.6h.01M1163.3 331.7h.01M1025.0 365.9h.01M1077.1 337.9h.01M1187.0 315.0h.01M1187.3 223.0h.01M1113.0 345.7h.01M1145.2 169.6h.01M1192.4 302.4h.01M1197.3 230.8h.01M1138.6 322.6h.01M1153.5 182.9h.01M1210.8 254.7h.01M1255.5 304.8h.01M1095.9 343.9h.01M1078.3 341.8h.01M1214.1 303.8h.01M1243.8 296.2h.01M1148.7 315.9h.01M1148.0 353.4h.01M1160.9 313.7h.01M1111.5 374.1h.01M1108.7 346.3h.01M1171.5 342.1h.01M1239.1 307.4h.01M1073.6 332.3h.01M1202.0 265.2h.01M1218.1 312.3h.01M1156.9 186.1h.01M1154.0 320.8h.01M1022.8 350.6h.01M1214.4 341.1h.01M1055.8 392.7h.01M1062.1 370.1h.01M1196.9 326.3h.01M1101.4 356.9h.01M1178.4 222.0h.01M1238.3 321.0h.01M1092.8 335.2h.01M1198.8 265.9h.01M1183.9 233.9h.01M1061.9 146.1h.01M1109.0 162.4h.01M1181.0 275.4h.01M1098.5 375.6h.01M1193.2 270.1h.01M1032.5 137.8h.01M1130.9 343.8h.01M1086.1 333.4h.01M1213.8 279.5h.01M1182.4 295.1h.01M1030.5 131.9h.01M1079.8 344.9h.01M1140.9 344.8h.01M1223.8 256.1h.01M1215.1 323.7h.01M1026.0 387.1h.01M1169.5 347.8h.01M1072.0 374.3h.01M1191.7 273.5h.01M1045.7 149.7h.01M1052.8 367.4h.01M1103.7 363.8h.01M1208.2 247.6h.01M1203.1 257.9h.01M1109.6 350.5h.01M1220.5 310.1h.01M1191.8 289.0h.01M1179.3 308.8h.01M1186.6 308.0h.01M1190.1 237.6h.01M1029.9 354.4h.01M1138.4 355.8h.01M1100.1 338.8h.01M1089.3 166.0h.01M1079.1 358.1h.01M1180.2 279.6h.01M1197.3 346.4h.01M1238.4 313.7h.01M1189.4 270.2h.01M1242.6 304.7h.01M1152.4 312.7h.01M1214.1 313.5h.01M1123.6 340.2h.01M1218.3 250.7h.01M1206.2 260.3h.01M1228.0 283.3h.01M1085.8 376.8h.01M1217.0 261.3h.01M1208.9 345.2h.01M1240.6 301.0h.01M1176.9 334.2h.01M1197.9 302.0h.01M1175.8 293.0h.01M1057.0 363.3h.01M1122.2 367.2h.01M1173.2 328.2h.01M1169.2 307.9h.01M1158.3 182.1h.01M1230.5 306.4h.01M1178.1 352.8h.01M1209.6 280.2h.01M1038.8 391.0h.01M1024.6 132.4h.01M1205.5 294.3h.01M1176.4 314.4h.01M1196.7 286.3h.01M1236.7 309.5h.01M1074.8 357.3h.01M1197.6 278.8h.01M1158.7 174.3h.01M1074.0 337.6h.01M1197.0 244.9h.01M1094.9 369.6h.01M1037.1 339.2h.01M1077.7 377.6h.01M1081.9 167.3h.01M1181.3 288.0h.01M1204.4 289.5h.01M1133.0 320.4h.01M1146.2 160.8h.01M1080.3 158.5h.01M1186.8 342.2h.01M1121.7 343.0h.01M1153.5 350.3h.01M1202.6 276.4h.01M1183.0 325.5h.01M1241.2 268.3h.01M1121.9 329.9h.01M1172.3 290.3h.01M1073.4 349.1h.01M1211.2 259.5h.01M1199.1 282.6h.01M1074.1 369.8h.01M1080.9 352.4h.01M1095.1 375.7h.01M1159.0 304.9h.01M1101.5 342.7h.01M1153.2 300.8h.01M1223.7 275.5h.01M1166.7 297.7h.01M1152.5 192.9h.01M1142.7 310.6h.01M1185.4 293.0h.01M1112.5 328.5h.01M1172.1 277.4h.01M1174.1 317.7h.01M1118.7 166.0h.01M1113.8 364.4h.01M1045.8 143.9h.01M1109.7 340.2h.01M1057.2 155.8h.01M1189.4 306.3h.01M1047.7 139.1h.01M1106.0 356.6h.01M1183.9 237.9h.01M1186.4 279.7h.01M1220.5 274.9h.01M1138.0 308.3h.01M1135.3 333.0h.01M1140.5 325.9h.01M1139.2 311.5h.01M1102.1 332.1h.01M1239.9 292.9h.01M1205.0 264.9h.01M1046.5 387.5h.01M1192.7 328.0h.01M1220.0 297.0h.01M1234.4 279.1h.01M1076.6 351.5h.01M1236.3 269.1h.01M1074.5 388.1h.01M1217.1 246.1h.01M1021.8 136.2h.01M1194.2 338.6h.01M1153.4 305.7h.01M1184.2 298.7h.01M1083.3 161.8h.01M1176.9 348.9h.01M1118.7 341.7h.01M1164.0 183.8h.01M1199.1 271.6h.01M1091.8 342.1h.01M1080.8 349.3h.01M1186.5 318.7h.01M1143.3 320.7h.01M1053.1 148.1h.01M1188.4 288.4h.01M1239.9 280.7h.01M1136.8 327.8h.01M1134.2 310.9h.01M1197.7 305.3h.01M1176.6 297.0h.01M1175.5 337.6h.01M1137.4 166.6h.01M1191.4 293.6h.01M1167.2 286.0h.01M1206.4 272.7h.01M1089.4 170.4h.01M1148.0 327.9h.01"/>
<path d="M1000.0 130.0 L1040.0 152.0 L1062.0 170.0 L1100.0 172.0 L1140.0 168.0 L1155.0 176.0 L1150.0 186.0 L1149.0 198.0 L1158.0 206.0 L1166.0 216.0 L1180.0 235.0 L1195.0 250.0 L1205.0 262.0 L1170.0 275.0 L1164.0 294.0 L1137.0 307.0 L1123.0 326.0 L1084.0 332.0 L1056.0 326.0 L1028.0 335.0 L1000.0 335.0 Z" fill="#000" stroke="#000" stroke-width="9.6" stroke-linejoin="round"/>
<path class="rl" d="M808 137L1387.9 313.1"/>
<rect class="fr" x="808.0" y="75.6" width="579.9" height="533.7"/>
<path class="ax" d="M852.8 609.3H1317.2"/>
<path class="ax" d="M852.8 609.3v11.5"/>
<text class="lb" x="852.8" y="650.9" text-anchor="middle">1</text>
<path class="ax" d="M930.2 609.3v11.5"/>
<text class="lb" x="930.2" y="650.9" text-anchor="middle">2</text>
<path class="ax" d="M1007.6 609.3v11.5"/>
<text class="lb" x="1007.6" y="650.9" text-anchor="middle">3</text>
<path class="ax" d="M1085.0 609.3v11.5"/>
<text class="lb" x="1085.0" y="650.9" text-anchor="middle">4</text>
<path class="ax" d="M1162.4 609.3v11.5"/>
<text class="lb" x="1162.4" y="650.9" text-anchor="middle">5</text>
<path class="ax" d="M1239.8 609.3v11.5"/>
<text class="lb" x="1239.8" y="650.9" text-anchor="middle">6</text>
<path class="ax" d="M1317.2 609.3v11.5"/>
<text class="lb" x="1317.2" y="650.9" text-anchor="middle">7</text>
<path class="ax" d="M808.0 95.5V481.9"/>
<path class="ax" d="M808.0 95.5h-11.5"/>
<text class="lb" transform="translate(779.9 95.5) rotate(-90)" text-anchor="middle">0</text>
<path class="ax" d="M808.0 224.3h-11.5"/>
<text class="lb" transform="translate(779.9 224.3) rotate(-90)" text-anchor="middle">−2</text>
<path class="ax" d="M808.0 353.1h-11.5"/>
<text class="lb" transform="translate(779.9 353.1) rotate(-90)" text-anchor="middle">−4</text>
<path class="ax" d="M808.0 481.9h-11.5"/>
<text class="lb" transform="translate(779.9 481.9) rotate(-90)" text-anchor="middle">−6</text>
<text class="lb" x="1097.7" y="696.5" text-anchor="middle">log(k)</text>
<text class="lb" transform="translate(733.6 342) rotate(-90)" text-anchor="middle">log(C(k))</text>
<text class="tt" x="768" y="71.7">b</text>
<text class="st" x="1213.5" y="108">R−squared = 0.18</text>
<text class="st" x="1213.5" y="131">P−value &lt; 2.2e−16</text>
</g>
</svg>
</body></html>
